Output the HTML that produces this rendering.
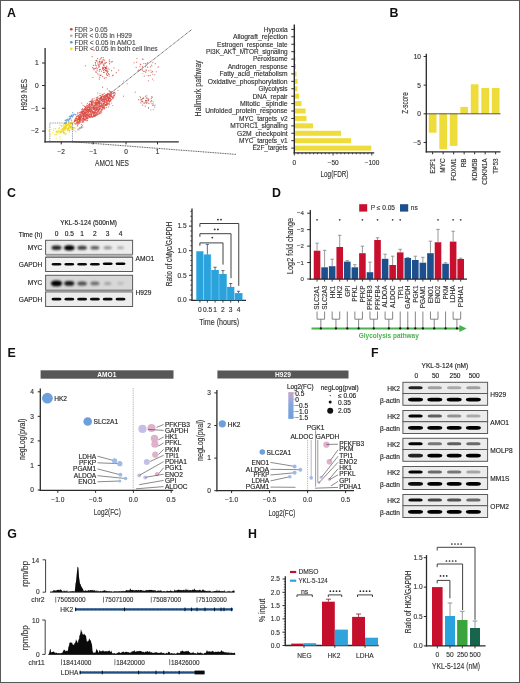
<!DOCTYPE html>
<html><head><meta charset="utf-8"><style>
html,body{margin:0;padding:0;background:#fff;}
body{width:520px;height:683px;overflow:hidden;}
svg{display:block;font-family:"Liberation Sans", sans-serif;will-change:transform;}
</style></head><body>
<svg width="520" height="683" viewBox="0 0 520 683">
<defs>
<filter id="bl" x="-50%" y="-100%" width="200%" height="300%"><feGaussianBlur stdDeviation="0.65"/></filter>
<filter id="bl2" x="-50%" y="-100%" width="200%" height="300%"><feGaussianBlur stdDeviation="0.9"/></filter>
<linearGradient id="lg" x1="0" y1="0" x2="0" y2="1">
<stop offset="0" stop-color="#c9a3c4"/><stop offset="0.22" stop-color="#a9a9d8"/>
<stop offset="0.45" stop-color="#86a7dc"/><stop offset="1" stop-color="#6e9edd"/></linearGradient>
</defs>
<rect x="0" y="0" width="520" height="683" fill="#fff"/>
<text x="7" y="16.9" font-size="12.4" font-weight="bold" fill="#111">A</text>
<circle cx="71.3" cy="29.25" r="1.35" fill="#c8433a"/>
<text x="74.4" y="31.61" font-size="6.6" textLength="33.1" lengthAdjust="spacingAndGlyphs" fill="#4a4a4a" stroke="#4a4a4a" stroke-width="0.14">FDR &gt; 0.05</text>
<circle cx="71.3" cy="35.75" r="1.35" fill="#b0b0b0"/>
<text x="74.4" y="38.11" font-size="6.6" textLength="57.5" lengthAdjust="spacingAndGlyphs" fill="#4a4a4a" stroke="#4a4a4a" stroke-width="0.14">FDR &lt; 0.05 in H929</text>
<circle cx="71.3" cy="42.25" r="1.35" fill="#5a9ad0"/>
<text x="74.4" y="44.61" font-size="6.6" textLength="61.2" lengthAdjust="spacingAndGlyphs" fill="#4a4a4a" stroke="#4a4a4a" stroke-width="0.14">FDR &lt; 0.05 in AMO1</text>
<circle cx="71.3" cy="48.9" r="1.35" fill="#eedc2a"/>
<text x="74.4" y="51.26" font-size="6.6" textLength="83.3" lengthAdjust="spacingAndGlyphs" fill="#4a4a4a" stroke="#4a4a4a" stroke-width="0.14">FDR &lt; 0.05 in both cell lines</text>
<line x1="72.5" y1="123" x2="191.9" y2="29.4" stroke="#2a2a2a" stroke-width="0.8" stroke-dasharray="1 0.7"/>
<line x1="72.5" y1="141.8" x2="236" y2="154.4" stroke="#2a2a2a" stroke-width="0.8" stroke-dasharray="1 0.7"/>
<g>
<circle cx="84.22" cy="109.12" r="0.62" fill="#dc4a44" fill-opacity="0.8"/>
<circle cx="96.94" cy="97.76" r="0.62" fill="#dc4a44" fill-opacity="0.8"/>
<circle cx="85" cy="106.57" r="0.62" fill="#dc4a44" fill-opacity="0.8"/>
<circle cx="77.15" cy="119.82" r="0.62" fill="#dc4a44" fill-opacity="0.8"/>
<circle cx="103.99" cy="108.94" r="0.62" fill="#dc4a44" fill-opacity="0.8"/>
<circle cx="107.74" cy="94.1" r="0.62" fill="#dc4a44" fill-opacity="0.8"/>
<circle cx="89.49" cy="117.3" r="0.62" fill="#dc4a44" fill-opacity="0.8"/>
<circle cx="82.09" cy="118.57" r="0.62" fill="#dc4a44" fill-opacity="0.8"/>
<circle cx="99.16" cy="101.68" r="0.62" fill="#dc4a44" fill-opacity="0.8"/>
<circle cx="83.95" cy="118.84" r="0.62" fill="#dc4a44" fill-opacity="0.8"/>
<circle cx="89.84" cy="107.58" r="0.62" fill="#dc4a44" fill-opacity="0.8"/>
<circle cx="97.69" cy="104.31" r="0.62" fill="#dc4a44" fill-opacity="0.8"/>
<circle cx="88.93" cy="117.31" r="0.62" fill="#dc4a44" fill-opacity="0.8"/>
<circle cx="100.56" cy="98.37" r="0.62" fill="#dc4a44" fill-opacity="0.8"/>
<circle cx="97.91" cy="105.56" r="0.62" fill="#dc4a44" fill-opacity="0.8"/>
<circle cx="93.66" cy="113.37" r="0.62" fill="#dc4a44" fill-opacity="0.8"/>
<circle cx="80.16" cy="118.5" r="0.62" fill="#dc4a44" fill-opacity="0.8"/>
<circle cx="76.81" cy="123.77" r="0.62" fill="#dc4a44" fill-opacity="0.8"/>
<circle cx="101.2" cy="109.96" r="0.62" fill="#dc4a44" fill-opacity="0.8"/>
<circle cx="88.65" cy="115.75" r="0.62" fill="#dc4a44" fill-opacity="0.8"/>
<circle cx="99.25" cy="105.59" r="0.62" fill="#dc4a44" fill-opacity="0.8"/>
<circle cx="96.1" cy="113.29" r="0.62" fill="#dc4a44" fill-opacity="0.8"/>
<circle cx="112.75" cy="93.27" r="0.62" fill="#dc4a44" fill-opacity="0.8"/>
<circle cx="77.96" cy="123.44" r="0.62" fill="#dc4a44" fill-opacity="0.8"/>
<circle cx="84.72" cy="113.13" r="0.62" fill="#dc4a44" fill-opacity="0.8"/>
<circle cx="89.78" cy="104.59" r="0.62" fill="#dc4a44" fill-opacity="0.8"/>
<circle cx="93.57" cy="115.57" r="0.62" fill="#dc4a44" fill-opacity="0.8"/>
<circle cx="76.92" cy="120.38" r="0.62" fill="#dc4a44" fill-opacity="0.8"/>
<circle cx="112.87" cy="98.66" r="0.62" fill="#dc4a44" fill-opacity="0.8"/>
<circle cx="84.73" cy="113.66" r="0.62" fill="#dc4a44" fill-opacity="0.8"/>
<circle cx="92.29" cy="116.65" r="0.62" fill="#dc4a44" fill-opacity="0.8"/>
<circle cx="94.86" cy="109.23" r="0.62" fill="#dc4a44" fill-opacity="0.8"/>
<circle cx="90.01" cy="108.55" r="0.62" fill="#dc4a44" fill-opacity="0.8"/>
<circle cx="101.68" cy="111.16" r="0.62" fill="#dc4a44" fill-opacity="0.8"/>
<circle cx="96.4" cy="108.63" r="0.62" fill="#dc4a44" fill-opacity="0.8"/>
<circle cx="97.89" cy="96.83" r="0.62" fill="#dc4a44" fill-opacity="0.8"/>
<circle cx="109.26" cy="102.79" r="0.62" fill="#dc4a44" fill-opacity="0.8"/>
<circle cx="89.22" cy="109.78" r="0.62" fill="#dc4a44" fill-opacity="0.8"/>
<circle cx="79.4" cy="116.63" r="0.62" fill="#dc4a44" fill-opacity="0.8"/>
<circle cx="84.62" cy="106.25" r="0.62" fill="#dc4a44" fill-opacity="0.8"/>
<circle cx="96.04" cy="99.73" r="0.62" fill="#dc4a44" fill-opacity="0.8"/>
<circle cx="83.08" cy="113.75" r="0.62" fill="#dc4a44" fill-opacity="0.8"/>
<circle cx="85.54" cy="107.39" r="0.62" fill="#dc4a44" fill-opacity="0.8"/>
<circle cx="93.04" cy="108.47" r="0.62" fill="#dc4a44" fill-opacity="0.8"/>
<circle cx="85.98" cy="109.81" r="0.62" fill="#dc4a44" fill-opacity="0.8"/>
<circle cx="91.78" cy="100.24" r="0.62" fill="#dc4a44" fill-opacity="0.8"/>
<circle cx="100.59" cy="98.65" r="0.62" fill="#dc4a44" fill-opacity="0.8"/>
<circle cx="86.04" cy="107.83" r="0.62" fill="#dc4a44" fill-opacity="0.8"/>
<circle cx="106.09" cy="99.35" r="0.62" fill="#dc4a44" fill-opacity="0.8"/>
<circle cx="104.7" cy="96.92" r="0.62" fill="#dc4a44" fill-opacity="0.8"/>
<circle cx="85.77" cy="119.75" r="0.62" fill="#dc4a44" fill-opacity="0.8"/>
<circle cx="109.82" cy="101.29" r="0.62" fill="#dc4a44" fill-opacity="0.8"/>
<circle cx="83.47" cy="116.44" r="0.62" fill="#dc4a44" fill-opacity="0.8"/>
<circle cx="83.41" cy="111.87" r="0.62" fill="#dc4a44" fill-opacity="0.8"/>
<circle cx="80.8" cy="112.95" r="0.62" fill="#dc4a44" fill-opacity="0.8"/>
<circle cx="83.42" cy="118.29" r="0.62" fill="#dc4a44" fill-opacity="0.8"/>
<circle cx="95.26" cy="110.22" r="0.62" fill="#dc4a44" fill-opacity="0.8"/>
<circle cx="104.92" cy="107.33" r="0.62" fill="#dc4a44" fill-opacity="0.8"/>
<circle cx="104.73" cy="99.44" r="0.62" fill="#dc4a44" fill-opacity="0.8"/>
<circle cx="89.38" cy="109.69" r="0.62" fill="#dc4a44" fill-opacity="0.8"/>
<circle cx="82.57" cy="122.15" r="0.62" fill="#dc4a44" fill-opacity="0.8"/>
<circle cx="99.73" cy="100.86" r="0.62" fill="#dc4a44" fill-opacity="0.8"/>
<circle cx="93.03" cy="101.4" r="0.62" fill="#dc4a44" fill-opacity="0.8"/>
<circle cx="101.02" cy="103.18" r="0.62" fill="#dc4a44" fill-opacity="0.8"/>
<circle cx="112" cy="93.23" r="0.62" fill="#dc4a44" fill-opacity="0.8"/>
<circle cx="83.79" cy="111.2" r="0.62" fill="#dc4a44" fill-opacity="0.8"/>
<circle cx="95.89" cy="101.9" r="0.62" fill="#dc4a44" fill-opacity="0.8"/>
<circle cx="87.75" cy="105.6" r="0.62" fill="#dc4a44" fill-opacity="0.8"/>
<circle cx="101.87" cy="109.96" r="0.62" fill="#dc4a44" fill-opacity="0.8"/>
<circle cx="95.3" cy="115.29" r="0.62" fill="#dc4a44" fill-opacity="0.8"/>
<circle cx="96.14" cy="106.89" r="0.62" fill="#dc4a44" fill-opacity="0.8"/>
<circle cx="80.87" cy="117.7" r="0.62" fill="#dc4a44" fill-opacity="0.8"/>
<circle cx="104.38" cy="101.11" r="0.62" fill="#dc4a44" fill-opacity="0.8"/>
<circle cx="87.59" cy="113.32" r="0.62" fill="#dc4a44" fill-opacity="0.8"/>
<circle cx="99.63" cy="109.42" r="0.62" fill="#dc4a44" fill-opacity="0.8"/>
<circle cx="78.81" cy="120.67" r="0.62" fill="#dc4a44" fill-opacity="0.8"/>
<circle cx="82.33" cy="113.1" r="0.62" fill="#dc4a44" fill-opacity="0.8"/>
<circle cx="105.9" cy="99.06" r="0.62" fill="#dc4a44" fill-opacity="0.8"/>
<circle cx="99.65" cy="108.9" r="0.62" fill="#dc4a44" fill-opacity="0.8"/>
<circle cx="111.19" cy="93.98" r="0.62" fill="#dc4a44" fill-opacity="0.8"/>
<circle cx="99.29" cy="104.1" r="0.62" fill="#dc4a44" fill-opacity="0.8"/>
<circle cx="97.01" cy="109.7" r="0.62" fill="#dc4a44" fill-opacity="0.8"/>
<circle cx="92.96" cy="109.53" r="0.62" fill="#dc4a44" fill-opacity="0.8"/>
<circle cx="98.04" cy="113.96" r="0.62" fill="#dc4a44" fill-opacity="0.8"/>
<circle cx="85.19" cy="115.87" r="0.62" fill="#dc4a44" fill-opacity="0.8"/>
<circle cx="78.25" cy="122.76" r="0.62" fill="#dc4a44" fill-opacity="0.8"/>
<circle cx="104.91" cy="102.57" r="0.62" fill="#dc4a44" fill-opacity="0.8"/>
<circle cx="80.09" cy="117.61" r="0.62" fill="#dc4a44" fill-opacity="0.8"/>
<circle cx="93.65" cy="105.03" r="0.62" fill="#dc4a44" fill-opacity="0.8"/>
<circle cx="80.57" cy="115.3" r="0.62" fill="#dc4a44" fill-opacity="0.8"/>
<circle cx="96.25" cy="105.14" r="0.62" fill="#dc4a44" fill-opacity="0.8"/>
<circle cx="99.83" cy="103.82" r="0.62" fill="#dc4a44" fill-opacity="0.8"/>
<circle cx="104.2" cy="96.28" r="0.62" fill="#dc4a44" fill-opacity="0.8"/>
<circle cx="78.72" cy="118.54" r="0.62" fill="#dc4a44" fill-opacity="0.8"/>
<circle cx="81.65" cy="111.34" r="0.62" fill="#dc4a44" fill-opacity="0.8"/>
<circle cx="99.43" cy="107.86" r="0.62" fill="#dc4a44" fill-opacity="0.8"/>
<circle cx="101.7" cy="100.78" r="0.62" fill="#dc4a44" fill-opacity="0.8"/>
<circle cx="102.91" cy="106.95" r="0.62" fill="#dc4a44" fill-opacity="0.8"/>
<circle cx="91.13" cy="107.03" r="0.62" fill="#dc4a44" fill-opacity="0.8"/>
<circle cx="79.51" cy="119.61" r="0.62" fill="#dc4a44" fill-opacity="0.8"/>
<circle cx="85.12" cy="111.3" r="0.62" fill="#dc4a44" fill-opacity="0.8"/>
<circle cx="103.53" cy="97.08" r="0.62" fill="#dc4a44" fill-opacity="0.8"/>
<circle cx="91.39" cy="103.41" r="0.62" fill="#dc4a44" fill-opacity="0.8"/>
<circle cx="104.65" cy="100.79" r="0.62" fill="#dc4a44" fill-opacity="0.8"/>
<circle cx="81.58" cy="117.16" r="0.62" fill="#dc4a44" fill-opacity="0.8"/>
<circle cx="107.21" cy="96.79" r="0.62" fill="#dc4a44" fill-opacity="0.8"/>
<circle cx="97.72" cy="112.1" r="0.62" fill="#dc4a44" fill-opacity="0.8"/>
<circle cx="90.25" cy="111.07" r="0.62" fill="#dc4a44" fill-opacity="0.8"/>
<circle cx="91.12" cy="116.5" r="0.62" fill="#dc4a44" fill-opacity="0.8"/>
<circle cx="104.32" cy="102.6" r="0.62" fill="#dc4a44" fill-opacity="0.8"/>
<circle cx="89.23" cy="108.75" r="0.62" fill="#dc4a44" fill-opacity="0.8"/>
<circle cx="99.68" cy="99.65" r="0.62" fill="#dc4a44" fill-opacity="0.8"/>
<circle cx="82.22" cy="113.49" r="0.62" fill="#dc4a44" fill-opacity="0.8"/>
<circle cx="89.59" cy="104.54" r="0.62" fill="#dc4a44" fill-opacity="0.8"/>
<circle cx="90.08" cy="106.34" r="0.62" fill="#dc4a44" fill-opacity="0.8"/>
<circle cx="94.06" cy="102.88" r="0.62" fill="#dc4a44" fill-opacity="0.8"/>
<circle cx="89.48" cy="111.04" r="0.62" fill="#dc4a44" fill-opacity="0.8"/>
<circle cx="91.73" cy="103.63" r="0.62" fill="#dc4a44" fill-opacity="0.8"/>
<circle cx="84.3" cy="116.99" r="0.62" fill="#dc4a44" fill-opacity="0.8"/>
<circle cx="98.26" cy="109.88" r="0.62" fill="#dc4a44" fill-opacity="0.8"/>
<circle cx="103.05" cy="105.16" r="0.62" fill="#dc4a44" fill-opacity="0.8"/>
<circle cx="109.39" cy="94.49" r="0.62" fill="#dc4a44" fill-opacity="0.8"/>
<circle cx="81.91" cy="121" r="0.62" fill="#dc4a44" fill-opacity="0.8"/>
<circle cx="96.34" cy="97.64" r="0.62" fill="#dc4a44" fill-opacity="0.8"/>
<circle cx="111.74" cy="96.46" r="0.62" fill="#dc4a44" fill-opacity="0.8"/>
<circle cx="106.93" cy="103.69" r="0.62" fill="#dc4a44" fill-opacity="0.8"/>
<circle cx="79.91" cy="119.26" r="0.62" fill="#dc4a44" fill-opacity="0.8"/>
<circle cx="98.12" cy="111.81" r="0.62" fill="#dc4a44" fill-opacity="0.8"/>
<circle cx="109.83" cy="101.42" r="0.62" fill="#dc4a44" fill-opacity="0.8"/>
<circle cx="112.2" cy="96.98" r="0.62" fill="#dc4a44" fill-opacity="0.8"/>
<circle cx="78.38" cy="117.8" r="0.62" fill="#dc4a44" fill-opacity="0.8"/>
<circle cx="98.25" cy="107.35" r="0.62" fill="#dc4a44" fill-opacity="0.8"/>
<circle cx="101.47" cy="105.78" r="0.62" fill="#dc4a44" fill-opacity="0.8"/>
<circle cx="89.23" cy="101.52" r="0.62" fill="#dc4a44" fill-opacity="0.8"/>
<circle cx="104.87" cy="99.77" r="0.62" fill="#dc4a44" fill-opacity="0.8"/>
<circle cx="97.61" cy="108.51" r="0.62" fill="#dc4a44" fill-opacity="0.8"/>
<circle cx="75.3" cy="118.8" r="0.62" fill="#dc4a44" fill-opacity="0.8"/>
<circle cx="84.41" cy="119.5" r="0.62" fill="#dc4a44" fill-opacity="0.8"/>
<circle cx="95.55" cy="110.62" r="0.62" fill="#dc4a44" fill-opacity="0.8"/>
<circle cx="106.59" cy="100.43" r="0.62" fill="#dc4a44" fill-opacity="0.8"/>
<circle cx="86.52" cy="118.09" r="0.62" fill="#dc4a44" fill-opacity="0.8"/>
<circle cx="87.13" cy="114.57" r="0.62" fill="#dc4a44" fill-opacity="0.8"/>
<circle cx="86.54" cy="116.85" r="0.62" fill="#dc4a44" fill-opacity="0.8"/>
<circle cx="104.08" cy="103.54" r="0.62" fill="#dc4a44" fill-opacity="0.8"/>
<circle cx="86.12" cy="114.41" r="0.62" fill="#dc4a44" fill-opacity="0.8"/>
<circle cx="92.81" cy="108.29" r="0.62" fill="#dc4a44" fill-opacity="0.8"/>
<circle cx="96.02" cy="112.96" r="0.62" fill="#dc4a44" fill-opacity="0.8"/>
<circle cx="83.34" cy="117.63" r="0.62" fill="#dc4a44" fill-opacity="0.8"/>
<circle cx="80.01" cy="119.19" r="0.62" fill="#dc4a44" fill-opacity="0.8"/>
<circle cx="107.88" cy="97.55" r="0.62" fill="#dc4a44" fill-opacity="0.8"/>
<circle cx="110.9" cy="94.87" r="0.62" fill="#dc4a44" fill-opacity="0.8"/>
<circle cx="93.77" cy="107.23" r="0.62" fill="#dc4a44" fill-opacity="0.8"/>
<circle cx="83.27" cy="109.75" r="0.62" fill="#dc4a44" fill-opacity="0.8"/>
<circle cx="86.5" cy="110.37" r="0.62" fill="#dc4a44" fill-opacity="0.8"/>
<circle cx="113.77" cy="96.16" r="0.62" fill="#dc4a44" fill-opacity="0.8"/>
<circle cx="84.82" cy="112.8" r="0.62" fill="#dc4a44" fill-opacity="0.8"/>
<circle cx="96.96" cy="103.06" r="0.62" fill="#dc4a44" fill-opacity="0.8"/>
<circle cx="89.48" cy="107.08" r="0.62" fill="#dc4a44" fill-opacity="0.8"/>
<circle cx="106.69" cy="94.78" r="0.62" fill="#dc4a44" fill-opacity="0.8"/>
<circle cx="85.03" cy="115.14" r="0.62" fill="#dc4a44" fill-opacity="0.8"/>
<circle cx="80.78" cy="116.08" r="0.62" fill="#dc4a44" fill-opacity="0.8"/>
<circle cx="108.53" cy="99.11" r="0.62" fill="#dc4a44" fill-opacity="0.8"/>
<circle cx="98.76" cy="108.81" r="0.62" fill="#dc4a44" fill-opacity="0.8"/>
<circle cx="95.02" cy="112.35" r="0.62" fill="#dc4a44" fill-opacity="0.8"/>
<circle cx="98.61" cy="100.49" r="0.62" fill="#dc4a44" fill-opacity="0.8"/>
<circle cx="79.01" cy="119.12" r="0.62" fill="#dc4a44" fill-opacity="0.8"/>
<circle cx="86.32" cy="110.17" r="0.62" fill="#dc4a44" fill-opacity="0.8"/>
<circle cx="86.04" cy="116.93" r="0.62" fill="#dc4a44" fill-opacity="0.8"/>
<circle cx="86.89" cy="114.56" r="0.62" fill="#dc4a44" fill-opacity="0.8"/>
<circle cx="87.13" cy="106.89" r="0.62" fill="#dc4a44" fill-opacity="0.8"/>
<circle cx="78.32" cy="115.28" r="0.62" fill="#dc4a44" fill-opacity="0.8"/>
<circle cx="91.69" cy="104.06" r="0.62" fill="#dc4a44" fill-opacity="0.8"/>
<circle cx="89.05" cy="104.64" r="0.62" fill="#dc4a44" fill-opacity="0.8"/>
<circle cx="85.23" cy="116.02" r="0.62" fill="#dc4a44" fill-opacity="0.8"/>
<circle cx="91.28" cy="110.62" r="0.62" fill="#dc4a44" fill-opacity="0.8"/>
<circle cx="88.02" cy="109.55" r="0.62" fill="#dc4a44" fill-opacity="0.8"/>
<circle cx="74.9" cy="119.33" r="0.62" fill="#dc4a44" fill-opacity="0.8"/>
<circle cx="79.19" cy="119.48" r="0.62" fill="#dc4a44" fill-opacity="0.8"/>
<circle cx="103.29" cy="107.85" r="0.62" fill="#dc4a44" fill-opacity="0.8"/>
<circle cx="80.99" cy="114.12" r="0.62" fill="#dc4a44" fill-opacity="0.8"/>
<circle cx="83.37" cy="114.46" r="0.62" fill="#dc4a44" fill-opacity="0.8"/>
<circle cx="96.75" cy="115.03" r="0.62" fill="#dc4a44" fill-opacity="0.8"/>
<circle cx="110.72" cy="94.81" r="0.62" fill="#dc4a44" fill-opacity="0.8"/>
<circle cx="94.11" cy="116.23" r="0.62" fill="#dc4a44" fill-opacity="0.8"/>
<circle cx="97.32" cy="109.23" r="0.62" fill="#dc4a44" fill-opacity="0.8"/>
<circle cx="114.44" cy="95.74" r="0.62" fill="#dc4a44" fill-opacity="0.8"/>
<circle cx="105.16" cy="98.75" r="0.62" fill="#dc4a44" fill-opacity="0.8"/>
<circle cx="92.27" cy="100.16" r="0.62" fill="#dc4a44" fill-opacity="0.8"/>
<circle cx="87.09" cy="120.65" r="0.62" fill="#dc4a44" fill-opacity="0.8"/>
<circle cx="102.04" cy="105.66" r="0.62" fill="#dc4a44" fill-opacity="0.8"/>
<circle cx="96.42" cy="107.89" r="0.62" fill="#dc4a44" fill-opacity="0.8"/>
<circle cx="87.41" cy="107.79" r="0.62" fill="#dc4a44" fill-opacity="0.8"/>
<circle cx="97.45" cy="114.67" r="0.62" fill="#dc4a44" fill-opacity="0.8"/>
<circle cx="110.24" cy="95.2" r="0.62" fill="#dc4a44" fill-opacity="0.8"/>
<circle cx="81.54" cy="113.23" r="0.62" fill="#dc4a44" fill-opacity="0.8"/>
<circle cx="96.27" cy="109.92" r="0.62" fill="#dc4a44" fill-opacity="0.8"/>
<circle cx="88.99" cy="107.13" r="0.62" fill="#dc4a44" fill-opacity="0.8"/>
<circle cx="99.45" cy="98.32" r="0.62" fill="#dc4a44" fill-opacity="0.8"/>
<circle cx="108.82" cy="100.75" r="0.62" fill="#dc4a44" fill-opacity="0.8"/>
<circle cx="91.87" cy="103.62" r="0.62" fill="#dc4a44" fill-opacity="0.8"/>
<circle cx="105.63" cy="94.64" r="0.62" fill="#dc4a44" fill-opacity="0.8"/>
<circle cx="85.28" cy="119.24" r="0.62" fill="#dc4a44" fill-opacity="0.8"/>
<circle cx="79.46" cy="114.58" r="0.62" fill="#dc4a44" fill-opacity="0.8"/>
<circle cx="92.75" cy="112.27" r="0.62" fill="#dc4a44" fill-opacity="0.8"/>
<circle cx="87.52" cy="107.48" r="0.62" fill="#dc4a44" fill-opacity="0.8"/>
<circle cx="93.92" cy="115.83" r="0.62" fill="#dc4a44" fill-opacity="0.8"/>
<circle cx="112.21" cy="97.79" r="0.62" fill="#dc4a44" fill-opacity="0.8"/>
<circle cx="87.84" cy="109.57" r="0.62" fill="#dc4a44" fill-opacity="0.8"/>
<circle cx="84.23" cy="112.89" r="0.62" fill="#dc4a44" fill-opacity="0.8"/>
<circle cx="91.62" cy="115.96" r="0.62" fill="#dc4a44" fill-opacity="0.8"/>
<circle cx="107.34" cy="96.7" r="0.62" fill="#dc4a44" fill-opacity="0.8"/>
<circle cx="93.87" cy="114.26" r="0.62" fill="#dc4a44" fill-opacity="0.8"/>
<circle cx="110.11" cy="91.94" r="0.62" fill="#dc4a44" fill-opacity="0.8"/>
<circle cx="101.94" cy="98.66" r="0.62" fill="#dc4a44" fill-opacity="0.8"/>
<circle cx="108.67" cy="104.09" r="0.62" fill="#dc4a44" fill-opacity="0.8"/>
<circle cx="83.41" cy="115.75" r="0.62" fill="#dc4a44" fill-opacity="0.8"/>
<circle cx="87.6" cy="108.17" r="0.62" fill="#dc4a44" fill-opacity="0.8"/>
<circle cx="91.65" cy="109.74" r="0.62" fill="#dc4a44" fill-opacity="0.8"/>
<circle cx="109.03" cy="100.56" r="0.62" fill="#dc4a44" fill-opacity="0.8"/>
<circle cx="110.11" cy="100.24" r="0.62" fill="#dc4a44" fill-opacity="0.8"/>
<circle cx="85.88" cy="110.95" r="0.62" fill="#dc4a44" fill-opacity="0.8"/>
<circle cx="91.49" cy="115.34" r="0.62" fill="#dc4a44" fill-opacity="0.8"/>
<circle cx="102.89" cy="96.8" r="0.62" fill="#dc4a44" fill-opacity="0.8"/>
<circle cx="95.08" cy="103.74" r="0.62" fill="#dc4a44" fill-opacity="0.8"/>
<circle cx="96.63" cy="110.37" r="0.62" fill="#dc4a44" fill-opacity="0.8"/>
<circle cx="89.84" cy="105.93" r="0.62" fill="#dc4a44" fill-opacity="0.8"/>
<circle cx="92.31" cy="111.72" r="0.62" fill="#dc4a44" fill-opacity="0.8"/>
<circle cx="104" cy="104.98" r="0.62" fill="#dc4a44" fill-opacity="0.8"/>
<circle cx="110.21" cy="98.31" r="0.62" fill="#dc4a44" fill-opacity="0.8"/>
<circle cx="86.68" cy="114.89" r="0.62" fill="#dc4a44" fill-opacity="0.8"/>
<circle cx="91.56" cy="114.48" r="0.62" fill="#dc4a44" fill-opacity="0.8"/>
<circle cx="80.12" cy="114.43" r="0.62" fill="#dc4a44" fill-opacity="0.8"/>
<circle cx="81.16" cy="111.84" r="0.62" fill="#dc4a44" fill-opacity="0.8"/>
<circle cx="96.18" cy="102.97" r="0.62" fill="#dc4a44" fill-opacity="0.8"/>
<circle cx="92.23" cy="103.89" r="0.62" fill="#dc4a44" fill-opacity="0.8"/>
<circle cx="108.57" cy="99.46" r="0.62" fill="#dc4a44" fill-opacity="0.8"/>
<circle cx="96.7" cy="112.49" r="0.62" fill="#dc4a44" fill-opacity="0.8"/>
<circle cx="76.5" cy="116.54" r="0.62" fill="#dc4a44" fill-opacity="0.8"/>
<circle cx="109.31" cy="95.49" r="0.62" fill="#dc4a44" fill-opacity="0.8"/>
<circle cx="87.07" cy="118.29" r="0.62" fill="#dc4a44" fill-opacity="0.8"/>
<circle cx="99.69" cy="106.03" r="0.62" fill="#dc4a44" fill-opacity="0.8"/>
<circle cx="81.86" cy="115.12" r="0.62" fill="#dc4a44" fill-opacity="0.8"/>
<circle cx="100.13" cy="106.31" r="0.62" fill="#dc4a44" fill-opacity="0.8"/>
<circle cx="89.07" cy="115.15" r="0.62" fill="#dc4a44" fill-opacity="0.8"/>
<circle cx="80.09" cy="115.59" r="0.62" fill="#dc4a44" fill-opacity="0.8"/>
<circle cx="84.79" cy="120.15" r="0.62" fill="#dc4a44" fill-opacity="0.8"/>
<circle cx="90.75" cy="111.53" r="0.62" fill="#dc4a44" fill-opacity="0.8"/>
<circle cx="101.87" cy="100.38" r="0.62" fill="#dc4a44" fill-opacity="0.8"/>
<circle cx="83.99" cy="112.28" r="0.62" fill="#dc4a44" fill-opacity="0.8"/>
<circle cx="111.93" cy="91.47" r="0.62" fill="#dc4a44" fill-opacity="0.8"/>
<circle cx="87.95" cy="111.13" r="0.62" fill="#dc4a44" fill-opacity="0.8"/>
<circle cx="86.2" cy="108.3" r="0.62" fill="#dc4a44" fill-opacity="0.8"/>
<circle cx="101.45" cy="97.05" r="0.62" fill="#dc4a44" fill-opacity="0.8"/>
<circle cx="94.51" cy="113.99" r="0.62" fill="#dc4a44" fill-opacity="0.8"/>
<circle cx="94.34" cy="115.27" r="0.62" fill="#dc4a44" fill-opacity="0.8"/>
<circle cx="89.7" cy="104.55" r="0.62" fill="#dc4a44" fill-opacity="0.8"/>
<circle cx="74.95" cy="123.44" r="0.62" fill="#dc4a44" fill-opacity="0.8"/>
<circle cx="98.45" cy="102.17" r="0.62" fill="#dc4a44" fill-opacity="0.8"/>
<circle cx="91.26" cy="102.86" r="0.62" fill="#dc4a44" fill-opacity="0.8"/>
<circle cx="85.84" cy="114.7" r="0.62" fill="#dc4a44" fill-opacity="0.8"/>
<circle cx="97.23" cy="111.84" r="0.62" fill="#dc4a44" fill-opacity="0.8"/>
<circle cx="111.35" cy="93.02" r="0.62" fill="#dc4a44" fill-opacity="0.8"/>
<circle cx="102.57" cy="107.71" r="0.62" fill="#dc4a44" fill-opacity="0.8"/>
<circle cx="93.92" cy="114.87" r="0.62" fill="#dc4a44" fill-opacity="0.8"/>
<circle cx="90.63" cy="110.99" r="0.62" fill="#dc4a44" fill-opacity="0.8"/>
<circle cx="86.3" cy="106.72" r="0.62" fill="#dc4a44" fill-opacity="0.8"/>
<circle cx="86.07" cy="118.09" r="0.62" fill="#dc4a44" fill-opacity="0.8"/>
<circle cx="99.65" cy="108.85" r="0.62" fill="#dc4a44" fill-opacity="0.8"/>
<circle cx="79.6" cy="120.7" r="0.62" fill="#dc4a44" fill-opacity="0.8"/>
<circle cx="97.9" cy="107.62" r="0.62" fill="#dc4a44" fill-opacity="0.8"/>
<circle cx="85.9" cy="112.82" r="0.62" fill="#dc4a44" fill-opacity="0.8"/>
<circle cx="97.3" cy="104.07" r="0.62" fill="#dc4a44" fill-opacity="0.8"/>
<circle cx="100.67" cy="101.94" r="0.62" fill="#dc4a44" fill-opacity="0.8"/>
<circle cx="87.47" cy="103.58" r="0.62" fill="#dc4a44" fill-opacity="0.8"/>
<circle cx="91.54" cy="104.51" r="0.62" fill="#dc4a44" fill-opacity="0.8"/>
<circle cx="107.83" cy="102.32" r="0.62" fill="#dc4a44" fill-opacity="0.8"/>
<circle cx="89.76" cy="104.86" r="0.62" fill="#dc4a44" fill-opacity="0.8"/>
<circle cx="89.63" cy="103.42" r="0.62" fill="#dc4a44" fill-opacity="0.8"/>
<circle cx="78.73" cy="118.66" r="0.62" fill="#dc4a44" fill-opacity="0.8"/>
<circle cx="77.32" cy="119.96" r="0.62" fill="#dc4a44" fill-opacity="0.8"/>
<circle cx="90.46" cy="101.34" r="0.62" fill="#dc4a44" fill-opacity="0.8"/>
<circle cx="79.11" cy="123.1" r="0.62" fill="#dc4a44" fill-opacity="0.8"/>
<circle cx="90.65" cy="101.48" r="0.62" fill="#dc4a44" fill-opacity="0.8"/>
<circle cx="106.88" cy="103.78" r="0.62" fill="#dc4a44" fill-opacity="0.8"/>
<circle cx="98.8" cy="113.77" r="0.62" fill="#dc4a44" fill-opacity="0.8"/>
<circle cx="83.09" cy="121.2" r="0.62" fill="#dc4a44" fill-opacity="0.8"/>
<circle cx="75.58" cy="119.92" r="0.62" fill="#dc4a44" fill-opacity="0.8"/>
<circle cx="88.04" cy="118.28" r="0.62" fill="#dc4a44" fill-opacity="0.8"/>
<circle cx="79.91" cy="118.91" r="0.62" fill="#dc4a44" fill-opacity="0.8"/>
<circle cx="84.87" cy="115.17" r="0.62" fill="#dc4a44" fill-opacity="0.8"/>
<circle cx="103.16" cy="94.43" r="0.62" fill="#dc4a44" fill-opacity="0.8"/>
<circle cx="98.94" cy="101.61" r="0.62" fill="#dc4a44" fill-opacity="0.8"/>
<circle cx="110.41" cy="96.35" r="0.62" fill="#dc4a44" fill-opacity="0.8"/>
<circle cx="101.54" cy="109.8" r="0.62" fill="#dc4a44" fill-opacity="0.8"/>
<circle cx="98.98" cy="102.22" r="0.62" fill="#dc4a44" fill-opacity="0.8"/>
<circle cx="104.95" cy="95.66" r="0.62" fill="#dc4a44" fill-opacity="0.8"/>
<circle cx="105.03" cy="98.59" r="0.62" fill="#dc4a44" fill-opacity="0.8"/>
<circle cx="83.23" cy="120.39" r="0.62" fill="#dc4a44" fill-opacity="0.8"/>
<circle cx="85.62" cy="116.94" r="0.62" fill="#dc4a44" fill-opacity="0.8"/>
<circle cx="115.18" cy="93.07" r="0.62" fill="#dc4a44" fill-opacity="0.8"/>
<circle cx="98.76" cy="103.11" r="0.62" fill="#dc4a44" fill-opacity="0.8"/>
<circle cx="99.04" cy="112.31" r="0.62" fill="#dc4a44" fill-opacity="0.8"/>
<circle cx="77.3" cy="116.49" r="0.62" fill="#dc4a44" fill-opacity="0.8"/>
<circle cx="83.92" cy="117.24" r="0.62" fill="#dc4a44" fill-opacity="0.8"/>
<circle cx="95.48" cy="101.14" r="0.62" fill="#dc4a44" fill-opacity="0.8"/>
<circle cx="99.48" cy="103.37" r="0.62" fill="#dc4a44" fill-opacity="0.8"/>
<circle cx="103.7" cy="107.65" r="0.62" fill="#dc4a44" fill-opacity="0.8"/>
<circle cx="105.43" cy="97.61" r="0.62" fill="#dc4a44" fill-opacity="0.8"/>
<circle cx="101.15" cy="103.75" r="0.62" fill="#dc4a44" fill-opacity="0.8"/>
<circle cx="89.75" cy="114.06" r="0.62" fill="#dc4a44" fill-opacity="0.8"/>
<circle cx="96.5" cy="114.88" r="0.62" fill="#dc4a44" fill-opacity="0.8"/>
<circle cx="94.98" cy="105.4" r="0.62" fill="#dc4a44" fill-opacity="0.8"/>
<circle cx="83.09" cy="118.27" r="0.62" fill="#dc4a44" fill-opacity="0.8"/>
<circle cx="96.29" cy="109.21" r="0.62" fill="#dc4a44" fill-opacity="0.8"/>
<circle cx="82.39" cy="108.75" r="0.62" fill="#dc4a44" fill-opacity="0.8"/>
<circle cx="108.06" cy="100.97" r="0.62" fill="#dc4a44" fill-opacity="0.8"/>
<circle cx="104.42" cy="99.45" r="0.62" fill="#dc4a44" fill-opacity="0.8"/>
<circle cx="104.17" cy="99.42" r="0.62" fill="#dc4a44" fill-opacity="0.8"/>
<circle cx="74.39" cy="120.65" r="0.62" fill="#dc4a44" fill-opacity="0.8"/>
<circle cx="105.69" cy="105.39" r="0.62" fill="#dc4a44" fill-opacity="0.8"/>
<circle cx="101.29" cy="98.24" r="0.62" fill="#dc4a44" fill-opacity="0.8"/>
<circle cx="96.2" cy="105.09" r="0.62" fill="#dc4a44" fill-opacity="0.8"/>
<circle cx="106.69" cy="98.72" r="0.62" fill="#dc4a44" fill-opacity="0.8"/>
<circle cx="86.14" cy="116.62" r="0.62" fill="#dc4a44" fill-opacity="0.8"/>
<circle cx="82.46" cy="112.25" r="0.62" fill="#dc4a44" fill-opacity="0.8"/>
<circle cx="103.28" cy="97.89" r="0.62" fill="#dc4a44" fill-opacity="0.8"/>
<circle cx="108.96" cy="93.84" r="0.62" fill="#dc4a44" fill-opacity="0.8"/>
<circle cx="87.27" cy="120.33" r="0.62" fill="#dc4a44" fill-opacity="0.8"/>
<circle cx="104.01" cy="103.4" r="0.62" fill="#dc4a44" fill-opacity="0.8"/>
<circle cx="114.14" cy="92.15" r="0.62" fill="#dc4a44" fill-opacity="0.8"/>
<circle cx="105.9" cy="105.44" r="0.62" fill="#dc4a44" fill-opacity="0.8"/>
<circle cx="94.17" cy="112.4" r="0.62" fill="#dc4a44" fill-opacity="0.8"/>
<circle cx="95.66" cy="102.98" r="0.62" fill="#dc4a44" fill-opacity="0.8"/>
<circle cx="83.73" cy="118.04" r="0.62" fill="#dc4a44" fill-opacity="0.8"/>
<circle cx="84.96" cy="108.29" r="0.62" fill="#dc4a44" fill-opacity="0.8"/>
<circle cx="103.73" cy="103.04" r="0.62" fill="#dc4a44" fill-opacity="0.8"/>
<circle cx="104.81" cy="104.08" r="0.62" fill="#dc4a44" fill-opacity="0.8"/>
<circle cx="110.28" cy="100.91" r="0.62" fill="#dc4a44" fill-opacity="0.8"/>
<circle cx="108.56" cy="99.14" r="0.62" fill="#dc4a44" fill-opacity="0.8"/>
<circle cx="109.07" cy="98.69" r="0.62" fill="#dc4a44" fill-opacity="0.8"/>
<circle cx="102.73" cy="96.21" r="0.62" fill="#dc4a44" fill-opacity="0.8"/>
<circle cx="86.46" cy="112.44" r="0.62" fill="#dc4a44" fill-opacity="0.8"/>
<circle cx="87.51" cy="116.92" r="0.62" fill="#dc4a44" fill-opacity="0.8"/>
<circle cx="87.51" cy="109.63" r="0.62" fill="#dc4a44" fill-opacity="0.8"/>
<circle cx="113.77" cy="92.94" r="0.62" fill="#dc4a44" fill-opacity="0.8"/>
<circle cx="94.6" cy="113.03" r="0.62" fill="#dc4a44" fill-opacity="0.8"/>
<circle cx="90.14" cy="114.87" r="0.62" fill="#dc4a44" fill-opacity="0.8"/>
<circle cx="93.4" cy="102.8" r="0.62" fill="#dc4a44" fill-opacity="0.8"/>
<circle cx="84.46" cy="119.83" r="0.62" fill="#dc4a44" fill-opacity="0.8"/>
<circle cx="94.14" cy="107.78" r="0.62" fill="#dc4a44" fill-opacity="0.8"/>
<circle cx="91.31" cy="116.36" r="0.62" fill="#dc4a44" fill-opacity="0.8"/>
<circle cx="83.2" cy="111.22" r="0.62" fill="#dc4a44" fill-opacity="0.8"/>
<circle cx="102.81" cy="101.27" r="0.62" fill="#dc4a44" fill-opacity="0.8"/>
<circle cx="79.55" cy="121.31" r="0.62" fill="#dc4a44" fill-opacity="0.8"/>
<circle cx="105.26" cy="104.65" r="0.62" fill="#dc4a44" fill-opacity="0.8"/>
<circle cx="98.55" cy="101.82" r="0.62" fill="#dc4a44" fill-opacity="0.8"/>
<circle cx="89.54" cy="109.44" r="0.62" fill="#dc4a44" fill-opacity="0.8"/>
<circle cx="80.53" cy="114.37" r="0.62" fill="#dc4a44" fill-opacity="0.8"/>
<circle cx="111.16" cy="94.91" r="0.62" fill="#dc4a44" fill-opacity="0.8"/>
<circle cx="93.18" cy="116.05" r="0.62" fill="#dc4a44" fill-opacity="0.8"/>
<circle cx="83.28" cy="115.61" r="0.62" fill="#dc4a44" fill-opacity="0.8"/>
<circle cx="98.39" cy="109.85" r="0.62" fill="#dc4a44" fill-opacity="0.8"/>
<circle cx="106.28" cy="101.2" r="0.62" fill="#dc4a44" fill-opacity="0.8"/>
<circle cx="86.78" cy="110.35" r="0.62" fill="#dc4a44" fill-opacity="0.8"/>
<circle cx="83.1" cy="122.05" r="0.62" fill="#dc4a44" fill-opacity="0.8"/>
<circle cx="101.76" cy="96.26" r="0.62" fill="#dc4a44" fill-opacity="0.8"/>
<circle cx="94.71" cy="112.96" r="0.62" fill="#dc4a44" fill-opacity="0.8"/>
<circle cx="94.31" cy="100.46" r="0.62" fill="#dc4a44" fill-opacity="0.8"/>
<circle cx="96.79" cy="113.7" r="0.62" fill="#dc4a44" fill-opacity="0.8"/>
<circle cx="81.19" cy="112.52" r="0.62" fill="#dc4a44" fill-opacity="0.8"/>
<circle cx="88.2" cy="116.21" r="0.62" fill="#dc4a44" fill-opacity="0.8"/>
<circle cx="82.72" cy="113.68" r="0.62" fill="#dc4a44" fill-opacity="0.8"/>
<circle cx="92.17" cy="102.55" r="0.62" fill="#dc4a44" fill-opacity="0.8"/>
<circle cx="84.73" cy="109.42" r="0.62" fill="#dc4a44" fill-opacity="0.8"/>
<circle cx="77.29" cy="119.07" r="0.62" fill="#dc4a44" fill-opacity="0.8"/>
<circle cx="103.66" cy="99.49" r="0.62" fill="#dc4a44" fill-opacity="0.8"/>
<circle cx="83.19" cy="118.69" r="0.62" fill="#dc4a44" fill-opacity="0.8"/>
<circle cx="74.65" cy="121.41" r="0.62" fill="#dc4a44" fill-opacity="0.8"/>
<circle cx="102.58" cy="101.48" r="0.62" fill="#dc4a44" fill-opacity="0.8"/>
<circle cx="99.72" cy="102.97" r="0.62" fill="#dc4a44" fill-opacity="0.8"/>
<circle cx="80.64" cy="120" r="0.62" fill="#dc4a44" fill-opacity="0.8"/>
<circle cx="92.94" cy="113.57" r="0.62" fill="#dc4a44" fill-opacity="0.8"/>
<circle cx="110.9" cy="94" r="0.62" fill="#dc4a44" fill-opacity="0.8"/>
<circle cx="100.03" cy="108.35" r="0.62" fill="#dc4a44" fill-opacity="0.8"/>
<circle cx="88.77" cy="106.73" r="0.62" fill="#dc4a44" fill-opacity="0.8"/>
<circle cx="107.06" cy="104.85" r="0.62" fill="#dc4a44" fill-opacity="0.8"/>
<circle cx="105.95" cy="105.3" r="0.62" fill="#dc4a44" fill-opacity="0.8"/>
<circle cx="103.27" cy="103.56" r="0.62" fill="#dc4a44" fill-opacity="0.8"/>
<circle cx="90.88" cy="106.69" r="0.62" fill="#dc4a44" fill-opacity="0.8"/>
<circle cx="108.02" cy="100.96" r="0.62" fill="#dc4a44" fill-opacity="0.8"/>
<circle cx="97.65" cy="100.5" r="0.62" fill="#dc4a44" fill-opacity="0.8"/>
<circle cx="91.02" cy="109.46" r="0.62" fill="#dc4a44" fill-opacity="0.8"/>
<circle cx="98.78" cy="102.66" r="0.62" fill="#dc4a44" fill-opacity="0.8"/>
<circle cx="103.49" cy="105.99" r="0.62" fill="#dc4a44" fill-opacity="0.8"/>
<circle cx="89.91" cy="111" r="0.62" fill="#dc4a44" fill-opacity="0.8"/>
<circle cx="93.09" cy="101.93" r="0.62" fill="#dc4a44" fill-opacity="0.8"/>
<circle cx="91.46" cy="101.86" r="0.62" fill="#dc4a44" fill-opacity="0.8"/>
<circle cx="98.07" cy="105.75" r="0.62" fill="#dc4a44" fill-opacity="0.8"/>
<circle cx="103.67" cy="100.86" r="0.62" fill="#dc4a44" fill-opacity="0.8"/>
<circle cx="103.36" cy="107.11" r="0.62" fill="#dc4a44" fill-opacity="0.8"/>
<circle cx="94.61" cy="105.76" r="0.62" fill="#dc4a44" fill-opacity="0.8"/>
<circle cx="101.25" cy="100.52" r="0.62" fill="#dc4a44" fill-opacity="0.8"/>
<circle cx="102.26" cy="95.14" r="0.62" fill="#dc4a44" fill-opacity="0.8"/>
<circle cx="93.21" cy="112.57" r="0.62" fill="#dc4a44" fill-opacity="0.8"/>
<circle cx="86.36" cy="109.5" r="0.62" fill="#dc4a44" fill-opacity="0.8"/>
<circle cx="85.24" cy="118.95" r="0.62" fill="#dc4a44" fill-opacity="0.8"/>
<circle cx="106.15" cy="96.9" r="0.62" fill="#dc4a44" fill-opacity="0.8"/>
<circle cx="79.66" cy="112.73" r="0.62" fill="#dc4a44" fill-opacity="0.8"/>
<circle cx="108.46" cy="99.22" r="0.62" fill="#dc4a44" fill-opacity="0.8"/>
<circle cx="93.94" cy="109.37" r="0.62" fill="#dc4a44" fill-opacity="0.8"/>
<circle cx="89.81" cy="113.9" r="0.62" fill="#dc4a44" fill-opacity="0.8"/>
<circle cx="86.54" cy="114.66" r="0.62" fill="#dc4a44" fill-opacity="0.8"/>
<circle cx="91.8" cy="116.36" r="0.62" fill="#dc4a44" fill-opacity="0.8"/>
<circle cx="83.94" cy="113.58" r="0.62" fill="#dc4a44" fill-opacity="0.8"/>
<circle cx="83.8" cy="114.58" r="0.62" fill="#dc4a44" fill-opacity="0.8"/>
<circle cx="101.86" cy="98.11" r="0.62" fill="#dc4a44" fill-opacity="0.8"/>
<circle cx="82.4" cy="113.49" r="0.62" fill="#dc4a44" fill-opacity="0.8"/>
<circle cx="93.05" cy="107.33" r="0.62" fill="#dc4a44" fill-opacity="0.8"/>
<circle cx="101.72" cy="105.15" r="0.62" fill="#dc4a44" fill-opacity="0.8"/>
<circle cx="92.85" cy="117.07" r="0.62" fill="#dc4a44" fill-opacity="0.8"/>
<circle cx="109.33" cy="98.5" r="0.62" fill="#dc4a44" fill-opacity="0.8"/>
<circle cx="85.93" cy="119.05" r="0.62" fill="#dc4a44" fill-opacity="0.8"/>
<circle cx="85.12" cy="108.36" r="0.62" fill="#dc4a44" fill-opacity="0.8"/>
<circle cx="111.56" cy="96.3" r="0.62" fill="#dc4a44" fill-opacity="0.8"/>
<circle cx="107.6" cy="100.52" r="0.62" fill="#dc4a44" fill-opacity="0.8"/>
<circle cx="113.05" cy="97.99" r="0.62" fill="#dc4a44" fill-opacity="0.8"/>
<circle cx="83.69" cy="119.23" r="0.62" fill="#dc4a44" fill-opacity="0.8"/>
<circle cx="98.24" cy="109.71" r="0.62" fill="#dc4a44" fill-opacity="0.8"/>
<circle cx="95.75" cy="114.34" r="0.62" fill="#dc4a44" fill-opacity="0.8"/>
<circle cx="94.6" cy="102.89" r="0.62" fill="#dc4a44" fill-opacity="0.8"/>
<circle cx="94.23" cy="107.85" r="0.62" fill="#dc4a44" fill-opacity="0.8"/>
<circle cx="99.77" cy="110.96" r="0.62" fill="#dc4a44" fill-opacity="0.8"/>
<circle cx="93.89" cy="109.41" r="0.62" fill="#dc4a44" fill-opacity="0.8"/>
<circle cx="104.48" cy="106.36" r="0.62" fill="#dc4a44" fill-opacity="0.8"/>
<circle cx="88.69" cy="110.58" r="0.62" fill="#dc4a44" fill-opacity="0.8"/>
<circle cx="101.5" cy="104.89" r="0.62" fill="#dc4a44" fill-opacity="0.8"/>
<circle cx="75.94" cy="123.55" r="0.62" fill="#dc4a44" fill-opacity="0.8"/>
<circle cx="111.14" cy="92.3" r="0.62" fill="#dc4a44" fill-opacity="0.8"/>
<circle cx="94.89" cy="107.07" r="0.62" fill="#dc4a44" fill-opacity="0.8"/>
<circle cx="104.69" cy="102.11" r="0.62" fill="#dc4a44" fill-opacity="0.8"/>
<circle cx="91.2" cy="116.96" r="0.62" fill="#dc4a44" fill-opacity="0.8"/>
<circle cx="88.85" cy="111.53" r="0.62" fill="#dc4a44" fill-opacity="0.8"/>
<circle cx="98.31" cy="110.26" r="0.62" fill="#dc4a44" fill-opacity="0.8"/>
<circle cx="82.13" cy="116.06" r="0.62" fill="#dc4a44" fill-opacity="0.8"/>
<circle cx="91.91" cy="110.73" r="0.62" fill="#dc4a44" fill-opacity="0.8"/>
<circle cx="106.42" cy="95.09" r="0.62" fill="#dc4a44" fill-opacity="0.8"/>
<circle cx="107.35" cy="96.22" r="0.62" fill="#dc4a44" fill-opacity="0.8"/>
<circle cx="92.48" cy="104.52" r="0.62" fill="#dc4a44" fill-opacity="0.8"/>
<circle cx="99.59" cy="113.55" r="0.62" fill="#dc4a44" fill-opacity="0.8"/>
<circle cx="105.25" cy="96.54" r="0.62" fill="#dc4a44" fill-opacity="0.8"/>
<circle cx="85.27" cy="111.07" r="0.62" fill="#dc4a44" fill-opacity="0.8"/>
<circle cx="99.44" cy="106.53" r="0.62" fill="#dc4a44" fill-opacity="0.8"/>
<circle cx="107.12" cy="104.9" r="0.62" fill="#dc4a44" fill-opacity="0.8"/>
<circle cx="100.56" cy="106.08" r="0.62" fill="#dc4a44" fill-opacity="0.8"/>
<circle cx="100.3" cy="105.48" r="0.62" fill="#dc4a44" fill-opacity="0.8"/>
<circle cx="101.64" cy="105.95" r="0.62" fill="#dc4a44" fill-opacity="0.8"/>
<circle cx="100.28" cy="106.77" r="0.62" fill="#dc4a44" fill-opacity="0.8"/>
<circle cx="84.12" cy="118.5" r="0.62" fill="#dc4a44" fill-opacity="0.8"/>
<circle cx="95.42" cy="112.26" r="0.62" fill="#dc4a44" fill-opacity="0.8"/>
<circle cx="110.22" cy="100.39" r="0.62" fill="#dc4a44" fill-opacity="0.8"/>
<circle cx="82.93" cy="113.06" r="0.62" fill="#dc4a44" fill-opacity="0.8"/>
<circle cx="89.65" cy="107.83" r="0.62" fill="#dc4a44" fill-opacity="0.8"/>
<circle cx="93.1" cy="111.56" r="0.62" fill="#dc4a44" fill-opacity="0.8"/>
<circle cx="108.01" cy="98.57" r="0.62" fill="#dc4a44" fill-opacity="0.8"/>
<circle cx="90.8" cy="112.29" r="0.62" fill="#dc4a44" fill-opacity="0.8"/>
<circle cx="92.73" cy="107.25" r="0.62" fill="#dc4a44" fill-opacity="0.8"/>
<circle cx="101.41" cy="97.74" r="0.62" fill="#dc4a44" fill-opacity="0.8"/>
<circle cx="101.55" cy="96.71" r="0.62" fill="#dc4a44" fill-opacity="0.8"/>
<circle cx="106.5" cy="104.87" r="0.62" fill="#dc4a44" fill-opacity="0.8"/>
<circle cx="100.5" cy="95.66" r="0.62" fill="#dc4a44" fill-opacity="0.8"/>
<circle cx="102.89" cy="100.53" r="0.62" fill="#dc4a44" fill-opacity="0.8"/>
<circle cx="110.62" cy="91.54" r="0.62" fill="#dc4a44" fill-opacity="0.8"/>
<circle cx="88.84" cy="116.23" r="0.62" fill="#dc4a44" fill-opacity="0.8"/>
<circle cx="75.47" cy="120.27" r="0.62" fill="#dc4a44" fill-opacity="0.8"/>
<circle cx="93.77" cy="111.76" r="0.62" fill="#dc4a44" fill-opacity="0.8"/>
<circle cx="101.76" cy="104.55" r="0.62" fill="#dc4a44" fill-opacity="0.8"/>
<circle cx="90.13" cy="108.78" r="0.62" fill="#dc4a44" fill-opacity="0.8"/>
<circle cx="106.89" cy="99.31" r="0.62" fill="#dc4a44" fill-opacity="0.8"/>
<circle cx="82.2" cy="109.17" r="0.62" fill="#dc4a44" fill-opacity="0.8"/>
<circle cx="105.86" cy="104.9" r="0.62" fill="#dc4a44" fill-opacity="0.8"/>
<circle cx="88.62" cy="114.16" r="0.62" fill="#dc4a44" fill-opacity="0.8"/>
<circle cx="96.98" cy="102.06" r="0.62" fill="#dc4a44" fill-opacity="0.8"/>
<circle cx="95.36" cy="114.69" r="0.62" fill="#dc4a44" fill-opacity="0.8"/>
<circle cx="91.22" cy="113.73" r="0.62" fill="#dc4a44" fill-opacity="0.8"/>
<circle cx="102.51" cy="109.22" r="0.62" fill="#dc4a44" fill-opacity="0.8"/>
<circle cx="105.52" cy="95.57" r="0.62" fill="#dc4a44" fill-opacity="0.8"/>
<circle cx="92.23" cy="111.13" r="0.62" fill="#dc4a44" fill-opacity="0.8"/>
<circle cx="110.84" cy="100.29" r="0.62" fill="#dc4a44" fill-opacity="0.8"/>
<circle cx="95.41" cy="102.51" r="0.62" fill="#dc4a44" fill-opacity="0.8"/>
<circle cx="111.51" cy="99.63" r="0.62" fill="#dc4a44" fill-opacity="0.8"/>
<circle cx="99.69" cy="109.65" r="0.62" fill="#dc4a44" fill-opacity="0.8"/>
<circle cx="84.29" cy="119.75" r="0.62" fill="#dc4a44" fill-opacity="0.8"/>
<circle cx="100.67" cy="106.38" r="0.62" fill="#dc4a44" fill-opacity="0.8"/>
<circle cx="90.3" cy="104.96" r="0.62" fill="#dc4a44" fill-opacity="0.8"/>
<circle cx="86.62" cy="118.15" r="0.62" fill="#dc4a44" fill-opacity="0.8"/>
<circle cx="106.3" cy="97.93" r="0.62" fill="#dc4a44" fill-opacity="0.8"/>
<circle cx="103.6" cy="96.08" r="0.62" fill="#dc4a44" fill-opacity="0.8"/>
<circle cx="101.66" cy="110" r="0.62" fill="#dc4a44" fill-opacity="0.8"/>
<circle cx="110.65" cy="95.63" r="0.62" fill="#dc4a44" fill-opacity="0.8"/>
<circle cx="94.51" cy="109.49" r="0.62" fill="#dc4a44" fill-opacity="0.8"/>
<circle cx="101.69" cy="99.66" r="0.62" fill="#dc4a44" fill-opacity="0.8"/>
<circle cx="96.32" cy="104.34" r="0.62" fill="#dc4a44" fill-opacity="0.8"/>
<circle cx="91.84" cy="102.54" r="0.62" fill="#dc4a44" fill-opacity="0.8"/>
<circle cx="85.77" cy="106.85" r="0.62" fill="#dc4a44" fill-opacity="0.8"/>
<circle cx="102.72" cy="106.84" r="0.62" fill="#dc4a44" fill-opacity="0.8"/>
<circle cx="81.19" cy="119.49" r="0.62" fill="#dc4a44" fill-opacity="0.8"/>
<circle cx="88.38" cy="112.74" r="0.62" fill="#dc4a44" fill-opacity="0.8"/>
<circle cx="94.7" cy="108.9" r="0.62" fill="#dc4a44" fill-opacity="0.8"/>
<circle cx="87.15" cy="118.26" r="0.62" fill="#dc4a44" fill-opacity="0.8"/>
<circle cx="95.81" cy="115.5" r="0.62" fill="#dc4a44" fill-opacity="0.8"/>
<circle cx="76.5" cy="122.36" r="0.62" fill="#dc4a44" fill-opacity="0.8"/>
<circle cx="97.23" cy="114.59" r="0.62" fill="#dc4a44" fill-opacity="0.8"/>
<circle cx="85.13" cy="116" r="0.62" fill="#dc4a44" fill-opacity="0.8"/>
<circle cx="104.57" cy="108.58" r="0.62" fill="#dc4a44" fill-opacity="0.8"/>
<circle cx="89.71" cy="110.35" r="0.62" fill="#dc4a44" fill-opacity="0.8"/>
<circle cx="92.16" cy="117.06" r="0.62" fill="#dc4a44" fill-opacity="0.8"/>
<circle cx="108.15" cy="100.79" r="0.62" fill="#dc4a44" fill-opacity="0.8"/>
<circle cx="100.1" cy="99.66" r="0.62" fill="#dc4a44" fill-opacity="0.8"/>
<circle cx="100.81" cy="107.88" r="0.62" fill="#dc4a44" fill-opacity="0.8"/>
<circle cx="78.95" cy="119.31" r="0.62" fill="#dc4a44" fill-opacity="0.8"/>
<circle cx="100.91" cy="97.27" r="0.62" fill="#dc4a44" fill-opacity="0.8"/>
<circle cx="79.33" cy="118.47" r="0.62" fill="#dc4a44" fill-opacity="0.8"/>
<circle cx="109.74" cy="98.09" r="0.62" fill="#dc4a44" fill-opacity="0.8"/>
<circle cx="91.08" cy="107.08" r="0.62" fill="#dc4a44" fill-opacity="0.8"/>
<circle cx="107.75" cy="97.14" r="0.62" fill="#dc4a44" fill-opacity="0.8"/>
<circle cx="96.6" cy="99.25" r="0.62" fill="#dc4a44" fill-opacity="0.8"/>
<circle cx="103.88" cy="101.44" r="0.62" fill="#dc4a44" fill-opacity="0.8"/>
<circle cx="84.21" cy="114.01" r="0.62" fill="#dc4a44" fill-opacity="0.8"/>
<circle cx="78.58" cy="116.14" r="0.62" fill="#dc4a44" fill-opacity="0.8"/>
<circle cx="107.29" cy="95.14" r="0.62" fill="#dc4a44" fill-opacity="0.8"/>
<circle cx="80.82" cy="118.02" r="0.62" fill="#dc4a44" fill-opacity="0.8"/>
<circle cx="91.56" cy="105.57" r="0.62" fill="#dc4a44" fill-opacity="0.8"/>
<circle cx="82.06" cy="111.95" r="0.62" fill="#dc4a44" fill-opacity="0.8"/>
<circle cx="76.4" cy="118.26" r="0.62" fill="#dc4a44" fill-opacity="0.8"/>
<circle cx="105.97" cy="96.19" r="0.62" fill="#dc4a44" fill-opacity="0.8"/>
<circle cx="108.52" cy="97.36" r="0.62" fill="#dc4a44" fill-opacity="0.8"/>
<circle cx="81.12" cy="116.86" r="0.62" fill="#dc4a44" fill-opacity="0.8"/>
<circle cx="109.48" cy="91.8" r="0.62" fill="#dc4a44" fill-opacity="0.8"/>
<circle cx="77.17" cy="115.8" r="0.62" fill="#dc4a44" fill-opacity="0.8"/>
<circle cx="100.69" cy="97.46" r="0.62" fill="#dc4a44" fill-opacity="0.8"/>
<circle cx="99.04" cy="104.11" r="0.62" fill="#dc4a44" fill-opacity="0.8"/>
<circle cx="82.74" cy="111.45" r="0.62" fill="#dc4a44" fill-opacity="0.8"/>
<circle cx="101.17" cy="106.56" r="0.62" fill="#dc4a44" fill-opacity="0.8"/>
<circle cx="108.13" cy="98.61" r="0.62" fill="#dc4a44" fill-opacity="0.8"/>
<circle cx="103.41" cy="99.2" r="0.62" fill="#dc4a44" fill-opacity="0.8"/>
<circle cx="99.89" cy="95.57" r="0.62" fill="#dc4a44" fill-opacity="0.8"/>
<circle cx="90.88" cy="116.83" r="0.62" fill="#dc4a44" fill-opacity="0.8"/>
<circle cx="109.58" cy="95.99" r="0.62" fill="#dc4a44" fill-opacity="0.8"/>
<circle cx="97.3" cy="113.11" r="0.62" fill="#dc4a44" fill-opacity="0.8"/>
<circle cx="82.26" cy="111.49" r="0.62" fill="#dc4a44" fill-opacity="0.8"/>
<circle cx="107.22" cy="95.72" r="0.62" fill="#dc4a44" fill-opacity="0.8"/>
<circle cx="79.69" cy="116.92" r="0.62" fill="#dc4a44" fill-opacity="0.8"/>
<circle cx="94.88" cy="106.28" r="0.62" fill="#dc4a44" fill-opacity="0.8"/>
<circle cx="91.49" cy="102.22" r="0.62" fill="#dc4a44" fill-opacity="0.8"/>
<circle cx="106.21" cy="104.39" r="0.62" fill="#dc4a44" fill-opacity="0.8"/>
<circle cx="108.28" cy="94.21" r="0.62" fill="#dc4a44" fill-opacity="0.8"/>
<circle cx="102.28" cy="99.57" r="0.62" fill="#dc4a44" fill-opacity="0.8"/>
<circle cx="94.52" cy="107.94" r="0.62" fill="#dc4a44" fill-opacity="0.8"/>
<circle cx="96.22" cy="107.11" r="0.62" fill="#dc4a44" fill-opacity="0.8"/>
<circle cx="87" cy="119.01" r="0.62" fill="#dc4a44" fill-opacity="0.8"/>
<circle cx="100.13" cy="97.81" r="0.62" fill="#dc4a44" fill-opacity="0.8"/>
<circle cx="75.41" cy="123.79" r="0.62" fill="#dc4a44" fill-opacity="0.8"/>
<circle cx="97.54" cy="109.47" r="0.62" fill="#dc4a44" fill-opacity="0.8"/>
<circle cx="79" cy="119.47" r="0.62" fill="#dc4a44" fill-opacity="0.8"/>
<circle cx="92.43" cy="104.71" r="0.62" fill="#dc4a44" fill-opacity="0.8"/>
<circle cx="78.28" cy="118.62" r="0.62" fill="#dc4a44" fill-opacity="0.8"/>
<circle cx="80.34" cy="120.03" r="0.62" fill="#dc4a44" fill-opacity="0.8"/>
<circle cx="99.96" cy="108.36" r="0.62" fill="#dc4a44" fill-opacity="0.8"/>
<circle cx="83.35" cy="121.61" r="0.62" fill="#dc4a44" fill-opacity="0.8"/>
<circle cx="89.27" cy="110.16" r="0.62" fill="#dc4a44" fill-opacity="0.8"/>
<circle cx="108.82" cy="97.11" r="0.62" fill="#dc4a44" fill-opacity="0.8"/>
<circle cx="94.43" cy="116.29" r="0.62" fill="#dc4a44" fill-opacity="0.8"/>
<circle cx="85.6" cy="109.66" r="0.62" fill="#dc4a44" fill-opacity="0.8"/>
<circle cx="87.22" cy="112.07" r="0.62" fill="#dc4a44" fill-opacity="0.8"/>
<circle cx="99.84" cy="112.94" r="0.62" fill="#dc4a44" fill-opacity="0.8"/>
<circle cx="83.6" cy="114.68" r="0.62" fill="#dc4a44" fill-opacity="0.8"/>
<circle cx="98.83" cy="101.78" r="0.62" fill="#dc4a44" fill-opacity="0.8"/>
<circle cx="113.61" cy="95.05" r="0.62" fill="#dc4a44" fill-opacity="0.8"/>
<circle cx="99.94" cy="99.32" r="0.62" fill="#dc4a44" fill-opacity="0.8"/>
<circle cx="100.47" cy="111.64" r="0.62" fill="#dc4a44" fill-opacity="0.8"/>
<circle cx="84.48" cy="115.72" r="0.62" fill="#dc4a44" fill-opacity="0.8"/>
<circle cx="87.87" cy="115.46" r="0.62" fill="#dc4a44" fill-opacity="0.8"/>
<circle cx="79.67" cy="120.57" r="0.62" fill="#dc4a44" fill-opacity="0.8"/>
<circle cx="93.55" cy="109.09" r="0.62" fill="#dc4a44" fill-opacity="0.8"/>
<circle cx="83.63" cy="111.39" r="0.62" fill="#dc4a44" fill-opacity="0.8"/>
<circle cx="77.95" cy="121.1" r="0.62" fill="#dc4a44" fill-opacity="0.8"/>
<circle cx="109.49" cy="97.98" r="0.62" fill="#dc4a44" fill-opacity="0.8"/>
<circle cx="98.93" cy="107.25" r="0.62" fill="#dc4a44" fill-opacity="0.8"/>
<circle cx="84" cy="119.31" r="0.62" fill="#dc4a44" fill-opacity="0.8"/>
<circle cx="93.45" cy="109.45" r="0.62" fill="#dc4a44" fill-opacity="0.8"/>
<circle cx="98.96" cy="103.65" r="0.62" fill="#dc4a44" fill-opacity="0.8"/>
<circle cx="84.5" cy="110.63" r="0.62" fill="#dc4a44" fill-opacity="0.8"/>
<circle cx="83.22" cy="116.55" r="0.62" fill="#dc4a44" fill-opacity="0.8"/>
<circle cx="90.58" cy="112.34" r="0.62" fill="#dc4a44" fill-opacity="0.8"/>
<circle cx="107.48" cy="93.48" r="0.62" fill="#dc4a44" fill-opacity="0.8"/>
<circle cx="92.11" cy="105.09" r="0.62" fill="#dc4a44" fill-opacity="0.8"/>
<circle cx="109.45" cy="95.24" r="0.62" fill="#dc4a44" fill-opacity="0.8"/>
<circle cx="79.06" cy="116.86" r="0.62" fill="#dc4a44" fill-opacity="0.8"/>
<circle cx="90.11" cy="114.35" r="0.62" fill="#dc4a44" fill-opacity="0.8"/>
<circle cx="102.65" cy="108.15" r="0.62" fill="#dc4a44" fill-opacity="0.8"/>
<circle cx="107.99" cy="97.62" r="0.62" fill="#dc4a44" fill-opacity="0.8"/>
<circle cx="106.53" cy="102.75" r="0.62" fill="#dc4a44" fill-opacity="0.8"/>
<circle cx="105.1" cy="99.11" r="0.62" fill="#dc4a44" fill-opacity="0.8"/>
<circle cx="108.08" cy="100.83" r="0.62" fill="#dc4a44" fill-opacity="0.8"/>
<circle cx="106.28" cy="100.13" r="0.62" fill="#dc4a44" fill-opacity="0.8"/>
<circle cx="99.13" cy="113.68" r="0.62" fill="#dc4a44" fill-opacity="0.8"/>
<circle cx="93.91" cy="113.71" r="0.62" fill="#dc4a44" fill-opacity="0.8"/>
<circle cx="110.81" cy="96.88" r="0.62" fill="#dc4a44" fill-opacity="0.8"/>
<circle cx="89.19" cy="110.84" r="0.62" fill="#dc4a44" fill-opacity="0.8"/>
<circle cx="95.03" cy="111.76" r="0.62" fill="#dc4a44" fill-opacity="0.8"/>
<circle cx="85.1" cy="112.91" r="0.62" fill="#dc4a44" fill-opacity="0.8"/>
<circle cx="95.77" cy="104.39" r="0.62" fill="#dc4a44" fill-opacity="0.8"/>
<circle cx="89.82" cy="116.57" r="0.62" fill="#dc4a44" fill-opacity="0.8"/>
<circle cx="109.02" cy="96.53" r="0.62" fill="#dc4a44" fill-opacity="0.8"/>
<circle cx="89.24" cy="105.4" r="0.62" fill="#dc4a44" fill-opacity="0.8"/>
<circle cx="83.39" cy="109.73" r="0.62" fill="#dc4a44" fill-opacity="0.8"/>
<circle cx="98.49" cy="106.23" r="0.62" fill="#dc4a44" fill-opacity="0.8"/>
<circle cx="90.4" cy="117.17" r="0.62" fill="#dc4a44" fill-opacity="0.8"/>
<circle cx="81.8" cy="116.17" r="0.62" fill="#dc4a44" fill-opacity="0.8"/>
<circle cx="101.05" cy="112.71" r="0.62" fill="#dc4a44" fill-opacity="0.8"/>
<circle cx="97.14" cy="109.44" r="0.62" fill="#dc4a44" fill-opacity="0.8"/>
<circle cx="88.72" cy="109.37" r="0.62" fill="#dc4a44" fill-opacity="0.8"/>
<circle cx="97.11" cy="102.77" r="0.62" fill="#dc4a44" fill-opacity="0.8"/>
<circle cx="114.36" cy="95.1" r="0.62" fill="#dc4a44" fill-opacity="0.8"/>
<circle cx="97.84" cy="106.59" r="0.62" fill="#dc4a44" fill-opacity="0.8"/>
<circle cx="93.46" cy="107.25" r="0.62" fill="#dc4a44" fill-opacity="0.8"/>
<circle cx="88.41" cy="112.92" r="0.62" fill="#dc4a44" fill-opacity="0.8"/>
<circle cx="91.26" cy="102.17" r="0.62" fill="#dc4a44" fill-opacity="0.8"/>
<circle cx="112.32" cy="97" r="0.62" fill="#dc4a44" fill-opacity="0.8"/>
<circle cx="88.07" cy="105.85" r="0.62" fill="#dc4a44" fill-opacity="0.8"/>
<circle cx="86.04" cy="114.38" r="0.62" fill="#dc4a44" fill-opacity="0.8"/>
<circle cx="91.7" cy="103.4" r="0.62" fill="#dc4a44" fill-opacity="0.8"/>
<circle cx="82.55" cy="119.02" r="0.62" fill="#dc4a44" fill-opacity="0.8"/>
<circle cx="97.48" cy="102.54" r="0.62" fill="#dc4a44" fill-opacity="0.8"/>
<circle cx="75.08" cy="121.25" r="0.62" fill="#dc4a44" fill-opacity="0.8"/>
<circle cx="88.31" cy="115.91" r="0.62" fill="#dc4a44" fill-opacity="0.8"/>
<circle cx="109.4" cy="97.66" r="0.62" fill="#dc4a44" fill-opacity="0.8"/>
<circle cx="98.81" cy="98.73" r="0.62" fill="#dc4a44" fill-opacity="0.8"/>
<circle cx="95.04" cy="108.36" r="0.62" fill="#dc4a44" fill-opacity="0.8"/>
<circle cx="86.21" cy="116.65" r="0.62" fill="#dc4a44" fill-opacity="0.8"/>
<circle cx="100.77" cy="112.95" r="0.62" fill="#dc4a44" fill-opacity="0.8"/>
<circle cx="87.36" cy="105.75" r="0.62" fill="#dc4a44" fill-opacity="0.8"/>
<circle cx="98.71" cy="111.04" r="0.62" fill="#dc4a44" fill-opacity="0.8"/>
<circle cx="102.12" cy="107.74" r="0.62" fill="#dc4a44" fill-opacity="0.8"/>
<circle cx="104.28" cy="97.1" r="0.62" fill="#dc4a44" fill-opacity="0.8"/>
<circle cx="102.22" cy="99.12" r="0.62" fill="#dc4a44" fill-opacity="0.8"/>
<circle cx="79.09" cy="115.63" r="0.62" fill="#dc4a44" fill-opacity="0.8"/>
<circle cx="96.56" cy="103.13" r="0.62" fill="#dc4a44" fill-opacity="0.8"/>
<circle cx="91.42" cy="107.75" r="0.62" fill="#dc4a44" fill-opacity="0.8"/>
<circle cx="97.23" cy="100.77" r="0.62" fill="#dc4a44" fill-opacity="0.8"/>
<circle cx="107.78" cy="94.47" r="0.62" fill="#dc4a44" fill-opacity="0.8"/>
<circle cx="87.4" cy="114.99" r="0.62" fill="#dc4a44" fill-opacity="0.8"/>
<circle cx="113.54" cy="92.99" r="0.62" fill="#dc4a44" fill-opacity="0.8"/>
<circle cx="83.06" cy="114.53" r="0.62" fill="#dc4a44" fill-opacity="0.8"/>
<circle cx="101.19" cy="97.53" r="0.62" fill="#dc4a44" fill-opacity="0.8"/>
<circle cx="104.56" cy="95.58" r="0.62" fill="#dc4a44" fill-opacity="0.8"/>
<circle cx="79.99" cy="116.46" r="0.62" fill="#dc4a44" fill-opacity="0.8"/>
<circle cx="86.5" cy="114.93" r="0.62" fill="#dc4a44" fill-opacity="0.8"/>
<circle cx="78.97" cy="120.13" r="0.62" fill="#dc4a44" fill-opacity="0.8"/>
<circle cx="88.98" cy="110.05" r="0.62" fill="#dc4a44" fill-opacity="0.8"/>
<circle cx="106.85" cy="95.73" r="0.62" fill="#dc4a44" fill-opacity="0.8"/>
<circle cx="81.47" cy="112.27" r="0.62" fill="#dc4a44" fill-opacity="0.8"/>
<circle cx="83.39" cy="111.48" r="0.62" fill="#dc4a44" fill-opacity="0.8"/>
<circle cx="82.04" cy="120.62" r="0.62" fill="#dc4a44" fill-opacity="0.8"/>
<circle cx="76.06" cy="118.23" r="0.62" fill="#dc4a44" fill-opacity="0.8"/>
<circle cx="78.81" cy="118.81" r="0.62" fill="#dc4a44" fill-opacity="0.8"/>
<circle cx="90.56" cy="114.9" r="0.62" fill="#dc4a44" fill-opacity="0.8"/>
<circle cx="89.07" cy="104.43" r="0.62" fill="#dc4a44" fill-opacity="0.8"/>
<circle cx="101.02" cy="98.34" r="0.62" fill="#dc4a44" fill-opacity="0.8"/>
<circle cx="111.75" cy="95.81" r="0.62" fill="#dc4a44" fill-opacity="0.8"/>
<circle cx="86.82" cy="108.74" r="0.62" fill="#dc4a44" fill-opacity="0.8"/>
<circle cx="96.38" cy="100.68" r="0.62" fill="#dc4a44" fill-opacity="0.8"/>
<circle cx="95.56" cy="107.74" r="0.62" fill="#dc4a44" fill-opacity="0.8"/>
<circle cx="87.47" cy="117.92" r="0.62" fill="#dc4a44" fill-opacity="0.8"/>
<circle cx="91.31" cy="113.15" r="0.62" fill="#dc4a44" fill-opacity="0.8"/>
<circle cx="95.58" cy="103.1" r="0.62" fill="#dc4a44" fill-opacity="0.8"/>
<circle cx="107.67" cy="94.65" r="0.62" fill="#dc4a44" fill-opacity="0.8"/>
<circle cx="97.79" cy="97.86" r="0.62" fill="#dc4a44" fill-opacity="0.8"/>
<circle cx="88.89" cy="111.99" r="0.62" fill="#dc4a44" fill-opacity="0.8"/>
<circle cx="80.19" cy="112.2" r="0.62" fill="#dc4a44" fill-opacity="0.8"/>
<circle cx="84.78" cy="113.4" r="0.62" fill="#dc4a44" fill-opacity="0.8"/>
<circle cx="113.54" cy="97.35" r="0.62" fill="#dc4a44" fill-opacity="0.8"/>
<circle cx="103.47" cy="103.81" r="0.62" fill="#dc4a44" fill-opacity="0.8"/>
<circle cx="87.68" cy="111.27" r="0.62" fill="#dc4a44" fill-opacity="0.8"/>
<circle cx="102.96" cy="104.91" r="0.62" fill="#dc4a44" fill-opacity="0.8"/>
<circle cx="96.98" cy="99.7" r="0.62" fill="#dc4a44" fill-opacity="0.8"/>
<circle cx="106.08" cy="102.57" r="0.62" fill="#dc4a44" fill-opacity="0.8"/>
<circle cx="97.37" cy="99.4" r="0.62" fill="#dc4a44" fill-opacity="0.8"/>
<circle cx="109.16" cy="97.58" r="0.62" fill="#dc4a44" fill-opacity="0.8"/>
<circle cx="101.41" cy="97.96" r="0.62" fill="#dc4a44" fill-opacity="0.8"/>
<circle cx="93.68" cy="111.96" r="0.62" fill="#dc4a44" fill-opacity="0.8"/>
<circle cx="101.69" cy="100.21" r="0.62" fill="#dc4a44" fill-opacity="0.8"/>
<circle cx="107.61" cy="103.4" r="0.62" fill="#dc4a44" fill-opacity="0.8"/>
<circle cx="82.02" cy="109.89" r="0.62" fill="#dc4a44" fill-opacity="0.8"/>
<circle cx="95.56" cy="115.35" r="0.62" fill="#dc4a44" fill-opacity="0.8"/>
<circle cx="107.27" cy="103.72" r="0.62" fill="#dc4a44" fill-opacity="0.8"/>
<circle cx="99.45" cy="102.98" r="0.62" fill="#dc4a44" fill-opacity="0.8"/>
<circle cx="105.64" cy="104.67" r="0.62" fill="#dc4a44" fill-opacity="0.8"/>
<circle cx="85.15" cy="115.68" r="0.62" fill="#dc4a44" fill-opacity="0.8"/>
<circle cx="114.95" cy="94.02" r="0.62" fill="#dc4a44" fill-opacity="0.8"/>
<circle cx="95.5" cy="108.76" r="0.55" fill="#dc4a44" fill-opacity="0.8"/>
<circle cx="89.99" cy="115.38" r="0.55" fill="#dc4a44" fill-opacity="0.8"/>
<circle cx="99.38" cy="108.29" r="0.55" fill="#dc4a44" fill-opacity="0.8"/>
<circle cx="108.2" cy="103.44" r="0.55" fill="#dc4a44" fill-opacity="0.8"/>
<circle cx="89.3" cy="108.25" r="0.55" fill="#dc4a44" fill-opacity="0.8"/>
<circle cx="98.32" cy="111.11" r="0.55" fill="#dc4a44" fill-opacity="0.8"/>
<circle cx="73.89" cy="127.7" r="0.55" fill="#dc4a44" fill-opacity="0.8"/>
<circle cx="91.16" cy="113.83" r="0.55" fill="#dc4a44" fill-opacity="0.8"/>
<circle cx="97.93" cy="103.1" r="0.55" fill="#dc4a44" fill-opacity="0.8"/>
<circle cx="85.14" cy="113.01" r="0.55" fill="#dc4a44" fill-opacity="0.8"/>
<circle cx="96.84" cy="99.76" r="0.55" fill="#dc4a44" fill-opacity="0.8"/>
<circle cx="93.46" cy="105.26" r="0.55" fill="#dc4a44" fill-opacity="0.8"/>
<circle cx="84.63" cy="109.06" r="0.55" fill="#dc4a44" fill-opacity="0.8"/>
<circle cx="78.59" cy="122.07" r="0.55" fill="#dc4a44" fill-opacity="0.8"/>
<circle cx="95.98" cy="104.26" r="0.55" fill="#dc4a44" fill-opacity="0.8"/>
<circle cx="94.56" cy="112.49" r="0.55" fill="#dc4a44" fill-opacity="0.8"/>
<circle cx="96.45" cy="107.98" r="0.55" fill="#dc4a44" fill-opacity="0.8"/>
<circle cx="94.94" cy="110.78" r="0.55" fill="#dc4a44" fill-opacity="0.8"/>
<circle cx="88.58" cy="106.72" r="0.55" fill="#dc4a44" fill-opacity="0.8"/>
<circle cx="103" cy="104.21" r="0.55" fill="#dc4a44" fill-opacity="0.8"/>
<circle cx="85.47" cy="115.59" r="0.55" fill="#dc4a44" fill-opacity="0.8"/>
<circle cx="97.42" cy="107.22" r="0.55" fill="#dc4a44" fill-opacity="0.8"/>
<circle cx="127.17" cy="83.72" r="0.55" fill="#dc4a44" fill-opacity="0.8"/>
<circle cx="93.54" cy="106.2" r="0.55" fill="#dc4a44" fill-opacity="0.8"/>
<circle cx="81.67" cy="103.01" r="0.55" fill="#dc4a44" fill-opacity="0.8"/>
<circle cx="89.56" cy="110.48" r="0.55" fill="#dc4a44" fill-opacity="0.8"/>
<circle cx="83.81" cy="116.28" r="0.55" fill="#dc4a44" fill-opacity="0.8"/>
<circle cx="102.34" cy="107.82" r="0.55" fill="#dc4a44" fill-opacity="0.8"/>
<circle cx="118.02" cy="90.24" r="0.55" fill="#dc4a44" fill-opacity="0.8"/>
<circle cx="82.84" cy="110.75" r="0.55" fill="#dc4a44" fill-opacity="0.8"/>
<circle cx="106.9" cy="95.11" r="0.55" fill="#dc4a44" fill-opacity="0.8"/>
<circle cx="96.45" cy="110.16" r="0.55" fill="#dc4a44" fill-opacity="0.8"/>
<circle cx="96.64" cy="107" r="0.55" fill="#dc4a44" fill-opacity="0.8"/>
<circle cx="92.78" cy="98.98" r="0.55" fill="#dc4a44" fill-opacity="0.8"/>
<circle cx="94.27" cy="111.1" r="0.55" fill="#dc4a44" fill-opacity="0.8"/>
<circle cx="77.94" cy="112.58" r="0.55" fill="#dc4a44" fill-opacity="0.8"/>
<circle cx="99.52" cy="102.39" r="0.55" fill="#dc4a44" fill-opacity="0.8"/>
<circle cx="94.09" cy="98.25" r="0.55" fill="#dc4a44" fill-opacity="0.8"/>
<circle cx="91.89" cy="104.98" r="0.55" fill="#dc4a44" fill-opacity="0.8"/>
<circle cx="106.68" cy="107.39" r="0.55" fill="#dc4a44" fill-opacity="0.8"/>
<circle cx="92.6" cy="113.73" r="0.55" fill="#dc4a44" fill-opacity="0.8"/>
<circle cx="84.43" cy="113.8" r="0.55" fill="#dc4a44" fill-opacity="0.8"/>
<circle cx="96.68" cy="102.59" r="0.55" fill="#dc4a44" fill-opacity="0.8"/>
<circle cx="108.34" cy="98.81" r="0.55" fill="#dc4a44" fill-opacity="0.8"/>
<circle cx="77.96" cy="113.3" r="0.55" fill="#dc4a44" fill-opacity="0.8"/>
<circle cx="83.1" cy="105.38" r="0.55" fill="#dc4a44" fill-opacity="0.8"/>
<circle cx="104.92" cy="97.58" r="0.55" fill="#dc4a44" fill-opacity="0.8"/>
<circle cx="88.57" cy="112.24" r="0.55" fill="#dc4a44" fill-opacity="0.8"/>
<circle cx="93.64" cy="114.98" r="0.55" fill="#dc4a44" fill-opacity="0.8"/>
<circle cx="110.27" cy="99.48" r="0.55" fill="#dc4a44" fill-opacity="0.8"/>
<circle cx="102.73" cy="106.26" r="0.55" fill="#dc4a44" fill-opacity="0.8"/>
<circle cx="98.78" cy="103.96" r="0.55" fill="#dc4a44" fill-opacity="0.8"/>
<circle cx="106.03" cy="100.24" r="0.55" fill="#dc4a44" fill-opacity="0.8"/>
<circle cx="104.42" cy="107.97" r="0.55" fill="#dc4a44" fill-opacity="0.8"/>
<circle cx="114.45" cy="92.54" r="0.55" fill="#dc4a44" fill-opacity="0.8"/>
<circle cx="102.2" cy="94.42" r="0.55" fill="#dc4a44" fill-opacity="0.8"/>
<circle cx="88.03" cy="114.59" r="0.55" fill="#dc4a44" fill-opacity="0.8"/>
<circle cx="85.45" cy="109.21" r="0.55" fill="#dc4a44" fill-opacity="0.8"/>
<circle cx="87.45" cy="115.37" r="0.55" fill="#dc4a44" fill-opacity="0.8"/>
<circle cx="81.87" cy="120.32" r="0.55" fill="#dc4a44" fill-opacity="0.8"/>
<circle cx="99.95" cy="93.31" r="0.55" fill="#dc4a44" fill-opacity="0.8"/>
<circle cx="100.86" cy="106.6" r="0.55" fill="#dc4a44" fill-opacity="0.8"/>
<circle cx="83.31" cy="118.65" r="0.55" fill="#dc4a44" fill-opacity="0.8"/>
<circle cx="92.04" cy="112.41" r="0.55" fill="#dc4a44" fill-opacity="0.8"/>
<circle cx="103.6" cy="103.08" r="0.55" fill="#dc4a44" fill-opacity="0.8"/>
<circle cx="69.64" cy="130.23" r="0.55" fill="#dc4a44" fill-opacity="0.8"/>
<circle cx="109.17" cy="90.66" r="0.55" fill="#dc4a44" fill-opacity="0.8"/>
<circle cx="119.57" cy="86.27" r="0.55" fill="#dc4a44" fill-opacity="0.8"/>
<circle cx="77.67" cy="113.98" r="0.55" fill="#dc4a44" fill-opacity="0.8"/>
<circle cx="110.42" cy="98.39" r="0.55" fill="#dc4a44" fill-opacity="0.8"/>
<circle cx="86.54" cy="110.97" r="0.55" fill="#dc4a44" fill-opacity="0.8"/>
<circle cx="68.89" cy="121.68" r="0.55" fill="#dc4a44" fill-opacity="0.8"/>
<circle cx="80.27" cy="119.53" r="0.55" fill="#dc4a44" fill-opacity="0.8"/>
<circle cx="93.95" cy="112.72" r="0.55" fill="#dc4a44" fill-opacity="0.8"/>
<circle cx="96.04" cy="105.67" r="0.55" fill="#dc4a44" fill-opacity="0.8"/>
<circle cx="104" cy="107.78" r="0.55" fill="#dc4a44" fill-opacity="0.8"/>
<circle cx="90.83" cy="111.22" r="0.55" fill="#dc4a44" fill-opacity="0.8"/>
<circle cx="87.21" cy="108.95" r="0.55" fill="#dc4a44" fill-opacity="0.8"/>
<circle cx="83.96" cy="113.1" r="0.55" fill="#dc4a44" fill-opacity="0.8"/>
<circle cx="80.91" cy="116.82" r="0.55" fill="#dc4a44" fill-opacity="0.8"/>
<circle cx="91.32" cy="111.7" r="0.55" fill="#dc4a44" fill-opacity="0.8"/>
<circle cx="108.63" cy="106.91" r="0.55" fill="#dc4a44" fill-opacity="0.8"/>
<circle cx="89.42" cy="110.8" r="0.55" fill="#dc4a44" fill-opacity="0.8"/>
<circle cx="98.22" cy="101.74" r="0.55" fill="#dc4a44" fill-opacity="0.8"/>
<circle cx="106.86" cy="101.85" r="0.55" fill="#dc4a44" fill-opacity="0.8"/>
<circle cx="97.45" cy="111.55" r="0.55" fill="#dc4a44" fill-opacity="0.8"/>
<circle cx="87.02" cy="112.15" r="0.55" fill="#dc4a44" fill-opacity="0.8"/>
<circle cx="89.51" cy="110.36" r="0.55" fill="#dc4a44" fill-opacity="0.8"/>
<circle cx="80.62" cy="117.74" r="0.55" fill="#dc4a44" fill-opacity="0.8"/>
<circle cx="105.11" cy="102.15" r="0.55" fill="#dc4a44" fill-opacity="0.8"/>
<circle cx="105.76" cy="101.57" r="0.55" fill="#dc4a44" fill-opacity="0.8"/>
<circle cx="100.69" cy="97.86" r="0.55" fill="#dc4a44" fill-opacity="0.8"/>
<circle cx="86.58" cy="105.07" r="0.55" fill="#dc4a44" fill-opacity="0.8"/>
<circle cx="123.46" cy="96.13" r="0.55" fill="#dc4a44" fill-opacity="0.8"/>
<circle cx="92.58" cy="106.73" r="0.55" fill="#dc4a44" fill-opacity="0.8"/>
<circle cx="97.33" cy="100.88" r="0.55" fill="#dc4a44" fill-opacity="0.8"/>
<circle cx="112.74" cy="105.5" r="0.55" fill="#dc4a44" fill-opacity="0.8"/>
<circle cx="76.46" cy="117.99" r="0.55" fill="#dc4a44" fill-opacity="0.8"/>
<circle cx="109.6" cy="103.03" r="0.55" fill="#dc4a44" fill-opacity="0.8"/>
<circle cx="102.36" cy="103.02" r="0.55" fill="#dc4a44" fill-opacity="0.8"/>
<circle cx="93.67" cy="108.98" r="0.55" fill="#dc4a44" fill-opacity="0.8"/>
<circle cx="87.69" cy="110.86" r="0.55" fill="#dc4a44" fill-opacity="0.8"/>
<circle cx="93.42" cy="116.4" r="0.55" fill="#dc4a44" fill-opacity="0.8"/>
<circle cx="77.69" cy="125.55" r="0.55" fill="#dc4a44" fill-opacity="0.8"/>
<circle cx="75.88" cy="114.56" r="0.55" fill="#dc4a44" fill-opacity="0.8"/>
<circle cx="71.14" cy="121.05" r="0.55" fill="#dc4a44" fill-opacity="0.8"/>
<circle cx="97.78" cy="102.83" r="0.55" fill="#dc4a44" fill-opacity="0.8"/>
<circle cx="91.99" cy="104.76" r="0.55" fill="#dc4a44" fill-opacity="0.8"/>
<circle cx="92.08" cy="101.56" r="0.55" fill="#dc4a44" fill-opacity="0.8"/>
<circle cx="95.85" cy="104.23" r="0.55" fill="#dc4a44" fill-opacity="0.8"/>
<circle cx="85.82" cy="120.54" r="0.55" fill="#dc4a44" fill-opacity="0.8"/>
<circle cx="108.91" cy="93.9" r="0.55" fill="#dc4a44" fill-opacity="0.8"/>
<circle cx="109.05" cy="98.45" r="0.55" fill="#dc4a44" fill-opacity="0.8"/>
<circle cx="107.03" cy="101.97" r="0.55" fill="#dc4a44" fill-opacity="0.8"/>
<circle cx="95.07" cy="104.79" r="0.55" fill="#dc4a44" fill-opacity="0.8"/>
<circle cx="106.66" cy="94.75" r="0.55" fill="#dc4a44" fill-opacity="0.8"/>
<circle cx="96.08" cy="109.93" r="0.55" fill="#dc4a44" fill-opacity="0.8"/>
<circle cx="77.61" cy="123.96" r="0.55" fill="#dc4a44" fill-opacity="0.8"/>
<circle cx="89.57" cy="110.19" r="0.55" fill="#dc4a44" fill-opacity="0.8"/>
<circle cx="99.71" cy="104.02" r="0.55" fill="#dc4a44" fill-opacity="0.8"/>
<circle cx="95.11" cy="103.99" r="0.55" fill="#dc4a44" fill-opacity="0.8"/>
<circle cx="85.85" cy="112.85" r="0.55" fill="#dc4a44" fill-opacity="0.8"/>
<circle cx="88.4" cy="107.57" r="0.55" fill="#dc4a44" fill-opacity="0.8"/>
<circle cx="111.69" cy="102.99" r="0.55" fill="#dc4a44" fill-opacity="0.8"/>
<circle cx="78.35" cy="118.14" r="0.55" fill="#dc4a44" fill-opacity="0.8"/>
<circle cx="97.77" cy="93.12" r="0.55" fill="#dc4a44" fill-opacity="0.8"/>
<circle cx="104.21" cy="100.64" r="0.55" fill="#dc4a44" fill-opacity="0.8"/>
<circle cx="104.15" cy="105.35" r="0.55" fill="#dc4a44" fill-opacity="0.8"/>
<circle cx="104.25" cy="93.39" r="0.55" fill="#dc4a44" fill-opacity="0.8"/>
<circle cx="101.34" cy="103.17" r="0.55" fill="#dc4a44" fill-opacity="0.8"/>
<circle cx="97.57" cy="98.06" r="0.55" fill="#dc4a44" fill-opacity="0.8"/>
<circle cx="87.27" cy="116.99" r="0.55" fill="#dc4a44" fill-opacity="0.8"/>
<circle cx="109.59" cy="104.67" r="0.55" fill="#dc4a44" fill-opacity="0.8"/>
<circle cx="81.4" cy="124.41" r="0.55" fill="#dc4a44" fill-opacity="0.8"/>
<circle cx="90.81" cy="109.16" r="0.55" fill="#dc4a44" fill-opacity="0.8"/>
<circle cx="92.73" cy="112.28" r="0.55" fill="#dc4a44" fill-opacity="0.8"/>
<circle cx="103.31" cy="96.55" r="0.55" fill="#dc4a44" fill-opacity="0.8"/>
<circle cx="101.08" cy="103.5" r="0.55" fill="#dc4a44" fill-opacity="0.8"/>
<circle cx="89.36" cy="116.18" r="0.55" fill="#dc4a44" fill-opacity="0.8"/>
<circle cx="84.38" cy="113" r="0.55" fill="#dc4a44" fill-opacity="0.8"/>
<circle cx="94.14" cy="108.42" r="0.55" fill="#dc4a44" fill-opacity="0.8"/>
<circle cx="85.33" cy="112.44" r="0.55" fill="#dc4a44" fill-opacity="0.8"/>
<circle cx="106.31" cy="99.37" r="0.55" fill="#dc4a44" fill-opacity="0.8"/>
<circle cx="97.67" cy="105.11" r="0.55" fill="#dc4a44" fill-opacity="0.8"/>
<circle cx="106.99" cy="104.36" r="0.55" fill="#dc4a44" fill-opacity="0.8"/>
<circle cx="95.45" cy="111.13" r="0.55" fill="#dc4a44" fill-opacity="0.8"/>
<circle cx="86.56" cy="113.77" r="0.55" fill="#dc4a44" fill-opacity="0.8"/>
<circle cx="81.81" cy="114.69" r="0.55" fill="#dc4a44" fill-opacity="0.8"/>
<circle cx="123.43" cy="81.07" r="0.55" fill="#dc4a44" fill-opacity="0.8"/>
<circle cx="108.22" cy="98.59" r="0.55" fill="#dc4a44" fill-opacity="0.8"/>
<circle cx="92.2" cy="98.79" r="0.55" fill="#dc4a44" fill-opacity="0.8"/>
<circle cx="93.24" cy="101.23" r="0.55" fill="#dc4a44" fill-opacity="0.8"/>
<circle cx="86.29" cy="110.22" r="0.55" fill="#dc4a44" fill-opacity="0.8"/>
<circle cx="95.44" cy="116.2" r="0.55" fill="#dc4a44" fill-opacity="0.8"/>
<circle cx="107.26" cy="88.92" r="0.55" fill="#dc4a44" fill-opacity="0.8"/>
<circle cx="88.95" cy="107.84" r="0.55" fill="#dc4a44" fill-opacity="0.8"/>
<circle cx="91.84" cy="101.07" r="0.55" fill="#dc4a44" fill-opacity="0.8"/>
<circle cx="79.77" cy="118.56" r="0.55" fill="#dc4a44" fill-opacity="0.8"/>
<circle cx="89.52" cy="116.91" r="0.55" fill="#dc4a44" fill-opacity="0.8"/>
<circle cx="92.08" cy="110.58" r="0.55" fill="#dc4a44" fill-opacity="0.8"/>
<circle cx="77.41" cy="122.66" r="0.55" fill="#dc4a44" fill-opacity="0.8"/>
<circle cx="80.11" cy="118.27" r="0.55" fill="#dc4a44" fill-opacity="0.8"/>
<circle cx="77.05" cy="122.38" r="0.55" fill="#dc4a44" fill-opacity="0.8"/>
<circle cx="78.95" cy="121.95" r="0.55" fill="#dc4a44" fill-opacity="0.8"/>
<circle cx="77.81" cy="120.51" r="0.55" fill="#dc4a44" fill-opacity="0.8"/>
<circle cx="78.23" cy="117.73" r="0.55" fill="#dc4a44" fill-opacity="0.8"/>
<circle cx="75.18" cy="123.49" r="0.55" fill="#dc4a44" fill-opacity="0.8"/>
<circle cx="77.8" cy="121.86" r="0.55" fill="#dc4a44" fill-opacity="0.8"/>
<circle cx="79.8" cy="119.68" r="0.55" fill="#dc4a44" fill-opacity="0.8"/>
<circle cx="78.14" cy="124.18" r="0.55" fill="#dc4a44" fill-opacity="0.8"/>
<circle cx="71.19" cy="123.28" r="0.55" fill="#dc4a44" fill-opacity="0.8"/>
<circle cx="77.16" cy="126.03" r="0.55" fill="#dc4a44" fill-opacity="0.8"/>
<circle cx="76.38" cy="120.79" r="0.55" fill="#dc4a44" fill-opacity="0.8"/>
<circle cx="80.45" cy="121.53" r="0.55" fill="#dc4a44" fill-opacity="0.8"/>
<circle cx="79.63" cy="118.66" r="0.55" fill="#dc4a44" fill-opacity="0.8"/>
<circle cx="76.49" cy="118.38" r="0.55" fill="#dc4a44" fill-opacity="0.8"/>
<circle cx="77.73" cy="119.56" r="0.55" fill="#dc4a44" fill-opacity="0.8"/>
<circle cx="72.71" cy="124.76" r="0.55" fill="#dc4a44" fill-opacity="0.8"/>
<circle cx="78.22" cy="122.06" r="0.55" fill="#dc4a44" fill-opacity="0.8"/>
<circle cx="79.03" cy="119.57" r="0.55" fill="#dc4a44" fill-opacity="0.8"/>
<circle cx="79.16" cy="123.53" r="0.55" fill="#dc4a44" fill-opacity="0.8"/>
<circle cx="79.3" cy="121.86" r="0.55" fill="#dc4a44" fill-opacity="0.8"/>
<circle cx="80.23" cy="122" r="0.55" fill="#dc4a44" fill-opacity="0.8"/>
<circle cx="78.3" cy="116.86" r="0.55" fill="#dc4a44" fill-opacity="0.8"/>
<circle cx="80.83" cy="122.21" r="0.55" fill="#dc4a44" fill-opacity="0.8"/>
<circle cx="80.22" cy="117.55" r="0.55" fill="#dc4a44" fill-opacity="0.8"/>
<circle cx="82.47" cy="119.1" r="0.55" fill="#dc4a44" fill-opacity="0.8"/>
<circle cx="78.18" cy="118.19" r="0.55" fill="#dc4a44" fill-opacity="0.8"/>
<circle cx="79.16" cy="120.58" r="0.55" fill="#dc4a44" fill-opacity="0.8"/>
<circle cx="72.14" cy="123.31" r="0.55" fill="#dc4a44" fill-opacity="0.8"/>
<circle cx="71.73" cy="120.1" r="0.55" fill="#dc4a44" fill-opacity="0.8"/>
<circle cx="79.16" cy="121.63" r="0.55" fill="#dc4a44" fill-opacity="0.8"/>
<circle cx="75.55" cy="117.99" r="0.55" fill="#dc4a44" fill-opacity="0.8"/>
<circle cx="75.66" cy="124.25" r="0.55" fill="#dc4a44" fill-opacity="0.8"/>
<circle cx="77.46" cy="121.34" r="0.55" fill="#dc4a44" fill-opacity="0.8"/>
<circle cx="77.09" cy="121.25" r="0.55" fill="#dc4a44" fill-opacity="0.8"/>
<circle cx="75.13" cy="120.53" r="0.55" fill="#dc4a44" fill-opacity="0.8"/>
<circle cx="74.35" cy="123.05" r="0.55" fill="#dc4a44" fill-opacity="0.8"/>
<circle cx="78.88" cy="122.54" r="0.55" fill="#dc4a44" fill-opacity="0.8"/>
<circle cx="83.16" cy="116.69" r="0.55" fill="#dc4a44" fill-opacity="0.8"/>
<circle cx="94.33" cy="50.25" r="0.62" fill="#cf403a" fill-opacity="0.8"/>
<circle cx="106.66" cy="74.7" r="0.62" fill="#cf403a" fill-opacity="0.8"/>
<circle cx="105.01" cy="63.25" r="0.62" fill="#cf403a" fill-opacity="0.8"/>
<circle cx="103.54" cy="70.39" r="0.62" fill="#cf403a" fill-opacity="0.8"/>
<circle cx="102.55" cy="76.62" r="0.62" fill="#cf403a" fill-opacity="0.8"/>
<circle cx="106" cy="77.64" r="0.62" fill="#cf403a" fill-opacity="0.8"/>
<circle cx="95.44" cy="63.87" r="0.62" fill="#cf403a" fill-opacity="0.8"/>
<circle cx="100.01" cy="59.62" r="0.62" fill="#cf403a" fill-opacity="0.8"/>
<circle cx="103.19" cy="59.57" r="0.62" fill="#cf403a" fill-opacity="0.8"/>
<circle cx="93.73" cy="68.28" r="0.62" fill="#cf403a" fill-opacity="0.8"/>
<circle cx="96.5" cy="72.12" r="0.62" fill="#cf403a" fill-opacity="0.8"/>
<circle cx="109.34" cy="61.67" r="0.62" fill="#cf403a" fill-opacity="0.8"/>
<circle cx="93.91" cy="69.67" r="0.62" fill="#cf403a" fill-opacity="0.8"/>
<circle cx="107.98" cy="71.53" r="0.62" fill="#cf403a" fill-opacity="0.8"/>
<circle cx="97.23" cy="70.17" r="0.62" fill="#cf403a" fill-opacity="0.8"/>
<circle cx="105.44" cy="68.64" r="0.62" fill="#cf403a" fill-opacity="0.8"/>
<circle cx="107.41" cy="72.52" r="0.62" fill="#cf403a" fill-opacity="0.8"/>
<circle cx="103.25" cy="57.52" r="0.62" fill="#cf403a" fill-opacity="0.8"/>
<circle cx="85.38" cy="65.85" r="0.62" fill="#cf403a" fill-opacity="0.8"/>
<circle cx="97.57" cy="73.87" r="0.62" fill="#cf403a" fill-opacity="0.8"/>
<circle cx="102.95" cy="68.38" r="0.62" fill="#cf403a" fill-opacity="0.8"/>
<circle cx="102.62" cy="69.01" r="0.62" fill="#cf403a" fill-opacity="0.8"/>
<circle cx="96.79" cy="61.01" r="0.62" fill="#cf403a" fill-opacity="0.8"/>
<circle cx="99.23" cy="79.1" r="0.62" fill="#cf403a" fill-opacity="0.8"/>
<circle cx="99.26" cy="66.72" r="0.62" fill="#cf403a" fill-opacity="0.8"/>
<circle cx="100.49" cy="75.48" r="0.62" fill="#cf403a" fill-opacity="0.8"/>
<circle cx="105.88" cy="68.46" r="0.62" fill="#cf403a" fill-opacity="0.8"/>
<circle cx="109.1" cy="76.05" r="0.62" fill="#cf403a" fill-opacity="0.8"/>
<circle cx="92.92" cy="77.5" r="0.62" fill="#cf403a" fill-opacity="0.8"/>
<circle cx="96.03" cy="60.4" r="0.62" fill="#cf403a" fill-opacity="0.8"/>
<circle cx="92.62" cy="67.52" r="0.62" fill="#cf403a" fill-opacity="0.8"/>
<circle cx="97.83" cy="63.77" r="0.62" fill="#cf403a" fill-opacity="0.8"/>
<circle cx="105.25" cy="67.88" r="0.62" fill="#cf403a" fill-opacity="0.8"/>
<circle cx="103.64" cy="65.55" r="0.62" fill="#cf403a" fill-opacity="0.8"/>
<circle cx="102.58" cy="61.32" r="0.62" fill="#cf403a" fill-opacity="0.8"/>
<circle cx="104.5" cy="67.15" r="0.62" fill="#cf403a" fill-opacity="0.8"/>
<circle cx="99.67" cy="61.19" r="0.62" fill="#cf403a" fill-opacity="0.8"/>
<circle cx="116.23" cy="72.73" r="0.62" fill="#cf403a" fill-opacity="0.8"/>
<circle cx="102.08" cy="62.91" r="0.62" fill="#cf403a" fill-opacity="0.8"/>
<circle cx="99.66" cy="69.67" r="0.62" fill="#cf403a" fill-opacity="0.8"/>
<circle cx="98.44" cy="64.93" r="0.62" fill="#cf403a" fill-opacity="0.8"/>
<circle cx="98.92" cy="74.91" r="0.62" fill="#cf403a" fill-opacity="0.8"/>
<circle cx="102.48" cy="62.26" r="0.62" fill="#cf403a" fill-opacity="0.8"/>
<circle cx="105.75" cy="70.17" r="0.62" fill="#cf403a" fill-opacity="0.8"/>
<circle cx="100.99" cy="63.67" r="0.62" fill="#cf403a" fill-opacity="0.8"/>
<circle cx="113.94" cy="67.81" r="0.62" fill="#cf403a" fill-opacity="0.8"/>
<circle cx="95.73" cy="71.94" r="0.62" fill="#cf403a" fill-opacity="0.8"/>
<circle cx="106.75" cy="66.13" r="0.62" fill="#cf403a" fill-opacity="0.8"/>
<circle cx="96.34" cy="67.87" r="0.62" fill="#cf403a" fill-opacity="0.8"/>
<circle cx="105.93" cy="67.84" r="0.62" fill="#cf403a" fill-opacity="0.8"/>
<circle cx="104.41" cy="60.13" r="0.62" fill="#cf403a" fill-opacity="0.8"/>
<circle cx="95.43" cy="62.46" r="0.62" fill="#cf403a" fill-opacity="0.8"/>
<circle cx="106.46" cy="67.77" r="0.62" fill="#cf403a" fill-opacity="0.8"/>
<circle cx="107.95" cy="68.08" r="0.62" fill="#cf403a" fill-opacity="0.8"/>
<circle cx="111.21" cy="61.9" r="0.62" fill="#cf403a" fill-opacity="0.8"/>
<circle cx="99.71" cy="77.18" r="0.62" fill="#cf403a" fill-opacity="0.8"/>
<circle cx="106.4" cy="70.82" r="0.62" fill="#cf403a" fill-opacity="0.8"/>
<circle cx="104.41" cy="69.5" r="0.62" fill="#cf403a" fill-opacity="0.8"/>
<circle cx="103.19" cy="67.56" r="0.62" fill="#cf403a" fill-opacity="0.8"/>
<circle cx="105.78" cy="68.22" r="0.62" fill="#cf403a" fill-opacity="0.8"/>
<circle cx="103.94" cy="65.24" r="0.62" fill="#cf403a" fill-opacity="0.8"/>
<circle cx="101.11" cy="75.06" r="0.62" fill="#cf403a" fill-opacity="0.8"/>
<circle cx="104.22" cy="72.29" r="0.62" fill="#cf403a" fill-opacity="0.8"/>
<circle cx="111.56" cy="70.74" r="0.62" fill="#cf403a" fill-opacity="0.8"/>
<circle cx="118.58" cy="70.03" r="0.62" fill="#cf403a" fill-opacity="0.8"/>
<circle cx="105.2" cy="70.86" r="0.62" fill="#cf403a" fill-opacity="0.8"/>
<circle cx="109.61" cy="63.72" r="0.62" fill="#cf403a" fill-opacity="0.8"/>
<circle cx="106.72" cy="73.35" r="0.62" fill="#cf403a" fill-opacity="0.8"/>
<circle cx="99.27" cy="71.24" r="0.62" fill="#cf403a" fill-opacity="0.8"/>
<circle cx="102.78" cy="68.17" r="0.62" fill="#cf403a" fill-opacity="0.8"/>
<circle cx="106.63" cy="70.88" r="0.62" fill="#cf403a" fill-opacity="0.8"/>
<circle cx="105.41" cy="67.49" r="0.62" fill="#cf403a" fill-opacity="0.8"/>
<circle cx="99.91" cy="64.64" r="0.62" fill="#cf403a" fill-opacity="0.8"/>
<circle cx="98.96" cy="65.31" r="0.62" fill="#cf403a" fill-opacity="0.8"/>
<circle cx="103.35" cy="64.15" r="0.62" fill="#cf403a" fill-opacity="0.8"/>
<circle cx="106.32" cy="62.5" r="0.62" fill="#cf403a" fill-opacity="0.8"/>
<circle cx="103.55" cy="72.43" r="0.62" fill="#cf403a" fill-opacity="0.8"/>
<circle cx="92.17" cy="56.74" r="0.62" fill="#cf403a" fill-opacity="0.8"/>
<circle cx="98.63" cy="67.07" r="0.62" fill="#cf403a" fill-opacity="0.8"/>
<circle cx="113.2" cy="75" r="0.62" fill="#cf403a" fill-opacity="0.8"/>
<circle cx="104.92" cy="63.8" r="0.62" fill="#cf403a" fill-opacity="0.8"/>
<circle cx="101.54" cy="71.07" r="0.62" fill="#cf403a" fill-opacity="0.8"/>
<circle cx="103.27" cy="68.69" r="0.62" fill="#cf403a" fill-opacity="0.8"/>
<circle cx="98.07" cy="62.04" r="0.62" fill="#cf403a" fill-opacity="0.8"/>
<circle cx="99.66" cy="61.7" r="0.62" fill="#cf403a" fill-opacity="0.8"/>
<circle cx="109.03" cy="74.46" r="0.62" fill="#cf403a" fill-opacity="0.8"/>
<circle cx="102.94" cy="60.08" r="0.62" fill="#cf403a" fill-opacity="0.8"/>
<circle cx="97.55" cy="58.58" r="0.62" fill="#cf403a" fill-opacity="0.8"/>
<circle cx="112.47" cy="75.65" r="0.62" fill="#cf403a" fill-opacity="0.8"/>
<circle cx="105.13" cy="62.61" r="0.62" fill="#cf403a" fill-opacity="0.8"/>
<circle cx="97.14" cy="68.28" r="0.62" fill="#cf403a" fill-opacity="0.8"/>
<circle cx="107.52" cy="70.96" r="0.62" fill="#cf403a" fill-opacity="0.8"/>
<circle cx="96.57" cy="65.76" r="0.62" fill="#cf403a" fill-opacity="0.8"/>
<circle cx="102.54" cy="87.15" r="0.62" fill="#cf403a" fill-opacity="0.8"/>
<circle cx="108.53" cy="73.53" r="0.62" fill="#cf403a" fill-opacity="0.8"/>
<circle cx="106.83" cy="69.01" r="0.62" fill="#cf403a" fill-opacity="0.8"/>
<circle cx="101.36" cy="61.35" r="0.62" fill="#cf403a" fill-opacity="0.8"/>
<circle cx="100.29" cy="69.49" r="0.62" fill="#cf403a" fill-opacity="0.8"/>
<circle cx="104.39" cy="78.16" r="0.62" fill="#cf403a" fill-opacity="0.8"/>
<circle cx="112.26" cy="61.71" r="0.62" fill="#cf403a" fill-opacity="0.8"/>
<circle cx="107.45" cy="75.47" r="0.62" fill="#cf403a" fill-opacity="0.8"/>
<circle cx="94.94" cy="68.46" r="0.62" fill="#cf403a" fill-opacity="0.8"/>
<circle cx="99.69" cy="62.21" r="0.62" fill="#cf403a" fill-opacity="0.8"/>
<circle cx="102.72" cy="67.17" r="0.62" fill="#cf403a" fill-opacity="0.8"/>
<circle cx="109.32" cy="59.96" r="0.62" fill="#cf403a" fill-opacity="0.8"/>
<circle cx="96.75" cy="60.47" r="0.62" fill="#cf403a" fill-opacity="0.8"/>
<circle cx="105.89" cy="70.32" r="0.62" fill="#cf403a" fill-opacity="0.8"/>
<circle cx="101.67" cy="57.54" r="0.62" fill="#cf403a" fill-opacity="0.8"/>
<circle cx="93.42" cy="65.47" r="0.62" fill="#cf403a" fill-opacity="0.8"/>
<circle cx="95.44" cy="65.17" r="0.62" fill="#cf403a" fill-opacity="0.8"/>
<circle cx="100.84" cy="58.27" r="0.62" fill="#cf403a" fill-opacity="0.8"/>
<circle cx="95.17" cy="68.53" r="0.62" fill="#cf403a" fill-opacity="0.8"/>
<circle cx="100.08" cy="63.14" r="0.62" fill="#cf403a" fill-opacity="0.8"/>
<circle cx="101.63" cy="62.44" r="0.62" fill="#cf403a" fill-opacity="0.8"/>
<circle cx="109.01" cy="69.3" r="0.62" fill="#cf403a" fill-opacity="0.8"/>
<circle cx="147.8" cy="62.5" r="0.58" fill="#cf403a" fill-opacity="0.8"/>
<circle cx="142.63" cy="66.66" r="0.58" fill="#cf403a" fill-opacity="0.8"/>
<circle cx="152.47" cy="79.03" r="0.58" fill="#cf403a" fill-opacity="0.8"/>
<circle cx="140.21" cy="64.06" r="0.58" fill="#cf403a" fill-opacity="0.8"/>
<circle cx="136.75" cy="62.13" r="0.58" fill="#cf403a" fill-opacity="0.8"/>
<circle cx="146.19" cy="70.65" r="0.58" fill="#cf403a" fill-opacity="0.8"/>
<circle cx="151.65" cy="65.09" r="0.58" fill="#cf403a" fill-opacity="0.8"/>
<circle cx="142.41" cy="58.98" r="0.58" fill="#cf403a" fill-opacity="0.8"/>
<circle cx="158.65" cy="66.85" r="0.58" fill="#cf403a" fill-opacity="0.8"/>
<circle cx="152.19" cy="71.48" r="0.58" fill="#cf403a" fill-opacity="0.8"/>
<circle cx="155.26" cy="63.65" r="0.58" fill="#cf403a" fill-opacity="0.8"/>
<circle cx="148.77" cy="70.72" r="0.58" fill="#cf403a" fill-opacity="0.8"/>
<circle cx="146.16" cy="69.92" r="0.58" fill="#cf403a" fill-opacity="0.8"/>
<circle cx="137.82" cy="71.02" r="0.58" fill="#cf403a" fill-opacity="0.8"/>
<circle cx="140.74" cy="64.64" r="0.58" fill="#cf403a" fill-opacity="0.8"/>
<circle cx="151.19" cy="72.35" r="0.58" fill="#cf403a" fill-opacity="0.8"/>
<circle cx="156.28" cy="71.78" r="0.58" fill="#cf403a" fill-opacity="0.8"/>
<circle cx="139.89" cy="66.74" r="0.58" fill="#cf403a" fill-opacity="0.8"/>
<circle cx="152.84" cy="62.6" r="0.58" fill="#cf403a" fill-opacity="0.8"/>
<circle cx="150.18" cy="75.31" r="0.58" fill="#cf403a" fill-opacity="0.8"/>
<circle cx="140.56" cy="69.67" r="0.58" fill="#cf403a" fill-opacity="0.8"/>
<circle cx="145.77" cy="72.17" r="0.58" fill="#cf403a" fill-opacity="0.8"/>
<circle cx="142.41" cy="70.1" r="0.58" fill="#cf403a" fill-opacity="0.8"/>
<circle cx="150.85" cy="69.99" r="0.58" fill="#cf403a" fill-opacity="0.8"/>
<circle cx="145.39" cy="66.6" r="0.58" fill="#cf403a" fill-opacity="0.8"/>
<circle cx="148.63" cy="75.69" r="0.58" fill="#cf403a" fill-opacity="0.8"/>
<circle cx="144.65" cy="71.28" r="0.58" fill="#cf403a" fill-opacity="0.8"/>
<circle cx="144.26" cy="76.09" r="0.58" fill="#cf403a" fill-opacity="0.8"/>
<circle cx="152.8" cy="74.22" r="0.58" fill="#cf403a" fill-opacity="0.8"/>
<circle cx="150.45" cy="66.92" r="0.58" fill="#cf403a" fill-opacity="0.8"/>
<circle cx="136.16" cy="67.44" r="0.58" fill="#cf403a" fill-opacity="0.8"/>
<circle cx="143.88" cy="63.5" r="0.58" fill="#cf403a" fill-opacity="0.8"/>
<circle cx="152.71" cy="71.85" r="0.58" fill="#cf403a" fill-opacity="0.8"/>
<circle cx="138.6" cy="70.17" r="0.58" fill="#cf403a" fill-opacity="0.8"/>
<circle cx="143.56" cy="71.35" r="0.58" fill="#cf403a" fill-opacity="0.8"/>
<circle cx="143.04" cy="59.17" r="0.58" fill="#cf403a" fill-opacity="0.8"/>
<circle cx="142.07" cy="69.77" r="0.58" fill="#cf403a" fill-opacity="0.8"/>
<circle cx="136.9" cy="58.46" r="0.58" fill="#cf403a" fill-opacity="0.8"/>
<circle cx="148.36" cy="80.73" r="0.58" fill="#cf403a" fill-opacity="0.8"/>
<circle cx="147.27" cy="63.53" r="0.58" fill="#cf403a" fill-opacity="0.8"/>
<circle cx="145.64" cy="63.66" r="0.58" fill="#cf403a" fill-opacity="0.8"/>
<circle cx="154.81" cy="74.83" r="0.58" fill="#cf403a" fill-opacity="0.8"/>
<circle cx="140.22" cy="69.23" r="0.58" fill="#cf403a" fill-opacity="0.8"/>
<circle cx="134.04" cy="62.74" r="0.58" fill="#cf403a" fill-opacity="0.8"/>
<circle cx="147.46" cy="67.08" r="0.58" fill="#cf403a" fill-opacity="0.8"/>
<circle cx="143.62" cy="98.09" r="0.6" fill="#c84a46" fill-opacity="0.8"/>
<circle cx="138.66" cy="99.68" r="0.6" fill="#c84a46" fill-opacity="0.8"/>
<circle cx="142.44" cy="101.22" r="0.6" fill="#c84a46" fill-opacity="0.8"/>
<circle cx="151.42" cy="100.3" r="0.6" fill="#c84a46" fill-opacity="0.8"/>
<circle cx="141.89" cy="99.55" r="0.6" fill="#c84a46" fill-opacity="0.8"/>
<circle cx="151.26" cy="98.36" r="0.6" fill="#c84a46" fill-opacity="0.8"/>
<circle cx="147.77" cy="98.21" r="0.6" fill="#c84a46" fill-opacity="0.8"/>
<circle cx="153.3" cy="104" r="0.6" fill="#c84a46" fill-opacity="0.8"/>
<circle cx="140.57" cy="97.28" r="0.6" fill="#c84a46" fill-opacity="0.8"/>
<circle cx="147.89" cy="99.75" r="0.6" fill="#c84a46" fill-opacity="0.8"/>
<circle cx="147.2" cy="102.15" r="0.6" fill="#c84a46" fill-opacity="0.8"/>
<circle cx="148.39" cy="100.13" r="0.6" fill="#c84a46" fill-opacity="0.8"/>
<circle cx="152.72" cy="105.29" r="0.6" fill="#c84a46" fill-opacity="0.8"/>
<circle cx="145.95" cy="100.23" r="0.6" fill="#c84a46" fill-opacity="0.8"/>
<circle cx="145.47" cy="96.27" r="0.6" fill="#c84a46" fill-opacity="0.8"/>
<circle cx="145.7" cy="100.64" r="0.6" fill="#c84a46" fill-opacity="0.8"/>
<circle cx="146.35" cy="97.89" r="0.6" fill="#c84a46" fill-opacity="0.8"/>
<circle cx="135.23" cy="92.08" r="0.6" fill="#c84a46" fill-opacity="0.8"/>
<circle cx="152.36" cy="97.17" r="0.6" fill="#c84a46" fill-opacity="0.8"/>
<circle cx="149.03" cy="103.66" r="0.6" fill="#c84a46" fill-opacity="0.8"/>
<circle cx="146.73" cy="100.82" r="0.6" fill="#c84a46" fill-opacity="0.8"/>
<circle cx="150.76" cy="101.93" r="0.6" fill="#c84a46" fill-opacity="0.8"/>
<circle cx="146.19" cy="103.22" r="0.6" fill="#c84a46" fill-opacity="0.8"/>
<circle cx="145.29" cy="106.21" r="0.6" fill="#c84a46" fill-opacity="0.8"/>
<circle cx="142.6" cy="98.38" r="0.6" fill="#c84a46" fill-opacity="0.8"/>
<circle cx="145.82" cy="101.03" r="0.6" fill="#c84a46" fill-opacity="0.8"/>
<circle cx="142.67" cy="105.14" r="0.6" fill="#c84a46" fill-opacity="0.8"/>
<circle cx="151.52" cy="96.87" r="0.6" fill="#c84a46" fill-opacity="0.8"/>
<circle cx="146.51" cy="102.75" r="0.6" fill="#c84a46" fill-opacity="0.8"/>
<circle cx="152.03" cy="103.66" r="0.6" fill="#c84a46" fill-opacity="0.8"/>
<circle cx="143.1" cy="102.06" r="0.6" fill="#c84a46" fill-opacity="0.8"/>
<circle cx="141.32" cy="99.45" r="0.6" fill="#c84a46" fill-opacity="0.8"/>
<circle cx="140.84" cy="102.97" r="0.6" fill="#c84a46" fill-opacity="0.8"/>
<circle cx="148.46" cy="107.65" r="0.6" fill="#c84a46" fill-opacity="0.8"/>
<circle cx="145.96" cy="100.29" r="0.6" fill="#c84a46" fill-opacity="0.8"/>
<circle cx="144.13" cy="103.38" r="0.6" fill="#c84a46" fill-opacity="0.8"/>
<circle cx="141.86" cy="101.39" r="0.6" fill="#c84a46" fill-opacity="0.8"/>
<circle cx="145.04" cy="102.43" r="0.6" fill="#c84a46" fill-opacity="0.8"/>
<circle cx="148.9" cy="99.19" r="0.6" fill="#c84a46" fill-opacity="0.8"/>
<circle cx="146.7" cy="95.73" r="0.6" fill="#c84a46" fill-opacity="0.8"/>
<circle cx="143.65" cy="98.14" r="0.6" fill="#c84a46" fill-opacity="0.8"/>
<circle cx="151.93" cy="101.2" r="0.6" fill="#c84a46" fill-opacity="0.8"/>
<circle cx="148.49" cy="100.7" r="0.6" fill="#c84a46" fill-opacity="0.8"/>
<circle cx="140.98" cy="100.77" r="0.6" fill="#c84a46" fill-opacity="0.8"/>
<circle cx="155.05" cy="105.2" r="0.6" fill="#c84a46" fill-opacity="0.8"/>
<circle cx="153.76" cy="105.44" r="0.55" fill="#909090" fill-opacity="0.8"/>
<circle cx="150.93" cy="109.91" r="0.55" fill="#909090" fill-opacity="0.8"/>
<circle cx="139.94" cy="96.55" r="0.55" fill="#909090" fill-opacity="0.8"/>
<circle cx="140.12" cy="99.12" r="0.55" fill="#909090" fill-opacity="0.8"/>
<circle cx="146.78" cy="98.39" r="0.55" fill="#909090" fill-opacity="0.8"/>
<circle cx="148.52" cy="108.44" r="0.55" fill="#909090" fill-opacity="0.8"/>
<circle cx="153.32" cy="109.64" r="0.55" fill="#909090" fill-opacity="0.8"/>
<circle cx="148.19" cy="103.19" r="0.55" fill="#909090" fill-opacity="0.8"/>
<circle cx="154.58" cy="107.15" r="0.55" fill="#909090" fill-opacity="0.8"/>
<circle cx="153.51" cy="102.05" r="0.55" fill="#909090" fill-opacity="0.8"/>
<circle cx="146.16" cy="65.04" r="0.5" fill="#a0a0a0" fill-opacity="0.8"/>
<circle cx="157.7" cy="67.56" r="0.5" fill="#a0a0a0" fill-opacity="0.8"/>
<circle cx="148.87" cy="70.75" r="0.5" fill="#a0a0a0" fill-opacity="0.8"/>
<circle cx="147.75" cy="67.48" r="0.5" fill="#a0a0a0" fill-opacity="0.8"/>
<circle cx="151.93" cy="66.47" r="0.5" fill="#a0a0a0" fill-opacity="0.8"/>
<circle cx="147.02" cy="75.57" r="0.5" fill="#a0a0a0" fill-opacity="0.8"/>
<circle cx="142.69" cy="73.45" r="0.5" fill="#a0a0a0" fill-opacity="0.8"/>
<circle cx="153.68" cy="80.26" r="0.5" fill="#a0a0a0" fill-opacity="0.8"/>
<circle cx="64.44" cy="133.13" r="0.75" fill="#f0d81a" fill-opacity="0.8"/>
<circle cx="71.38" cy="129.14" r="0.75" fill="#f0d81a" fill-opacity="0.8"/>
<circle cx="69.62" cy="125.94" r="0.75" fill="#f0d81a" fill-opacity="0.8"/>
<circle cx="69.82" cy="126.67" r="0.75" fill="#f0d81a" fill-opacity="0.8"/>
<circle cx="63.75" cy="127.68" r="0.75" fill="#f0d81a" fill-opacity="0.8"/>
<circle cx="64.27" cy="128.52" r="0.75" fill="#f0d81a" fill-opacity="0.8"/>
<circle cx="60.4" cy="131.62" r="0.75" fill="#f0d81a" fill-opacity="0.8"/>
<circle cx="61.49" cy="131.82" r="0.75" fill="#f0d81a" fill-opacity="0.8"/>
<circle cx="72.58" cy="127.98" r="0.75" fill="#f0d81a" fill-opacity="0.8"/>
<circle cx="73.74" cy="128.28" r="0.75" fill="#f0d81a" fill-opacity="0.8"/>
<circle cx="74.9" cy="123.56" r="0.75" fill="#f0d81a" fill-opacity="0.8"/>
<circle cx="62.77" cy="129.21" r="0.75" fill="#f0d81a" fill-opacity="0.8"/>
<circle cx="63.72" cy="132.57" r="0.75" fill="#f0d81a" fill-opacity="0.8"/>
<circle cx="57.33" cy="132.31" r="0.75" fill="#f0d81a" fill-opacity="0.8"/>
<circle cx="70.27" cy="127.56" r="0.75" fill="#f0d81a" fill-opacity="0.8"/>
<circle cx="68.33" cy="124.27" r="0.75" fill="#f0d81a" fill-opacity="0.8"/>
<circle cx="64.32" cy="128.54" r="0.75" fill="#f0d81a" fill-opacity="0.8"/>
<circle cx="68.53" cy="128.34" r="0.75" fill="#f0d81a" fill-opacity="0.8"/>
<circle cx="70.52" cy="122.75" r="0.75" fill="#f0d81a" fill-opacity="0.8"/>
<circle cx="69.48" cy="132.07" r="0.75" fill="#f0d81a" fill-opacity="0.8"/>
<circle cx="71.28" cy="126.15" r="0.75" fill="#f0d81a" fill-opacity="0.8"/>
<circle cx="69.21" cy="125.97" r="0.75" fill="#f0d81a" fill-opacity="0.8"/>
<circle cx="70.69" cy="124.45" r="0.75" fill="#f0d81a" fill-opacity="0.8"/>
<circle cx="69.52" cy="127.01" r="0.75" fill="#f0d81a" fill-opacity="0.8"/>
<circle cx="63.53" cy="129.79" r="0.75" fill="#f0d81a" fill-opacity="0.8"/>
<circle cx="65.26" cy="126.76" r="0.75" fill="#f0d81a" fill-opacity="0.8"/>
<circle cx="65.93" cy="125.94" r="0.75" fill="#f0d81a" fill-opacity="0.8"/>
<circle cx="70.93" cy="127" r="0.75" fill="#f0d81a" fill-opacity="0.8"/>
<circle cx="70.67" cy="127.58" r="0.75" fill="#f0d81a" fill-opacity="0.8"/>
<circle cx="65.9" cy="124.71" r="0.75" fill="#f0d81a" fill-opacity="0.8"/>
<circle cx="65.1" cy="128.59" r="0.75" fill="#f0d81a" fill-opacity="0.8"/>
<circle cx="64.26" cy="128.74" r="0.75" fill="#f0d81a" fill-opacity="0.8"/>
<circle cx="64.36" cy="127.71" r="0.75" fill="#f0d81a" fill-opacity="0.8"/>
<circle cx="62.45" cy="128.59" r="0.75" fill="#f0d81a" fill-opacity="0.8"/>
<circle cx="63.11" cy="132.07" r="0.75" fill="#f0d81a" fill-opacity="0.8"/>
<circle cx="67.71" cy="128.51" r="0.75" fill="#f0d81a" fill-opacity="0.8"/>
<circle cx="68.85" cy="125.8" r="0.75" fill="#f0d81a" fill-opacity="0.8"/>
<circle cx="68.51" cy="122.44" r="0.75" fill="#f0d81a" fill-opacity="0.8"/>
<circle cx="63.94" cy="129.18" r="0.75" fill="#f0d81a" fill-opacity="0.8"/>
<circle cx="73.6" cy="127.25" r="0.75" fill="#f0d81a" fill-opacity="0.8"/>
<circle cx="70.07" cy="128.04" r="0.75" fill="#f0d81a" fill-opacity="0.8"/>
<circle cx="64.04" cy="128.66" r="0.75" fill="#f0d81a" fill-opacity="0.8"/>
<circle cx="63.9" cy="129.32" r="0.75" fill="#f0d81a" fill-opacity="0.8"/>
<circle cx="61.35" cy="129.57" r="0.75" fill="#f0d81a" fill-opacity="0.8"/>
<circle cx="64.81" cy="129.83" r="0.75" fill="#f0d81a" fill-opacity="0.8"/>
<circle cx="64.29" cy="129.81" r="0.75" fill="#f0d81a" fill-opacity="0.8"/>
<circle cx="68.49" cy="128.15" r="0.75" fill="#f0d81a" fill-opacity="0.8"/>
<circle cx="68.23" cy="124.74" r="0.75" fill="#f0d81a" fill-opacity="0.8"/>
<circle cx="66.4" cy="127.52" r="0.75" fill="#f0d81a" fill-opacity="0.8"/>
<circle cx="69.7" cy="125.18" r="0.75" fill="#f0d81a" fill-opacity="0.8"/>
<circle cx="66" cy="124.79" r="0.75" fill="#f0d81a" fill-opacity="0.8"/>
<circle cx="64.31" cy="127.11" r="0.75" fill="#f0d81a" fill-opacity="0.8"/>
<circle cx="65.42" cy="126.8" r="0.75" fill="#f0d81a" fill-opacity="0.8"/>
<circle cx="66.17" cy="128.56" r="0.75" fill="#f0d81a" fill-opacity="0.8"/>
<circle cx="63.17" cy="131.28" r="0.75" fill="#f0d81a" fill-opacity="0.8"/>
<circle cx="65.96" cy="133.21" r="0.75" fill="#f0d81a" fill-opacity="0.8"/>
<circle cx="70.95" cy="127.3" r="0.75" fill="#f0d81a" fill-opacity="0.8"/>
<circle cx="67.85" cy="130.52" r="0.75" fill="#f0d81a" fill-opacity="0.8"/>
<circle cx="65.72" cy="124.2" r="0.75" fill="#f0d81a" fill-opacity="0.8"/>
<circle cx="68.91" cy="127.32" r="0.75" fill="#f0d81a" fill-opacity="0.8"/>
<circle cx="55.57" cy="128.78" r="0.75" fill="#f0d81a" fill-opacity="0.8"/>
<circle cx="71.43" cy="126.29" r="0.75" fill="#f0d81a" fill-opacity="0.8"/>
<circle cx="61.8" cy="125.65" r="0.75" fill="#f0d81a" fill-opacity="0.8"/>
<circle cx="63.76" cy="132.99" r="0.75" fill="#f0d81a" fill-opacity="0.8"/>
<circle cx="58.26" cy="133.11" r="0.75" fill="#f0d81a" fill-opacity="0.8"/>
<circle cx="75.12" cy="124" r="0.75" fill="#f0d81a" fill-opacity="0.8"/>
<circle cx="63.25" cy="130.7" r="0.75" fill="#f0d81a" fill-opacity="0.8"/>
<circle cx="68.81" cy="127.65" r="0.75" fill="#f0d81a" fill-opacity="0.8"/>
<circle cx="63.92" cy="125.18" r="0.75" fill="#f0d81a" fill-opacity="0.8"/>
<circle cx="68.77" cy="128.57" r="0.75" fill="#f0d81a" fill-opacity="0.8"/>
<circle cx="68.11" cy="128.29" r="0.75" fill="#f0d81a" fill-opacity="0.8"/>
<circle cx="67.52" cy="129.51" r="0.75" fill="#f0d81a" fill-opacity="0.8"/>
<circle cx="78.34" cy="120.72" r="0.75" fill="#f0d81a" fill-opacity="0.8"/>
<circle cx="66.01" cy="125.17" r="0.75" fill="#f0d81a" fill-opacity="0.8"/>
<circle cx="59.46" cy="131.24" r="0.75" fill="#f0d81a" fill-opacity="0.8"/>
<circle cx="70.38" cy="123.56" r="0.75" fill="#f0d81a" fill-opacity="0.8"/>
<circle cx="63.85" cy="127.75" r="0.75" fill="#f0d81a" fill-opacity="0.8"/>
<circle cx="59.47" cy="127.66" r="0.75" fill="#f0d81a" fill-opacity="0.8"/>
<circle cx="65.95" cy="126.93" r="0.75" fill="#f0d81a" fill-opacity="0.8"/>
<circle cx="64.38" cy="126.46" r="0.75" fill="#f0d81a" fill-opacity="0.8"/>
<circle cx="73.36" cy="130.1" r="0.75" fill="#f0d81a" fill-opacity="0.8"/>
<circle cx="61.62" cy="126.38" r="0.75" fill="#f0d81a" fill-opacity="0.8"/>
<circle cx="72.11" cy="128.65" r="0.75" fill="#f0d81a" fill-opacity="0.8"/>
<circle cx="72.74" cy="122.61" r="0.75" fill="#f0d81a" fill-opacity="0.8"/>
<circle cx="63.88" cy="124.2" r="0.75" fill="#f0d81a" fill-opacity="0.8"/>
<circle cx="66.36" cy="124.59" r="0.75" fill="#f0d81a" fill-opacity="0.8"/>
<circle cx="60.25" cy="132.66" r="0.75" fill="#f0d81a" fill-opacity="0.8"/>
<circle cx="65.67" cy="123.11" r="0.75" fill="#f0d81a" fill-opacity="0.8"/>
<circle cx="65.51" cy="134.44" r="0.75" fill="#f0d81a" fill-opacity="0.8"/>
<circle cx="56.57" cy="131.34" r="0.75" fill="#f0d81a" fill-opacity="0.8"/>
<circle cx="75.17" cy="128.04" r="0.75" fill="#f0d81a" fill-opacity="0.8"/>
<circle cx="65.93" cy="126.14" r="0.75" fill="#f0d81a" fill-opacity="0.8"/>
<circle cx="66.83" cy="126.02" r="0.75" fill="#f0d81a" fill-opacity="0.8"/>
<circle cx="68.39" cy="129.52" r="0.75" fill="#f0d81a" fill-opacity="0.8"/>
<circle cx="67.53" cy="130.23" r="0.75" fill="#f0d81a" fill-opacity="0.8"/>
<circle cx="69.99" cy="123.95" r="0.75" fill="#f0d81a" fill-opacity="0.8"/>
<circle cx="64.1" cy="126.45" r="0.75" fill="#f0d81a" fill-opacity="0.8"/>
<circle cx="65.68" cy="123.72" r="0.75" fill="#f0d81a" fill-opacity="0.8"/>
<circle cx="60.13" cy="125.28" r="0.75" fill="#f0d81a" fill-opacity="0.8"/>
<circle cx="66.86" cy="125.27" r="0.75" fill="#f0d81a" fill-opacity="0.8"/>
<circle cx="71.45" cy="127.3" r="0.75" fill="#f0d81a" fill-opacity="0.8"/>
<circle cx="67" cy="125.53" r="0.75" fill="#f0d81a" fill-opacity="0.8"/>
<circle cx="58.98" cy="128.66" r="0.75" fill="#f0d81a" fill-opacity="0.8"/>
<circle cx="66" cy="127.76" r="0.75" fill="#f0d81a" fill-opacity="0.8"/>
<circle cx="65.33" cy="128.36" r="0.75" fill="#f0d81a" fill-opacity="0.8"/>
<circle cx="72.49" cy="127.86" r="0.75" fill="#f0d81a" fill-opacity="0.8"/>
<circle cx="62.17" cy="131.55" r="0.75" fill="#f0d81a" fill-opacity="0.8"/>
<circle cx="62.94" cy="130.09" r="0.75" fill="#f0d81a" fill-opacity="0.8"/>
<circle cx="67.71" cy="129.5" r="0.75" fill="#f0d81a" fill-opacity="0.8"/>
<circle cx="67.79" cy="124.19" r="0.75" fill="#f0d81a" fill-opacity="0.8"/>
<circle cx="56.49" cy="134.45" r="0.6" fill="#f0d81a" fill-opacity="0.8"/>
<circle cx="56.08" cy="138.39" r="0.6" fill="#f0d81a" fill-opacity="0.8"/>
<circle cx="50.82" cy="134.83" r="0.6" fill="#f0d81a" fill-opacity="0.8"/>
<circle cx="57.8" cy="131.34" r="0.6" fill="#f0d81a" fill-opacity="0.8"/>
<circle cx="56.46" cy="132.07" r="0.6" fill="#f0d81a" fill-opacity="0.8"/>
<circle cx="58.27" cy="131" r="0.6" fill="#f0d81a" fill-opacity="0.8"/>
<circle cx="54.92" cy="134.9" r="0.6" fill="#f0d81a" fill-opacity="0.8"/>
<circle cx="61.76" cy="129.93" r="0.6" fill="#f0d81a" fill-opacity="0.8"/>
<circle cx="60.54" cy="130.83" r="0.6" fill="#f0d81a" fill-opacity="0.8"/>
<circle cx="60.15" cy="139.12" r="0.6" fill="#f0d81a" fill-opacity="0.8"/>
<circle cx="59.89" cy="136.65" r="0.6" fill="#f0d81a" fill-opacity="0.8"/>
<circle cx="59.79" cy="133" r="0.6" fill="#f0d81a" fill-opacity="0.8"/>
<circle cx="61.66" cy="131.69" r="0.6" fill="#f0d81a" fill-opacity="0.8"/>
<circle cx="58.25" cy="130.52" r="0.6" fill="#f0d81a" fill-opacity="0.8"/>
<circle cx="55.76" cy="134.29" r="0.6" fill="#f0d81a" fill-opacity="0.8"/>
<circle cx="48.53" cy="130.74" r="0.6" fill="#f0d81a" fill-opacity="0.8"/>
<circle cx="52.64" cy="132.7" r="0.6" fill="#f0d81a" fill-opacity="0.8"/>
<circle cx="65.59" cy="129.79" r="0.6" fill="#f0d81a" fill-opacity="0.8"/>
<circle cx="56.1" cy="131.8" r="0.6" fill="#f0d81a" fill-opacity="0.8"/>
<circle cx="53.53" cy="130.33" r="0.6" fill="#f0d81a" fill-opacity="0.8"/>
<circle cx="61.12" cy="132.13" r="0.6" fill="#f0d81a" fill-opacity="0.8"/>
<circle cx="53.63" cy="128.8" r="0.6" fill="#f0d81a" fill-opacity="0.8"/>
<circle cx="67.21" cy="119.1" r="0.65" fill="#4a8fd2" fill-opacity="0.8"/>
<circle cx="72.26" cy="114.8" r="0.65" fill="#4a8fd2" fill-opacity="0.8"/>
<circle cx="75.58" cy="114.87" r="0.65" fill="#4a8fd2" fill-opacity="0.8"/>
<circle cx="70.29" cy="116.31" r="0.65" fill="#4a8fd2" fill-opacity="0.8"/>
<circle cx="73.14" cy="115.09" r="0.65" fill="#4a8fd2" fill-opacity="0.8"/>
<circle cx="72.74" cy="116.32" r="0.65" fill="#4a8fd2" fill-opacity="0.8"/>
<circle cx="68.68" cy="120.72" r="0.65" fill="#4a8fd2" fill-opacity="0.8"/>
<circle cx="65.61" cy="120.59" r="0.65" fill="#4a8fd2" fill-opacity="0.8"/>
<circle cx="64.6" cy="123.14" r="0.65" fill="#4a8fd2" fill-opacity="0.8"/>
<circle cx="70.63" cy="118.71" r="0.65" fill="#4a8fd2" fill-opacity="0.8"/>
<circle cx="66.97" cy="119.74" r="0.65" fill="#4a8fd2" fill-opacity="0.8"/>
<circle cx="72.74" cy="112.73" r="0.65" fill="#4a8fd2" fill-opacity="0.8"/>
<circle cx="69.37" cy="118.5" r="0.65" fill="#4a8fd2" fill-opacity="0.8"/>
<circle cx="71.24" cy="115.72" r="0.65" fill="#4a8fd2" fill-opacity="0.8"/>
<circle cx="65.21" cy="120.27" r="0.65" fill="#4a8fd2" fill-opacity="0.8"/>
<circle cx="71.93" cy="116.2" r="0.65" fill="#4a8fd2" fill-opacity="0.8"/>
<circle cx="70.31" cy="117.7" r="0.65" fill="#4a8fd2" fill-opacity="0.8"/>
<circle cx="72.19" cy="116.98" r="0.65" fill="#4a8fd2" fill-opacity="0.8"/>
<circle cx="65.66" cy="122.98" r="0.65" fill="#4a8fd2" fill-opacity="0.8"/>
<circle cx="74.34" cy="114.13" r="0.65" fill="#4a8fd2" fill-opacity="0.8"/>
<circle cx="68.75" cy="119.64" r="0.65" fill="#4a8fd2" fill-opacity="0.8"/>
<circle cx="67.78" cy="119.95" r="0.65" fill="#4a8fd2" fill-opacity="0.8"/>
<circle cx="66.94" cy="120.9" r="0.65" fill="#4a8fd2" fill-opacity="0.8"/>
<circle cx="73.62" cy="114.98" r="0.65" fill="#4a8fd2" fill-opacity="0.8"/>
<circle cx="71.41" cy="115.36" r="0.65" fill="#4a8fd2" fill-opacity="0.8"/>
<circle cx="71.07" cy="116.23" r="0.65" fill="#4a8fd2" fill-opacity="0.8"/>
<circle cx="66.84" cy="120.08" r="0.65" fill="#4a8fd2" fill-opacity="0.8"/>
<circle cx="69.45" cy="116.28" r="0.65" fill="#4a8fd2" fill-opacity="0.8"/>
<circle cx="66.39" cy="121.86" r="0.65" fill="#4a8fd2" fill-opacity="0.8"/>
<circle cx="69.66" cy="119.37" r="0.65" fill="#4a8fd2" fill-opacity="0.8"/>
<circle cx="77.51" cy="129.87" r="0.6" fill="#9a9a9a" fill-opacity="0.8"/>
<circle cx="81.42" cy="126.69" r="0.6" fill="#9a9a9a" fill-opacity="0.8"/>
<circle cx="82.87" cy="126.85" r="0.6" fill="#9a9a9a" fill-opacity="0.8"/>
<circle cx="74.84" cy="130.76" r="0.6" fill="#9a9a9a" fill-opacity="0.8"/>
<circle cx="79.74" cy="128.43" r="0.6" fill="#9a9a9a" fill-opacity="0.8"/>
<circle cx="75.94" cy="131.83" r="0.6" fill="#9a9a9a" fill-opacity="0.8"/>
<circle cx="82.42" cy="125.38" r="0.6" fill="#9a9a9a" fill-opacity="0.8"/>
<circle cx="80.29" cy="128.26" r="0.6" fill="#9a9a9a" fill-opacity="0.8"/>
<circle cx="80.96" cy="128" r="0.6" fill="#9a9a9a" fill-opacity="0.8"/>
<circle cx="81.58" cy="127.43" r="0.6" fill="#9a9a9a" fill-opacity="0.8"/>
<circle cx="81.54" cy="126.54" r="0.6" fill="#9a9a9a" fill-opacity="0.8"/>
<circle cx="81.06" cy="127.6" r="0.6" fill="#9a9a9a" fill-opacity="0.8"/>
<circle cx="78.77" cy="129.93" r="0.6" fill="#9a9a9a" fill-opacity="0.8"/>
<circle cx="80.04" cy="127.9" r="0.6" fill="#9a9a9a" fill-opacity="0.8"/>
<circle cx="79.27" cy="128.84" r="0.6" fill="#9a9a9a" fill-opacity="0.8"/>
<circle cx="78.28" cy="128.97" r="0.6" fill="#9a9a9a" fill-opacity="0.8"/>
<circle cx="82.72" cy="127.74" r="0.6" fill="#9a9a9a" fill-opacity="0.8"/>
<circle cx="79.94" cy="127.35" r="0.6" fill="#9a9a9a" fill-opacity="0.8"/>
</g>
<rect x="49.8" y="123" width="22.7" height="18.6" fill="none" stroke="#5a6a8a" stroke-width="0.7" stroke-dasharray="1 0.8"/>
<line x1="45.1" y1="48" x2="45.1" y2="142.4" stroke="#2a2a2a" stroke-width="1.3"/>
<line x1="44.5" y1="141.8" x2="178.8" y2="141.8" stroke="#2a2a2a" stroke-width="1.3"/>
<line x1="42" y1="63" x2="45.1" y2="63" stroke="#2a2a2a" stroke-width="1"/>
<text x="38.7" y="65.36" font-size="6.6" text-anchor="end" fill="#333" stroke="#333" stroke-width="0.14">1</text>
<line x1="42" y1="85.5" x2="45.1" y2="85.5" stroke="#2a2a2a" stroke-width="1"/>
<text x="38.7" y="87.86" font-size="6.6" text-anchor="end" fill="#333" stroke="#333" stroke-width="0.14">0</text>
<line x1="42" y1="108.3" x2="45.1" y2="108.3" stroke="#2a2a2a" stroke-width="1"/>
<text x="38.7" y="110.66" font-size="6.6" text-anchor="end" fill="#333" stroke="#333" stroke-width="0.14">−1</text>
<line x1="42" y1="131.1" x2="45.1" y2="131.1" stroke="#2a2a2a" stroke-width="1"/>
<text x="38.7" y="133.46" font-size="6.6" text-anchor="end" fill="#333" stroke="#333" stroke-width="0.14">−2</text>
<line x1="61.25" y1="141.8" x2="61.25" y2="144.4" stroke="#2a2a2a" stroke-width="1"/>
<text x="61.25" y="153.53" font-size="6.5" text-anchor="middle" fill="#333" stroke="#333" stroke-width="0.14">−2</text>
<line x1="93.1" y1="141.8" x2="93.1" y2="144.4" stroke="#2a2a2a" stroke-width="1"/>
<text x="93.1" y="153.53" font-size="6.5" text-anchor="middle" fill="#333" stroke="#333" stroke-width="0.14">−1</text>
<line x1="126" y1="141.8" x2="126" y2="144.4" stroke="#2a2a2a" stroke-width="1"/>
<text x="126" y="153.53" font-size="6.5" text-anchor="middle" fill="#333" stroke="#333" stroke-width="0.14">0</text>
<line x1="157.5" y1="141.8" x2="157.5" y2="144.4" stroke="#2a2a2a" stroke-width="1"/>
<text x="157.5" y="153.53" font-size="6.5" text-anchor="middle" fill="#333" stroke="#333" stroke-width="0.14">1</text>
<text x="112" y="166.42" font-size="9" text-anchor="middle" textLength="33.8" lengthAdjust="spacingAndGlyphs" fill="#333" stroke="#333" stroke-width="0.14">AMO1 NES</text>
<text x="26.82" y="94.8" font-size="9" text-anchor="middle" textLength="31.5" lengthAdjust="spacingAndGlyphs" fill="#333" stroke="#333" stroke-width="0.14" transform="rotate(-90 26.82 94.8)">H929 NES</text>
<rect x="295" y="26.9" width="0.2" height="5" fill="#eedc3a"/>
<line x1="291.3" y1="29.4" x2="294.2" y2="29.4" stroke="#2a2a2a" stroke-width="1"/>
<text x="287.6" y="31.76" font-size="6.6" text-anchor="end" textLength="23.85" lengthAdjust="spacingAndGlyphs" fill="#333" stroke="#333" stroke-width="0.14">Hypoxia</text>
<rect x="295" y="34.32" width="0.2" height="5" fill="#eedc3a"/>
<line x1="291.3" y1="36.82" x2="294.2" y2="36.82" stroke="#2a2a2a" stroke-width="1"/>
<text x="287.6" y="39.18" font-size="6.6" text-anchor="end" textLength="54.7" lengthAdjust="spacingAndGlyphs" fill="#333" stroke="#333" stroke-width="0.14">Allograft_rejection</text>
<rect x="295" y="41.74" width="0.3" height="5" fill="#eedc3a"/>
<line x1="291.3" y1="44.24" x2="294.2" y2="44.24" stroke="#2a2a2a" stroke-width="1"/>
<text x="287.6" y="46.6" font-size="6.6" text-anchor="end" textLength="70.5" lengthAdjust="spacingAndGlyphs" fill="#333" stroke="#333" stroke-width="0.14">Estrogen_response_late</text>
<rect x="295" y="49.16" width="0.4" height="5" fill="#eedc3a"/>
<line x1="291.3" y1="51.66" x2="294.2" y2="51.66" stroke="#2a2a2a" stroke-width="1"/>
<text x="287.6" y="54.02" font-size="6.6" text-anchor="end" textLength="81.6" lengthAdjust="spacingAndGlyphs" fill="#333" stroke="#333" stroke-width="0.14">PI3K_AKT_MTOR_signaling</text>
<rect x="295" y="56.58" width="0.5" height="5" fill="#eedc3a"/>
<line x1="291.3" y1="59.08" x2="294.2" y2="59.08" stroke="#2a2a2a" stroke-width="1"/>
<text x="287.6" y="61.44" font-size="6.6" text-anchor="end" textLength="34.6" lengthAdjust="spacingAndGlyphs" fill="#333" stroke="#333" stroke-width="0.14">Peroxisome</text>
<rect x="295" y="64" width="1" height="5" fill="#eedc3a"/>
<line x1="291.3" y1="66.5" x2="294.2" y2="66.5" stroke="#2a2a2a" stroke-width="1"/>
<text x="287.6" y="68.86" font-size="6.6" text-anchor="end" textLength="59.9" lengthAdjust="spacingAndGlyphs" fill="#333" stroke="#333" stroke-width="0.14">Androgen_response</text>
<rect x="295" y="71.42" width="1.5" height="5" fill="#eedc3a"/>
<line x1="291.3" y1="73.92" x2="294.2" y2="73.92" stroke="#2a2a2a" stroke-width="1"/>
<text x="287.6" y="76.28" font-size="6.6" text-anchor="end" textLength="68.2" lengthAdjust="spacingAndGlyphs" fill="#333" stroke="#333" stroke-width="0.14">Fatty_acid_metabolism</text>
<rect x="295" y="78.84" width="2.6" height="5" fill="#eedc3a"/>
<line x1="291.3" y1="81.34" x2="294.2" y2="81.34" stroke="#2a2a2a" stroke-width="1"/>
<text x="287.6" y="83.7" font-size="6.6" text-anchor="end" textLength="79.8" lengthAdjust="spacingAndGlyphs" fill="#333" stroke="#333" stroke-width="0.14">Oxidative_phosphorylation</text>
<rect x="295" y="86.26" width="2.4" height="5" fill="#eedc3a"/>
<line x1="291.3" y1="88.76" x2="294.2" y2="88.76" stroke="#2a2a2a" stroke-width="1"/>
<text x="287.6" y="91.12" font-size="6.6" text-anchor="end" textLength="29.1" lengthAdjust="spacingAndGlyphs" fill="#333" stroke="#333" stroke-width="0.14">Glycolysis</text>
<rect x="295" y="93.68" width="4" height="5" fill="#eedc3a"/>
<line x1="291.3" y1="96.18" x2="294.2" y2="96.18" stroke="#2a2a2a" stroke-width="1"/>
<text x="287.6" y="98.54" font-size="6.6" text-anchor="end" textLength="35.1" lengthAdjust="spacingAndGlyphs" fill="#333" stroke="#333" stroke-width="0.14">DNA_repair</text>
<rect x="295" y="101.1" width="6.5" height="5" fill="#eedc3a"/>
<line x1="291.3" y1="103.6" x2="294.2" y2="103.6" stroke="#2a2a2a" stroke-width="1"/>
<text x="287.6" y="105.96" font-size="6.6" text-anchor="end" textLength="47.5" lengthAdjust="spacingAndGlyphs" fill="#333" stroke="#333" stroke-width="0.14">Mitotic _spindle</text>
<rect x="295" y="108.52" width="10.6" height="5" fill="#eedc3a"/>
<line x1="291.3" y1="111.02" x2="294.2" y2="111.02" stroke="#2a2a2a" stroke-width="1"/>
<text x="287.6" y="113.38" font-size="6.6" text-anchor="end" textLength="82.4" lengthAdjust="spacingAndGlyphs" fill="#333" stroke="#333" stroke-width="0.14">Unfolded_protein_response</text>
<rect x="295" y="115.94" width="11.5" height="5" fill="#eedc3a"/>
<line x1="291.3" y1="118.44" x2="294.2" y2="118.44" stroke="#2a2a2a" stroke-width="1"/>
<text x="287.6" y="120.8" font-size="6.6" text-anchor="end" textLength="48.6" lengthAdjust="spacingAndGlyphs" fill="#333" stroke="#333" stroke-width="0.14">MYC_targets_v2</text>
<rect x="295" y="123.36" width="18" height="5" fill="#eedc3a"/>
<line x1="291.3" y1="125.86" x2="294.2" y2="125.86" stroke="#2a2a2a" stroke-width="1"/>
<text x="287.6" y="128.22" font-size="6.6" text-anchor="end" textLength="57.4" lengthAdjust="spacingAndGlyphs" fill="#333" stroke="#333" stroke-width="0.14">MTORC1_signaling</text>
<rect x="295" y="130.78" width="46" height="5" fill="#eedc3a"/>
<line x1="291.3" y1="133.28" x2="294.2" y2="133.28" stroke="#2a2a2a" stroke-width="1"/>
<text x="287.6" y="135.64" font-size="6.6" text-anchor="end" textLength="50.5" lengthAdjust="spacingAndGlyphs" fill="#333" stroke="#333" stroke-width="0.14">G2M_checkpoint</text>
<rect x="295" y="138.2" width="56" height="5" fill="#eedc3a"/>
<line x1="291.3" y1="140.7" x2="294.2" y2="140.7" stroke="#2a2a2a" stroke-width="1"/>
<text x="287.6" y="143.06" font-size="6.6" text-anchor="end" textLength="48.6" lengthAdjust="spacingAndGlyphs" fill="#333" stroke="#333" stroke-width="0.14">MYC_targets_v1</text>
<rect x="295" y="145.62" width="76.3" height="5" fill="#eedc3a"/>
<line x1="291.3" y1="148.12" x2="294.2" y2="148.12" stroke="#2a2a2a" stroke-width="1"/>
<text x="287.6" y="150.48" font-size="6.6" text-anchor="end" textLength="35.1" lengthAdjust="spacingAndGlyphs" fill="#333" stroke="#333" stroke-width="0.14">E2F_targets</text>
<line x1="294.3" y1="24.4" x2="294.3" y2="153.6" stroke="#2a2a2a" stroke-width="1.4"/>
<line x1="293.6" y1="152.9" x2="374.2" y2="152.9" stroke="#2a2a2a" stroke-width="1.4"/>
<line x1="294.3" y1="152.9" x2="294.3" y2="155.5" stroke="#2a2a2a" stroke-width="0.9"/>
<line x1="298.18" y1="152.9" x2="298.18" y2="154.3" stroke="#2a2a2a" stroke-width="0.9"/>
<line x1="302.05" y1="152.9" x2="302.05" y2="154.3" stroke="#2a2a2a" stroke-width="0.9"/>
<line x1="305.93" y1="152.9" x2="305.93" y2="154.3" stroke="#2a2a2a" stroke-width="0.9"/>
<line x1="309.8" y1="152.9" x2="309.8" y2="154.3" stroke="#2a2a2a" stroke-width="0.9"/>
<line x1="313.68" y1="152.9" x2="313.68" y2="154.3" stroke="#2a2a2a" stroke-width="0.9"/>
<line x1="317.55" y1="152.9" x2="317.55" y2="154.3" stroke="#2a2a2a" stroke-width="0.9"/>
<line x1="321.43" y1="152.9" x2="321.43" y2="154.3" stroke="#2a2a2a" stroke-width="0.9"/>
<line x1="325.3" y1="152.9" x2="325.3" y2="154.3" stroke="#2a2a2a" stroke-width="0.9"/>
<line x1="329.18" y1="152.9" x2="329.18" y2="154.3" stroke="#2a2a2a" stroke-width="0.9"/>
<line x1="333.05" y1="152.9" x2="333.05" y2="155.5" stroke="#2a2a2a" stroke-width="0.9"/>
<line x1="336.93" y1="152.9" x2="336.93" y2="154.3" stroke="#2a2a2a" stroke-width="0.9"/>
<line x1="340.8" y1="152.9" x2="340.8" y2="154.3" stroke="#2a2a2a" stroke-width="0.9"/>
<line x1="344.68" y1="152.9" x2="344.68" y2="154.3" stroke="#2a2a2a" stroke-width="0.9"/>
<line x1="348.55" y1="152.9" x2="348.55" y2="154.3" stroke="#2a2a2a" stroke-width="0.9"/>
<line x1="352.43" y1="152.9" x2="352.43" y2="154.3" stroke="#2a2a2a" stroke-width="0.9"/>
<line x1="356.3" y1="152.9" x2="356.3" y2="154.3" stroke="#2a2a2a" stroke-width="0.9"/>
<line x1="360.18" y1="152.9" x2="360.18" y2="154.3" stroke="#2a2a2a" stroke-width="0.9"/>
<line x1="364.05" y1="152.9" x2="364.05" y2="154.3" stroke="#2a2a2a" stroke-width="0.9"/>
<line x1="367.93" y1="152.9" x2="367.93" y2="154.3" stroke="#2a2a2a" stroke-width="0.9"/>
<line x1="371.8" y1="152.9" x2="371.8" y2="155.5" stroke="#2a2a2a" stroke-width="0.9"/>
<text x="294.3" y="164.83" font-size="6.5" text-anchor="middle" fill="#333" stroke="#333" stroke-width="0.14">0</text>
<text x="333.2" y="164.83" font-size="6.5" text-anchor="middle" fill="#333" stroke="#333" stroke-width="0.14">−50</text>
<text x="372" y="164.83" font-size="6.5" text-anchor="middle" fill="#333" stroke="#333" stroke-width="0.14">−100</text>
<text x="334.5" y="177.22" font-size="9" text-anchor="middle" textLength="28" lengthAdjust="spacingAndGlyphs" fill="#333" stroke="#333" stroke-width="0.14">Log(FDR)</text>
<text x="201.42" y="88.4" font-size="9" text-anchor="middle" textLength="56" lengthAdjust="spacingAndGlyphs" fill="#333" stroke="#333" stroke-width="0.14" transform="rotate(-90 201.42 88.4)">Hallmark pathway</text>
<text x="389.6" y="16.8" font-size="12.4" font-weight="bold" fill="#111">B</text>
<rect x="428.8" y="113.8" width="7.7" height="18.91" fill="#eedc3a"/>
<line x1="432.65" y1="151.9" x2="432.65" y2="154.3" stroke="#2a2a2a" stroke-width="1"/>
<text x="434.98" y="158.3" font-size="6.5" text-anchor="end" fill="#333" stroke="#333" stroke-width="0.14" transform="rotate(-90 434.98 158.3)">E2F1</text>
<rect x="439.3" y="113.8" width="7.7" height="35.53" fill="#eedc3a"/>
<line x1="443.15" y1="151.9" x2="443.15" y2="154.3" stroke="#2a2a2a" stroke-width="1"/>
<text x="445.48" y="158.3" font-size="6.5" text-anchor="end" fill="#333" stroke="#333" stroke-width="0.14" transform="rotate(-90 445.48 158.3)">MYC</text>
<rect x="449.8" y="113.8" width="7.7" height="32.09" fill="#eedc3a"/>
<line x1="453.65" y1="151.9" x2="453.65" y2="154.3" stroke="#2a2a2a" stroke-width="1"/>
<text x="455.98" y="158.3" font-size="6.5" text-anchor="end" fill="#333" stroke="#333" stroke-width="0.14" transform="rotate(-90 455.98 158.3)">FOXM1</text>
<rect x="460.3" y="106.92" width="7.7" height="6.88" fill="#eedc3a"/>
<line x1="464.15" y1="151.9" x2="464.15" y2="154.3" stroke="#2a2a2a" stroke-width="1"/>
<text x="466.48" y="158.3" font-size="6.5" text-anchor="end" fill="#333" stroke="#333" stroke-width="0.14" transform="rotate(-90 466.48 158.3)">RB</text>
<rect x="470.8" y="84.29" width="7.7" height="29.51" fill="#eedc3a"/>
<line x1="474.65" y1="151.9" x2="474.65" y2="154.3" stroke="#2a2a2a" stroke-width="1"/>
<text x="476.98" y="158.3" font-size="6.5" text-anchor="end" fill="#333" stroke="#333" stroke-width="0.14" transform="rotate(-90 476.98 158.3)">KDM5B</text>
<rect x="481.3" y="88.01" width="7.7" height="25.79" fill="#eedc3a"/>
<line x1="485.15" y1="151.9" x2="485.15" y2="154.3" stroke="#2a2a2a" stroke-width="1"/>
<text x="487.48" y="158.3" font-size="6.5" text-anchor="end" fill="#333" stroke="#333" stroke-width="0.14" transform="rotate(-90 487.48 158.3)">CDKN1A</text>
<rect x="491.8" y="88.01" width="7.7" height="25.79" fill="#eedc3a"/>
<line x1="495.65" y1="151.9" x2="495.65" y2="154.3" stroke="#2a2a2a" stroke-width="1"/>
<text x="497.98" y="158.3" font-size="6.5" text-anchor="end" fill="#333" stroke="#333" stroke-width="0.14" transform="rotate(-90 497.98 158.3)">TP53</text>
<line x1="426.3" y1="113.8" x2="500.5" y2="113.8" stroke="#555" stroke-width="1"/>
<line x1="426.3" y1="53.8" x2="426.3" y2="152.5" stroke="#2a2a2a" stroke-width="1.3"/>
<line x1="425.7" y1="151.9" x2="500.5" y2="151.9" stroke="#2a2a2a" stroke-width="1.3"/>
<line x1="423.6" y1="56.5" x2="426.3" y2="56.5" stroke="#2a2a2a" stroke-width="1"/>
<text x="421" y="58.86" font-size="6.6" text-anchor="end" fill="#333" stroke="#333" stroke-width="0.14">10</text>
<line x1="423.6" y1="85.15" x2="426.3" y2="85.15" stroke="#2a2a2a" stroke-width="1"/>
<text x="421" y="87.51" font-size="6.6" text-anchor="end" fill="#333" stroke="#333" stroke-width="0.14">5</text>
<line x1="423.6" y1="113.8" x2="426.3" y2="113.8" stroke="#2a2a2a" stroke-width="1"/>
<text x="421" y="116.16" font-size="6.6" text-anchor="end" fill="#333" stroke="#333" stroke-width="0.14">0</text>
<line x1="423.6" y1="142.45" x2="426.3" y2="142.45" stroke="#2a2a2a" stroke-width="1"/>
<text x="421" y="144.81" font-size="6.6" text-anchor="end" fill="#333" stroke="#333" stroke-width="0.14">−5</text>
<text x="407.94" y="103" font-size="8.2" text-anchor="middle" textLength="21.4" lengthAdjust="spacingAndGlyphs" fill="#333" stroke="#333" stroke-width="0.14" transform="rotate(-90 407.94 103)">Z-score</text>
<text x="7" y="196.9" font-size="12.4" font-weight="bold" fill="#111">C</text>
<text x="88.6" y="225.36" font-size="6.6" text-anchor="middle" textLength="56.8" lengthAdjust="spacingAndGlyphs" fill="#222" stroke="#222" stroke-width="0.14">YKL-5-124 (500nM)</text>
<text x="42.5" y="236.96" font-size="6.6" text-anchor="end" textLength="23.8" lengthAdjust="spacingAndGlyphs" fill="#222" stroke="#222" stroke-width="0.14">Time (h)</text>
<text x="56.5" y="236.06" font-size="6.6" text-anchor="middle" fill="#222" stroke="#222" stroke-width="0.14">0</text>
<text x="69.3" y="236.06" font-size="6.6" text-anchor="middle" fill="#222" stroke="#222" stroke-width="0.14">0.5</text>
<text x="82.1" y="236.06" font-size="6.6" text-anchor="middle" fill="#222" stroke="#222" stroke-width="0.14">1</text>
<text x="94.9" y="236.06" font-size="6.6" text-anchor="middle" fill="#222" stroke="#222" stroke-width="0.14">2</text>
<text x="107.7" y="236.06" font-size="6.6" text-anchor="middle" fill="#222" stroke="#222" stroke-width="0.14">3</text>
<text x="120.5" y="236.06" font-size="6.6" text-anchor="middle" fill="#222" stroke="#222" stroke-width="0.14">4</text>
<rect x="45.6" y="240.3" width="87" height="14.1" fill="#ececec" stroke="#5a5a5a" stroke-width="1"/>
<rect x="45.6" y="254.4" width="87" height="2.9" fill="#b4b4b4"/>
<rect x="45.6" y="257.3" width="87" height="14.2" fill="#f2f2f2" stroke="#5a5a5a" stroke-width="1"/>
<rect x="45.6" y="275.3" width="87" height="14.9" fill="#d8d8d8" stroke="#5a5a5a" stroke-width="1"/>
<rect x="45.6" y="291.9" width="87" height="14.6" fill="#ededed" stroke="#5a5a5a" stroke-width="1"/>
<rect x="51.5" y="245.6" width="10" height="4.4" rx="3.96" ry="2.2" fill="#000" fill-opacity="0.85" filter="url(#bl2)"/>
<rect x="64.05" y="245.2" width="10.5" height="5.2" rx="4.68" ry="2.6" fill="#000" fill-opacity="1" filter="url(#bl2)"/>
<rect x="77.35" y="245.8" width="9.5" height="4" rx="3.6" ry="2" fill="#000" fill-opacity="0.75" filter="url(#bl2)"/>
<rect x="90.4" y="246" width="9" height="3.6" rx="3.24" ry="1.8" fill="#000" fill-opacity="0.62" filter="url(#bl2)"/>
<rect x="103.45" y="246.3" width="8.5" height="3" rx="2.7" ry="1.5" fill="#000" fill-opacity="0.4" filter="url(#bl2)"/>
<rect x="117" y="246.5" width="7" height="2.6" rx="2.34" ry="1.3" fill="#000" fill-opacity="0.3" filter="url(#bl2)"/>
<rect x="51.5" y="263" width="10" height="2.6" rx="2.34" ry="1.3" fill="#000" fill-opacity="0.95" filter="url(#bl)"/>
<rect x="64.3" y="263" width="10" height="2.6" rx="2.34" ry="1.3" fill="#000" fill-opacity="0.97" filter="url(#bl)"/>
<rect x="77.1" y="263" width="10" height="2.6" rx="2.34" ry="1.3" fill="#000" fill-opacity="0.95" filter="url(#bl)"/>
<rect x="89.9" y="263" width="10" height="2.6" rx="2.34" ry="1.3" fill="#000" fill-opacity="0.97" filter="url(#bl)"/>
<rect x="102.7" y="262.4" width="10" height="2.6" rx="2.34" ry="1.3" fill="#000" fill-opacity="1" filter="url(#bl)"/>
<rect x="115.5" y="262.4" width="10" height="2.6" rx="2.34" ry="1.3" fill="#000" fill-opacity="1" filter="url(#bl)"/>
<rect x="51" y="280.6" width="11" height="5.6" rx="5.04" ry="2.8" fill="#000" fill-opacity="1" filter="url(#bl2)"/>
<rect x="64.3" y="281" width="10" height="4.8" rx="4.32" ry="2.4" fill="#000" fill-opacity="0.9" filter="url(#bl2)"/>
<rect x="77.35" y="281.4" width="9.5" height="4" rx="3.6" ry="2" fill="#000" fill-opacity="0.65" filter="url(#bl2)"/>
<rect x="90.4" y="281.6" width="9" height="3.6" rx="3.24" ry="1.8" fill="#000" fill-opacity="0.5" filter="url(#bl2)"/>
<rect x="103.95" y="281.9" width="7.5" height="3" rx="2.7" ry="1.5" fill="#000" fill-opacity="0.25" filter="url(#bl2)"/>
<rect x="117" y="282" width="7" height="2.8" rx="2.52" ry="1.4" fill="#000" fill-opacity="0.14" filter="url(#bl2)"/>
<rect x="51.5" y="297.8" width="10" height="2.8" rx="2.52" ry="1.4" fill="#000" fill-opacity="0.95" filter="url(#bl)"/>
<rect x="64.3" y="297.8" width="10" height="2.8" rx="2.52" ry="1.4" fill="#000" fill-opacity="0.95" filter="url(#bl)"/>
<rect x="77.1" y="297.8" width="10" height="2.8" rx="2.52" ry="1.4" fill="#000" fill-opacity="0.95" filter="url(#bl)"/>
<rect x="89.9" y="297.8" width="10" height="2.8" rx="2.52" ry="1.4" fill="#000" fill-opacity="0.95" filter="url(#bl)"/>
<rect x="102.7" y="297.8" width="10" height="2.8" rx="2.52" ry="1.4" fill="#000" fill-opacity="0.95" filter="url(#bl)"/>
<rect x="115.5" y="297.8" width="10" height="2.8" rx="2.52" ry="1.4" fill="#000" fill-opacity="0.95" filter="url(#bl)"/>
<text x="42.3" y="249.86" font-size="6.6" text-anchor="end" fill="#222" stroke="#222" stroke-width="0.14">MYC</text>
<text x="42.3" y="266.56" font-size="6.6" text-anchor="end" fill="#222" stroke="#222" stroke-width="0.14">GAPDH</text>
<text x="42.3" y="285.16" font-size="6.6" text-anchor="end" fill="#222" stroke="#222" stroke-width="0.14">MYC</text>
<text x="42.3" y="301.56" font-size="6.6" text-anchor="end" fill="#222" stroke="#222" stroke-width="0.14">GAPDH</text>
<text x="135.6" y="260.56" font-size="6.6" fill="#222" stroke="#222" stroke-width="0.14">AMO1</text>
<text x="135.6" y="294.56" font-size="6.6" fill="#222" stroke="#222" stroke-width="0.14">H929</text>
<line x1="192" y1="208.6" x2="192" y2="300.9" stroke="#2a2a2a" stroke-width="1.3"/>
<line x1="191.4" y1="300.3" x2="246" y2="300.3" stroke="#2a2a2a" stroke-width="1.3"/>
<line x1="189" y1="299.9" x2="192" y2="299.9" stroke="#2a2a2a" stroke-width="1"/>
<text x="186.6" y="302.26" font-size="6.6" text-anchor="end" fill="#333" stroke="#333" stroke-width="0.14">0.0</text>
<line x1="190.3" y1="294.98" x2="192" y2="294.98" stroke="#2a2a2a" stroke-width="0.8"/>
<line x1="190.3" y1="290.06" x2="192" y2="290.06" stroke="#2a2a2a" stroke-width="0.8"/>
<line x1="190.3" y1="285.14" x2="192" y2="285.14" stroke="#2a2a2a" stroke-width="0.8"/>
<line x1="190.3" y1="280.22" x2="192" y2="280.22" stroke="#2a2a2a" stroke-width="0.8"/>
<line x1="189" y1="275.3" x2="192" y2="275.3" stroke="#2a2a2a" stroke-width="1"/>
<text x="186.6" y="277.66" font-size="6.6" text-anchor="end" fill="#333" stroke="#333" stroke-width="0.14">0.5</text>
<line x1="190.3" y1="270.38" x2="192" y2="270.38" stroke="#2a2a2a" stroke-width="0.8"/>
<line x1="190.3" y1="265.46" x2="192" y2="265.46" stroke="#2a2a2a" stroke-width="0.8"/>
<line x1="190.3" y1="260.54" x2="192" y2="260.54" stroke="#2a2a2a" stroke-width="0.8"/>
<line x1="190.3" y1="255.62" x2="192" y2="255.62" stroke="#2a2a2a" stroke-width="0.8"/>
<line x1="189" y1="250.7" x2="192" y2="250.7" stroke="#2a2a2a" stroke-width="1"/>
<text x="186.6" y="253.06" font-size="6.6" text-anchor="end" fill="#333" stroke="#333" stroke-width="0.14">1.0</text>
<line x1="190.3" y1="245.78" x2="192" y2="245.78" stroke="#2a2a2a" stroke-width="0.8"/>
<line x1="190.3" y1="240.86" x2="192" y2="240.86" stroke="#2a2a2a" stroke-width="0.8"/>
<line x1="190.3" y1="235.94" x2="192" y2="235.94" stroke="#2a2a2a" stroke-width="0.8"/>
<line x1="190.3" y1="231.02" x2="192" y2="231.02" stroke="#2a2a2a" stroke-width="0.8"/>
<line x1="189" y1="226.1" x2="192" y2="226.1" stroke="#2a2a2a" stroke-width="1"/>
<text x="186.6" y="228.46" font-size="6.6" text-anchor="end" fill="#333" stroke="#333" stroke-width="0.14">1.5</text>
<line x1="190.3" y1="221.18" x2="192" y2="221.18" stroke="#2a2a2a" stroke-width="0.8"/>
<line x1="190.3" y1="216.26" x2="192" y2="216.26" stroke="#2a2a2a" stroke-width="0.8"/>
<line x1="190.3" y1="211.34" x2="192" y2="211.34" stroke="#2a2a2a" stroke-width="0.8"/>
<rect x="196.3" y="251.25" width="7.3" height="49.05" fill="#2aa3dd"/>
<rect x="203.6" y="254.4" width="7.5" height="45.9" fill="#2aa3dd"/>
<rect x="211.1" y="270" width="7.9" height="30.3" fill="#2aa3dd"/>
<rect x="219" y="274" width="7.9" height="26.3" fill="#2aa3dd"/>
<rect x="226.9" y="286.9" width="7.6" height="13.4" fill="#2aa3dd"/>
<rect x="234.5" y="293.1" width="8" height="7.2" fill="#2aa3dd"/>
<line x1="199.95" y1="300.3" x2="199.95" y2="302.6" stroke="#2a2a2a" stroke-width="0.9"/>
<line x1="207.35" y1="254.4" x2="207.35" y2="244.4" stroke="#4a4e70" stroke-width="0.85"/>
<line x1="205.75" y1="244.4" x2="208.95" y2="244.4" stroke="#4a4e70" stroke-width="0.85"/>
<line x1="207.35" y1="300.3" x2="207.35" y2="302.6" stroke="#2a2a2a" stroke-width="0.9"/>
<line x1="215.05" y1="270" x2="215.05" y2="267.25" stroke="#4a4e70" stroke-width="0.85"/>
<line x1="213.45" y1="267.25" x2="216.65" y2="267.25" stroke="#4a4e70" stroke-width="0.85"/>
<line x1="215.05" y1="300.3" x2="215.05" y2="302.6" stroke="#2a2a2a" stroke-width="0.9"/>
<line x1="222.95" y1="274" x2="222.95" y2="270.6" stroke="#4a4e70" stroke-width="0.85"/>
<line x1="221.35" y1="270.6" x2="224.55" y2="270.6" stroke="#4a4e70" stroke-width="0.85"/>
<line x1="222.95" y1="300.3" x2="222.95" y2="302.6" stroke="#2a2a2a" stroke-width="0.9"/>
<line x1="230.7" y1="286.9" x2="230.7" y2="283.5" stroke="#4a4e70" stroke-width="0.85"/>
<line x1="229.1" y1="283.5" x2="232.3" y2="283.5" stroke="#4a4e70" stroke-width="0.85"/>
<line x1="230.7" y1="300.3" x2="230.7" y2="302.6" stroke="#2a2a2a" stroke-width="0.9"/>
<line x1="238.5" y1="293.1" x2="238.5" y2="291.25" stroke="#4a4e70" stroke-width="0.85"/>
<line x1="236.9" y1="291.25" x2="240.1" y2="291.25" stroke="#4a4e70" stroke-width="0.85"/>
<line x1="238.5" y1="300.3" x2="238.5" y2="302.6" stroke="#2a2a2a" stroke-width="0.9"/>
<line x1="203.6" y1="250" x2="203.6" y2="300" stroke="#ffffff" stroke-width="0.5" stroke-opacity="0.6"/>
<line x1="211.1" y1="250" x2="211.1" y2="300" stroke="#ffffff" stroke-width="0.5" stroke-opacity="0.6"/>
<line x1="219" y1="250" x2="219" y2="300" stroke="#ffffff" stroke-width="0.5" stroke-opacity="0.6"/>
<line x1="226.9" y1="250" x2="226.9" y2="300" stroke="#ffffff" stroke-width="0.5" stroke-opacity="0.6"/>
<line x1="234.5" y1="250" x2="234.5" y2="300" stroke="#ffffff" stroke-width="0.5" stroke-opacity="0.6"/>
<text x="199.95" y="312.36" font-size="6.6" text-anchor="middle" fill="#333" stroke="#333" stroke-width="0.14">0</text>
<text x="207.65" y="312.36" font-size="6.6" text-anchor="middle" fill="#333" stroke="#333" stroke-width="0.14">0.5</text>
<text x="215.05" y="312.36" font-size="6.6" text-anchor="middle" fill="#333" stroke="#333" stroke-width="0.14">1</text>
<text x="222.95" y="312.36" font-size="6.6" text-anchor="middle" fill="#333" stroke="#333" stroke-width="0.14">2</text>
<text x="230.7" y="312.36" font-size="6.6" text-anchor="middle" fill="#333" stroke="#333" stroke-width="0.14">3</text>
<text x="238.5" y="312.36" font-size="6.6" text-anchor="middle" fill="#333" stroke="#333" stroke-width="0.14">4</text>
<text x="219.2" y="324.94" font-size="9.6" text-anchor="middle" textLength="40" lengthAdjust="spacingAndGlyphs" fill="#333" stroke="#333" stroke-width="0.14">Time (hours)</text>
<text x="171.91" y="254" font-size="8.4" text-anchor="middle" textLength="64.5" lengthAdjust="spacingAndGlyphs" fill="#333" stroke="#333" stroke-width="0.14" transform="rotate(-90 171.91 254)">Ratio of cMyc/GAPDH</text>
<path d="M199.9 245.8 V242.9 H223 V264.6" fill="none" stroke="#383838" stroke-width="0.95"/>
<path d="M199.9 236.8 V233.7 H231 V278.2" fill="none" stroke="#383838" stroke-width="0.95"/>
<path d="M199.9 226.9 V223.5 H238.75 V285.8" fill="none" stroke="#383838" stroke-width="0.95"/>
<circle cx="212.3" cy="237.6" r="0.95" fill="#333"/>
<circle cx="214.7" cy="229.4" r="0.95" fill="#333"/>
<circle cx="217.9" cy="229.4" r="0.95" fill="#333"/>
<circle cx="217.9" cy="219.6" r="0.95" fill="#333"/>
<circle cx="221" cy="219.6" r="0.95" fill="#333"/>
<text x="272" y="196.9" font-size="12.4" font-weight="bold" fill="#111">D</text>
<rect x="313.75" y="250.7" width="6.6" height="28.5" fill="#c8102e"/>
<line x1="317.05" y1="250.7" x2="317.05" y2="243.2" stroke="#8c8c8c" stroke-width="0.9"/>
<line x1="315.35" y1="243.2" x2="318.75" y2="243.2" stroke="#8c8c8c" stroke-width="0.9"/>
<line x1="317.05" y1="279.2" x2="317.05" y2="281.5" stroke="#2a2a2a" stroke-width="0.9"/>
<text x="319.38" y="285.5" font-size="6.5" text-anchor="end" fill="#333" stroke="#333" stroke-width="0.14" transform="rotate(-90 319.38 285.5)">SLC2A1</text>
<circle cx="317.05" cy="219.8" r="0.9" fill="#444"/>
<rect x="321.31" y="267.3" width="6.6" height="11.9" fill="#1d4f8c"/>
<line x1="324.61" y1="267.3" x2="324.61" y2="250.4" stroke="#8c8c8c" stroke-width="0.9"/>
<line x1="322.91" y1="250.4" x2="326.31" y2="250.4" stroke="#8c8c8c" stroke-width="0.9"/>
<line x1="324.61" y1="279.2" x2="324.61" y2="281.5" stroke="#2a2a2a" stroke-width="0.9"/>
<text x="326.94" y="285.5" font-size="6.5" text-anchor="end" fill="#333" stroke="#333" stroke-width="0.14" transform="rotate(-90 326.94 285.5)">SLC2A3</text>
<rect x="328.87" y="266.2" width="6.6" height="13" fill="#1d4f8c"/>
<line x1="332.17" y1="266.2" x2="332.17" y2="259.2" stroke="#8c8c8c" stroke-width="0.9"/>
<line x1="330.47" y1="259.2" x2="333.87" y2="259.2" stroke="#8c8c8c" stroke-width="0.9"/>
<line x1="332.17" y1="279.2" x2="332.17" y2="281.5" stroke="#2a2a2a" stroke-width="0.9"/>
<text x="334.5" y="285.5" font-size="6.5" text-anchor="end" fill="#333" stroke="#333" stroke-width="0.14" transform="rotate(-90 334.5 285.5)">HK1</text>
<rect x="336.43" y="247" width="6.6" height="32.2" fill="#c8102e"/>
<line x1="339.73" y1="247" x2="339.73" y2="235.3" stroke="#8c8c8c" stroke-width="0.9"/>
<line x1="338.03" y1="235.3" x2="341.43" y2="235.3" stroke="#8c8c8c" stroke-width="0.9"/>
<line x1="339.73" y1="279.2" x2="339.73" y2="281.5" stroke="#2a2a2a" stroke-width="0.9"/>
<text x="342.06" y="285.5" font-size="6.5" text-anchor="end" fill="#333" stroke="#333" stroke-width="0.14" transform="rotate(-90 342.06 285.5)">HK2</text>
<circle cx="339.73" cy="219.8" r="0.9" fill="#444"/>
<rect x="343.99" y="261.6" width="6.6" height="17.6" fill="#1d4f8c"/>
<line x1="347.29" y1="261.6" x2="347.29" y2="260.6" stroke="#8c8c8c" stroke-width="0.9"/>
<line x1="345.59" y1="260.6" x2="348.99" y2="260.6" stroke="#8c8c8c" stroke-width="0.9"/>
<line x1="347.29" y1="279.2" x2="347.29" y2="281.5" stroke="#2a2a2a" stroke-width="0.9"/>
<text x="349.62" y="285.5" font-size="6.5" text-anchor="end" fill="#333" stroke="#333" stroke-width="0.14" transform="rotate(-90 349.62 285.5)">GPI</text>
<rect x="351.55" y="267.3" width="6.6" height="11.9" fill="#1d4f8c"/>
<line x1="354.85" y1="267.3" x2="354.85" y2="264.7" stroke="#8c8c8c" stroke-width="0.9"/>
<line x1="353.15" y1="264.7" x2="356.55" y2="264.7" stroke="#8c8c8c" stroke-width="0.9"/>
<line x1="354.85" y1="279.2" x2="354.85" y2="281.5" stroke="#2a2a2a" stroke-width="0.9"/>
<text x="357.18" y="285.5" font-size="6.5" text-anchor="end" fill="#333" stroke="#333" stroke-width="0.14" transform="rotate(-90 357.18 285.5)">PFKL</text>
<rect x="359.11" y="253.2" width="6.6" height="26" fill="#c8102e"/>
<line x1="362.41" y1="253.2" x2="362.41" y2="246.2" stroke="#8c8c8c" stroke-width="0.9"/>
<line x1="360.71" y1="246.2" x2="364.11" y2="246.2" stroke="#8c8c8c" stroke-width="0.9"/>
<line x1="362.41" y1="279.2" x2="362.41" y2="281.5" stroke="#2a2a2a" stroke-width="0.9"/>
<text x="364.74" y="285.5" font-size="6.5" text-anchor="end" fill="#333" stroke="#333" stroke-width="0.14" transform="rotate(-90 364.74 285.5)">PFKP</text>
<circle cx="362.41" cy="219.8" r="0.9" fill="#444"/>
<rect x="366.67" y="272.2" width="6.6" height="7" fill="#1d4f8c"/>
<line x1="369.97" y1="272.2" x2="369.97" y2="262.2" stroke="#8c8c8c" stroke-width="0.9"/>
<line x1="368.27" y1="262.2" x2="371.67" y2="262.2" stroke="#8c8c8c" stroke-width="0.9"/>
<line x1="369.97" y1="279.2" x2="369.97" y2="281.5" stroke="#2a2a2a" stroke-width="0.9"/>
<text x="372.3" y="285.5" font-size="6.5" text-anchor="end" fill="#333" stroke="#333" stroke-width="0.14" transform="rotate(-90 372.3 285.5)">PFKFB3</text>
<rect x="374.23" y="240" width="6.6" height="39.2" fill="#c8102e"/>
<line x1="377.53" y1="240" x2="377.53" y2="237.8" stroke="#8c8c8c" stroke-width="0.9"/>
<line x1="375.83" y1="237.8" x2="379.23" y2="237.8" stroke="#8c8c8c" stroke-width="0.9"/>
<line x1="377.53" y1="279.2" x2="377.53" y2="281.5" stroke="#2a2a2a" stroke-width="0.9"/>
<text x="379.86" y="285.5" font-size="6.5" text-anchor="end" fill="#333" stroke="#333" stroke-width="0.14" transform="rotate(-90 379.86 285.5)">PFKFB4</text>
<circle cx="377.53" cy="219.8" r="0.9" fill="#444"/>
<rect x="381.79" y="258.8" width="6.6" height="20.4" fill="#1d4f8c"/>
<line x1="385.09" y1="258.8" x2="385.09" y2="254.2" stroke="#8c8c8c" stroke-width="0.9"/>
<line x1="383.39" y1="254.2" x2="386.79" y2="254.2" stroke="#8c8c8c" stroke-width="0.9"/>
<line x1="385.09" y1="279.2" x2="385.09" y2="281.5" stroke="#2a2a2a" stroke-width="0.9"/>
<text x="387.42" y="285.5" font-size="6.5" text-anchor="end" fill="#333" stroke="#333" stroke-width="0.14" transform="rotate(-90 387.42 285.5)">ALDOA</text>
<rect x="389.35" y="265" width="6.6" height="14.2" fill="#c8102e"/>
<line x1="392.65" y1="265" x2="392.65" y2="256.2" stroke="#8c8c8c" stroke-width="0.9"/>
<line x1="390.95" y1="256.2" x2="394.35" y2="256.2" stroke="#8c8c8c" stroke-width="0.9"/>
<line x1="392.65" y1="279.2" x2="392.65" y2="281.5" stroke="#2a2a2a" stroke-width="0.9"/>
<text x="394.98" y="285.5" font-size="6.5" text-anchor="end" fill="#333" stroke="#333" stroke-width="0.14" transform="rotate(-90 394.98 285.5)">ALDOC</text>
<circle cx="392.65" cy="219.8" r="0.9" fill="#444"/>
<rect x="396.91" y="252.4" width="6.6" height="26.8" fill="#c8102e"/>
<line x1="400.21" y1="252.4" x2="400.21" y2="249.3" stroke="#8c8c8c" stroke-width="0.9"/>
<line x1="398.51" y1="249.3" x2="401.91" y2="249.3" stroke="#8c8c8c" stroke-width="0.9"/>
<line x1="400.21" y1="279.2" x2="400.21" y2="281.5" stroke="#2a2a2a" stroke-width="0.9"/>
<text x="402.54" y="285.5" font-size="6.5" text-anchor="end" fill="#333" stroke="#333" stroke-width="0.14" transform="rotate(-90 402.54 285.5)">TPI1</text>
<circle cx="400.21" cy="219.8" r="0.9" fill="#444"/>
<rect x="404.47" y="258" width="6.6" height="21.2" fill="#1d4f8c"/>
<line x1="407.77" y1="258" x2="407.77" y2="257.6" stroke="#8c8c8c" stroke-width="0.9"/>
<line x1="406.07" y1="257.6" x2="409.47" y2="257.6" stroke="#8c8c8c" stroke-width="0.9"/>
<line x1="407.77" y1="279.2" x2="407.77" y2="281.5" stroke="#2a2a2a" stroke-width="0.9"/>
<text x="410.1" y="285.5" font-size="6.5" text-anchor="end" fill="#333" stroke="#333" stroke-width="0.14" transform="rotate(-90 410.1 285.5)">GAPDH</text>
<rect x="412.03" y="260" width="6.6" height="19.2" fill="#1d4f8c"/>
<line x1="415.33" y1="260" x2="415.33" y2="256.2" stroke="#8c8c8c" stroke-width="0.9"/>
<line x1="413.63" y1="256.2" x2="417.03" y2="256.2" stroke="#8c8c8c" stroke-width="0.9"/>
<line x1="415.33" y1="279.2" x2="415.33" y2="281.5" stroke="#2a2a2a" stroke-width="0.9"/>
<text x="417.66" y="285.5" font-size="6.5" text-anchor="end" fill="#333" stroke="#333" stroke-width="0.14" transform="rotate(-90 417.66 285.5)">PGK1</text>
<rect x="419.59" y="262.7" width="6.6" height="16.5" fill="#1d4f8c"/>
<line x1="422.89" y1="262.7" x2="422.89" y2="257.3" stroke="#8c8c8c" stroke-width="0.9"/>
<line x1="421.19" y1="257.3" x2="424.59" y2="257.3" stroke="#8c8c8c" stroke-width="0.9"/>
<line x1="422.89" y1="279.2" x2="422.89" y2="281.5" stroke="#2a2a2a" stroke-width="0.9"/>
<text x="425.22" y="285.5" font-size="6.5" text-anchor="end" fill="#333" stroke="#333" stroke-width="0.14" transform="rotate(-90 425.22 285.5)">PGAM1</text>
<rect x="427.15" y="253.2" width="6.6" height="26" fill="#1d4f8c"/>
<line x1="430.45" y1="253.2" x2="430.45" y2="241.2" stroke="#8c8c8c" stroke-width="0.9"/>
<line x1="428.75" y1="241.2" x2="432.15" y2="241.2" stroke="#8c8c8c" stroke-width="0.9"/>
<line x1="430.45" y1="279.2" x2="430.45" y2="281.5" stroke="#2a2a2a" stroke-width="0.9"/>
<text x="432.78" y="285.5" font-size="6.5" text-anchor="end" fill="#333" stroke="#333" stroke-width="0.14" transform="rotate(-90 432.78 285.5)">ENO1</text>
<rect x="434.71" y="242.25" width="6.6" height="36.95" fill="#c8102e"/>
<line x1="438.01" y1="242.25" x2="438.01" y2="229.4" stroke="#8c8c8c" stroke-width="0.9"/>
<line x1="436.31" y1="229.4" x2="439.71" y2="229.4" stroke="#8c8c8c" stroke-width="0.9"/>
<line x1="438.01" y1="279.2" x2="438.01" y2="281.5" stroke="#2a2a2a" stroke-width="0.9"/>
<text x="440.34" y="285.5" font-size="6.5" text-anchor="end" fill="#333" stroke="#333" stroke-width="0.14" transform="rotate(-90 440.34 285.5)">ENO2</text>
<circle cx="438.01" cy="219.8" r="0.9" fill="#444"/>
<rect x="442.27" y="263.75" width="6.6" height="15.45" fill="#1d4f8c"/>
<line x1="445.57" y1="263.75" x2="445.57" y2="262.8" stroke="#8c8c8c" stroke-width="0.9"/>
<line x1="443.87" y1="262.8" x2="447.27" y2="262.8" stroke="#8c8c8c" stroke-width="0.9"/>
<line x1="445.57" y1="279.2" x2="445.57" y2="281.5" stroke="#2a2a2a" stroke-width="0.9"/>
<text x="447.9" y="285.5" font-size="6.5" text-anchor="end" fill="#333" stroke="#333" stroke-width="0.14" transform="rotate(-90 447.9 285.5)">PKM</text>
<rect x="449.83" y="241.6" width="6.6" height="37.6" fill="#c8102e"/>
<line x1="453.13" y1="241.6" x2="453.13" y2="231.25" stroke="#8c8c8c" stroke-width="0.9"/>
<line x1="451.43" y1="231.25" x2="454.83" y2="231.25" stroke="#8c8c8c" stroke-width="0.9"/>
<line x1="453.13" y1="279.2" x2="453.13" y2="281.5" stroke="#2a2a2a" stroke-width="0.9"/>
<text x="455.46" y="285.5" font-size="6.5" text-anchor="end" fill="#333" stroke="#333" stroke-width="0.14" transform="rotate(-90 455.46 285.5)">LDHA</text>
<circle cx="453.13" cy="219.8" r="0.9" fill="#444"/>
<rect x="457.39" y="259" width="6.6" height="20.2" fill="#c8102e"/>
<line x1="460.69" y1="259" x2="460.69" y2="258.2" stroke="#8c8c8c" stroke-width="0.9"/>
<line x1="458.99" y1="258.2" x2="462.39" y2="258.2" stroke="#8c8c8c" stroke-width="0.9"/>
<line x1="460.69" y1="279.2" x2="460.69" y2="281.5" stroke="#2a2a2a" stroke-width="0.9"/>
<text x="463.02" y="285.5" font-size="6.5" text-anchor="end" fill="#333" stroke="#333" stroke-width="0.14" transform="rotate(-90 463.02 285.5)">PDHA1</text>
<circle cx="460.69" cy="219.8" r="0.9" fill="#444"/>
<line x1="310.3" y1="210" x2="310.3" y2="279.8" stroke="#2a2a2a" stroke-width="1.3"/>
<line x1="309.7" y1="279.2" x2="467" y2="279.2" stroke="#2a2a2a" stroke-width="1.3"/>
<line x1="307.2" y1="279" x2="310.3" y2="279" stroke="#2a2a2a" stroke-width="1"/>
<text x="304" y="281.18" font-size="6.1" text-anchor="end" fill="#444" stroke="#444" stroke-width="0.14">0</text>
<line x1="307.2" y1="262.55" x2="310.3" y2="262.55" stroke="#2a2a2a" stroke-width="1"/>
<text x="304" y="264.73" font-size="6.1" text-anchor="end" fill="#444" stroke="#444" stroke-width="0.14">−1</text>
<line x1="307.2" y1="246.1" x2="310.3" y2="246.1" stroke="#2a2a2a" stroke-width="1"/>
<text x="304" y="248.28" font-size="6.1" text-anchor="end" fill="#444" stroke="#444" stroke-width="0.14">−2</text>
<line x1="307.2" y1="229.65" x2="310.3" y2="229.65" stroke="#2a2a2a" stroke-width="1"/>
<text x="304" y="231.83" font-size="6.1" text-anchor="end" fill="#444" stroke="#444" stroke-width="0.14">−3</text>
<line x1="307.2" y1="213.2" x2="310.3" y2="213.2" stroke="#2a2a2a" stroke-width="1"/>
<text x="304" y="215.38" font-size="6.1" text-anchor="end" fill="#444" stroke="#444" stroke-width="0.14">−4</text>
<text x="292.61" y="246" font-size="8.4" text-anchor="middle" textLength="56" lengthAdjust="spacingAndGlyphs" fill="#333" stroke="#333" stroke-width="0.14" transform="rotate(-90 292.61 246)">Log2 fold change</text>
<rect x="359.2" y="204.2" width="8" height="7.4" fill="#c8102e"/>
<text x="370.8" y="210.06" font-size="6.6" textLength="24.2" lengthAdjust="spacingAndGlyphs" fill="#333" stroke="#333" stroke-width="0.14">P ≤ 0.05</text>
<rect x="400" y="204.2" width="8.2" height="7.4" fill="#1d4f8c"/>
<text x="410.8" y="210.26" font-size="6.6" textLength="6.9" lengthAdjust="spacingAndGlyphs" fill="#333" stroke="#333" stroke-width="0.14">ns</text>
<line x1="311.5" y1="328.4" x2="461" y2="328.4" stroke="#48b24c" stroke-width="2"/>
<path d="M459.4 324.9 L466.6 328.4 L459.4 331.9 Z" fill="#48b24c" stroke="none" stroke-width="1"/>
<line x1="317.05" y1="311.5" x2="317.05" y2="319.2" stroke="#666" stroke-width="0.8"/>
<line x1="324.61" y1="311.5" x2="324.61" y2="319.2" stroke="#666" stroke-width="0.8"/>
<line x1="317.05" y1="319.2" x2="324.61" y2="319.2" stroke="#666" stroke-width="0.8"/>
<line x1="320.83" y1="319.2" x2="320.83" y2="328.4" stroke="#666" stroke-width="0.8"/>
<circle cx="320.83" cy="328.4" r="1.15" fill="#111"/>
<line x1="332.17" y1="311.5" x2="332.17" y2="319.2" stroke="#666" stroke-width="0.8"/>
<line x1="339.73" y1="311.5" x2="339.73" y2="319.2" stroke="#666" stroke-width="0.8"/>
<line x1="332.17" y1="319.2" x2="339.73" y2="319.2" stroke="#666" stroke-width="0.8"/>
<line x1="335.95" y1="319.2" x2="335.95" y2="328.4" stroke="#666" stroke-width="0.8"/>
<circle cx="335.95" cy="328.4" r="1.15" fill="#111"/>
<line x1="347.29" y1="311.5" x2="347.29" y2="328.4" stroke="#666" stroke-width="0.8"/>
<circle cx="347.29" cy="328.4" r="1.15" fill="#111"/>
<line x1="354.85" y1="311.5" x2="354.85" y2="319.2" stroke="#666" stroke-width="0.8"/>
<line x1="362.41" y1="311.5" x2="362.41" y2="319.2" stroke="#666" stroke-width="0.8"/>
<line x1="354.85" y1="319.2" x2="362.41" y2="319.2" stroke="#666" stroke-width="0.8"/>
<line x1="358.63" y1="319.2" x2="358.63" y2="328.4" stroke="#666" stroke-width="0.8"/>
<circle cx="358.63" cy="328.4" r="1.15" fill="#111"/>
<line x1="369.97" y1="311.5" x2="369.97" y2="319.2" stroke="#666" stroke-width="0.8"/>
<line x1="377.53" y1="311.5" x2="377.53" y2="319.2" stroke="#666" stroke-width="0.8"/>
<line x1="369.97" y1="319.2" x2="377.53" y2="319.2" stroke="#666" stroke-width="0.8"/>
<line x1="373.75" y1="319.2" x2="373.75" y2="328.4" stroke="#666" stroke-width="0.8"/>
<circle cx="373.75" cy="328.4" r="1.15" fill="#111"/>
<line x1="385.09" y1="311.5" x2="385.09" y2="319.2" stroke="#666" stroke-width="0.8"/>
<line x1="392.65" y1="311.5" x2="392.65" y2="319.2" stroke="#666" stroke-width="0.8"/>
<line x1="385.09" y1="319.2" x2="392.65" y2="319.2" stroke="#666" stroke-width="0.8"/>
<line x1="388.87" y1="319.2" x2="388.87" y2="328.4" stroke="#666" stroke-width="0.8"/>
<circle cx="388.87" cy="328.4" r="1.15" fill="#111"/>
<line x1="400.21" y1="311.5" x2="400.21" y2="328.4" stroke="#666" stroke-width="0.8"/>
<circle cx="400.21" cy="328.4" r="1.15" fill="#111"/>
<line x1="407.77" y1="311.5" x2="407.77" y2="328.4" stroke="#666" stroke-width="0.8"/>
<circle cx="407.77" cy="328.4" r="1.15" fill="#111"/>
<line x1="415.33" y1="311.5" x2="415.33" y2="328.4" stroke="#666" stroke-width="0.8"/>
<circle cx="415.33" cy="328.4" r="1.15" fill="#111"/>
<line x1="422.89" y1="311.5" x2="422.89" y2="328.4" stroke="#666" stroke-width="0.8"/>
<circle cx="422.89" cy="328.4" r="1.15" fill="#111"/>
<line x1="430.45" y1="311.5" x2="430.45" y2="319.2" stroke="#666" stroke-width="0.8"/>
<line x1="438.01" y1="311.5" x2="438.01" y2="319.2" stroke="#666" stroke-width="0.8"/>
<line x1="430.45" y1="319.2" x2="438.01" y2="319.2" stroke="#666" stroke-width="0.8"/>
<line x1="434.23" y1="319.2" x2="434.23" y2="328.4" stroke="#666" stroke-width="0.8"/>
<circle cx="434.23" cy="328.4" r="1.15" fill="#111"/>
<line x1="445.57" y1="311.5" x2="445.57" y2="328.4" stroke="#666" stroke-width="0.8"/>
<circle cx="445.57" cy="328.4" r="1.15" fill="#111"/>
<line x1="453.13" y1="311.5" x2="453.13" y2="319.2" stroke="#666" stroke-width="0.8"/>
<line x1="460.69" y1="311.5" x2="460.69" y2="319.2" stroke="#666" stroke-width="0.8"/>
<line x1="453.13" y1="319.2" x2="460.69" y2="319.2" stroke="#666" stroke-width="0.8"/>
<line x1="456.91" y1="319.2" x2="456.91" y2="328.4" stroke="#666" stroke-width="0.8"/>
<circle cx="456.91" cy="328.4" r="1.15" fill="#111"/>
<text x="388.8" y="338.08" font-size="7.2" text-anchor="middle" font-weight="bold" textLength="60" lengthAdjust="spacingAndGlyphs" fill="#48b24c">Glycolysis pathway</text>
<text x="7.5" y="356.9" font-size="12.4" font-weight="bold" fill="#111">E</text>
<rect x="40.6" y="370.3" width="132.9" height="8.4" fill="#575757"/>
<text x="106.8" y="376.86" font-size="6.6" text-anchor="middle" font-weight="bold" fill="#fff">AMO1</text>
<rect x="217.4" y="370.5" width="131.1" height="8" fill="#575757"/>
<text x="283" y="376.86" font-size="6.6" text-anchor="middle" font-weight="bold" fill="#fff">H929</text>
<line x1="133.2" y1="388" x2="133.2" y2="490" stroke="#888" stroke-width="0.7" stroke-dasharray="0.9 0.9"/>
<line x1="37.7" y1="490" x2="40.3" y2="490" stroke="#2a2a2a" stroke-width="1"/>
<text x="34" y="492.36" font-size="6.6" text-anchor="end" fill="#333" stroke="#333" stroke-width="0.14">0</text>
<line x1="37.7" y1="465.45" x2="40.3" y2="465.45" stroke="#2a2a2a" stroke-width="1"/>
<text x="34" y="467.81" font-size="6.6" text-anchor="end" fill="#333" stroke="#333" stroke-width="0.14">1</text>
<line x1="37.7" y1="440.9" x2="40.3" y2="440.9" stroke="#2a2a2a" stroke-width="1"/>
<text x="34" y="443.26" font-size="6.6" text-anchor="end" fill="#333" stroke="#333" stroke-width="0.14">2</text>
<line x1="37.7" y1="416.35" x2="40.3" y2="416.35" stroke="#2a2a2a" stroke-width="1"/>
<text x="34" y="418.71" font-size="6.6" text-anchor="end" fill="#333" stroke="#333" stroke-width="0.14">3</text>
<line x1="37.7" y1="391.8" x2="40.3" y2="391.8" stroke="#2a2a2a" stroke-width="1"/>
<text x="34" y="394.16" font-size="6.6" text-anchor="end" fill="#333" stroke="#333" stroke-width="0.14">4</text>
<line x1="57.8" y1="490.3" x2="57.8" y2="492.8" stroke="#2a2a2a" stroke-width="1"/>
<text x="57.8" y="502.16" font-size="6.6" text-anchor="middle" fill="#333" stroke="#333" stroke-width="0.14">−1.0</text>
<line x1="95.6" y1="490.3" x2="95.6" y2="492.8" stroke="#2a2a2a" stroke-width="1"/>
<text x="95.6" y="502.16" font-size="6.6" text-anchor="middle" fill="#333" stroke="#333" stroke-width="0.14">−0.5</text>
<line x1="133.4" y1="490.3" x2="133.4" y2="492.8" stroke="#2a2a2a" stroke-width="1"/>
<text x="133.4" y="502.16" font-size="6.6" text-anchor="middle" fill="#333" stroke="#333" stroke-width="0.14">0.0</text>
<line x1="171.2" y1="490.3" x2="171.2" y2="492.8" stroke="#2a2a2a" stroke-width="1"/>
<text x="171.2" y="502.16" font-size="6.6" text-anchor="middle" fill="#333" stroke="#333" stroke-width="0.14">0.5</text>
<text x="107.3" y="514.92" font-size="9" text-anchor="middle" textLength="27" lengthAdjust="spacingAndGlyphs" fill="#333" stroke="#333" stroke-width="0.14">Log2(FC)</text>
<text x="25.24" y="439.3" font-size="8.2" text-anchor="middle" textLength="41.5" lengthAdjust="spacingAndGlyphs" fill="#333" stroke="#333" stroke-width="0.14" transform="rotate(-90 25.24 439.3)">negLog(pval)</text>
<line x1="97.5" y1="456.2" x2="114.6" y2="460.8" stroke="#3a3a3a" stroke-width="0.6"/>
<line x1="97.5" y1="462.8" x2="119.8" y2="463.7" stroke="#3a3a3a" stroke-width="0.6"/>
<line x1="97.5" y1="468.9" x2="120.4" y2="474.8" stroke="#3a3a3a" stroke-width="0.6"/>
<line x1="97.5" y1="475.7" x2="125.6" y2="478.5" stroke="#3a3a3a" stroke-width="0.6"/>
<line x1="97.5" y1="481.8" x2="119.8" y2="481" stroke="#3a3a3a" stroke-width="0.6"/>
<circle cx="114.6" cy="460.8" r="2.6" fill="#9cbbe6"/>
<text x="96.2" y="458.56" font-size="6.6" text-anchor="end" fill="#222" stroke="#222" stroke-width="0.14">LDHA</text>
<circle cx="119.8" cy="463.7" r="2.6" fill="#9cbbe6"/>
<text x="96.2" y="465.16" font-size="6.6" text-anchor="end" fill="#222" stroke="#222" stroke-width="0.14">PFKP</text>
<circle cx="120.4" cy="474.8" r="2" fill="#9cbbe6"/>
<text x="96.2" y="471.26" font-size="6.6" text-anchor="end" fill="#222" stroke="#222" stroke-width="0.14">PGAM1</text>
<circle cx="125.6" cy="478.5" r="1.8" fill="#9cbbe6"/>
<text x="96.2" y="478.06" font-size="6.6" text-anchor="end" fill="#222" stroke="#222" stroke-width="0.14">ALDOA</text>
<circle cx="119.8" cy="481" r="1.5" fill="#9cbbe6"/>
<text x="96.2" y="484.16" font-size="6.6" text-anchor="end" fill="#222" stroke="#222" stroke-width="0.14">ENO1</text>
<circle cx="47.4" cy="398.2" r="5.4" fill="#6d9fdc"/>
<text x="54.2" y="400.56" font-size="6.6" fill="#222" stroke="#222" stroke-width="0.14">HK2</text>
<circle cx="87.7" cy="421.5" r="4.3" fill="#6d9fdc"/>
<text x="93.5" y="423.86" font-size="6.6" fill="#222" stroke="#222" stroke-width="0.14">SLC2A1</text>
<circle cx="142.5" cy="428.9" r="4.1" fill="#bcb8e6" fill-opacity="0.9"/>
<circle cx="151.5" cy="428" r="4" fill="#dca8c5" fill-opacity="0.9"/>
<circle cx="154.5" cy="438.5" r="3.7" fill="#dca8c5" fill-opacity="0.9"/>
<circle cx="154.9" cy="444.2" r="3.6" fill="#dca8c5" fill-opacity="0.9"/>
<circle cx="155.2" cy="454.7" r="3.1" fill="#dca8c5" fill-opacity="0.9"/>
<circle cx="146.8" cy="461.9" r="3" fill="#bcb8e6" fill-opacity="0.9"/>
<circle cx="139.2" cy="475.4" r="1.9" fill="#bcb8e6" fill-opacity="0.9"/>
<circle cx="157" cy="474.2" r="2.1" fill="#dca8c5" fill-opacity="0.9"/>
<circle cx="145.2" cy="477.5" r="1.9" fill="#bcb8e6" fill-opacity="0.9"/>
<circle cx="139.6" cy="484.6" r="0.6" fill="#bcb8e6" fill-opacity="0.9"/>
<circle cx="136.2" cy="488.8" r="0.5" fill="#bcb8e6" fill-opacity="0.9"/>
<line x1="163.6" y1="424.5" x2="156.5" y2="427.4" stroke="#3a3a3a" stroke-width="0.6"/>
<line x1="163.6" y1="430.4" x2="147.8" y2="429.4" stroke="#3a3a3a" stroke-width="0.6"/>
<line x1="163.6" y1="437" x2="158.2" y2="439.9" stroke="#3a3a3a" stroke-width="0.6"/>
<line x1="163.6" y1="443" x2="158.2" y2="446.1" stroke="#3a3a3a" stroke-width="0.6"/>
<line x1="163.6" y1="449.4" x2="158.4" y2="454.5" stroke="#3a3a3a" stroke-width="0.6"/>
<line x1="163.6" y1="455.3" x2="150" y2="461.5" stroke="#3a3a3a" stroke-width="0.6"/>
<line x1="163.6" y1="461.6" x2="139.6" y2="475.2" stroke="#3a3a3a" stroke-width="0.6"/>
<line x1="163.6" y1="467.8" x2="158.6" y2="473.8" stroke="#3a3a3a" stroke-width="0.6"/>
<line x1="163.6" y1="474.2" x2="145.6" y2="477.3" stroke="#3a3a3a" stroke-width="0.6"/>
<line x1="163.6" y1="480.4" x2="139.6" y2="484.6" stroke="#3a3a3a" stroke-width="0.6"/>
<line x1="163.6" y1="486.6" x2="136.2" y2="488.8" stroke="#3a3a3a" stroke-width="0.6"/>
<text x="164.9" y="426.86" font-size="6.6" fill="#222" stroke="#222" stroke-width="0.14">PFKFB3</text>
<text x="164.9" y="432.76" font-size="6.6" fill="#222" stroke="#222" stroke-width="0.14">GAPDH</text>
<text x="164.9" y="439.36" font-size="6.6" fill="#222" stroke="#222" stroke-width="0.14">HK1</text>
<text x="164.9" y="445.36" font-size="6.6" fill="#222" stroke="#222" stroke-width="0.14">PFKL</text>
<text x="164.9" y="451.76" font-size="6.6" fill="#222" stroke="#222" stroke-width="0.14">PKM</text>
<text x="164.9" y="457.66" font-size="6.6" fill="#222" stroke="#222" stroke-width="0.14">TPI1</text>
<text x="164.9" y="463.96" font-size="6.6" fill="#222" stroke="#222" stroke-width="0.14">PDHA1</text>
<text x="164.9" y="470.16" font-size="6.6" fill="#222" stroke="#222" stroke-width="0.14">PGK1</text>
<text x="164.9" y="476.56" font-size="6.6" fill="#222" stroke="#222" stroke-width="0.14">ENO2</text>
<text x="164.9" y="482.76" font-size="6.6" fill="#222" stroke="#222" stroke-width="0.14">GPI</text>
<text x="164.9" y="488.96" font-size="6.6" fill="#222" stroke="#222" stroke-width="0.14">ALDOC</text>
<line x1="40.3" y1="388.6" x2="40.3" y2="490.9" stroke="#2a2a2a" stroke-width="1.3"/>
<line x1="39.7" y1="490.3" x2="173.2" y2="490.3" stroke="#2a2a2a" stroke-width="1.3"/>
<line x1="307.6" y1="440" x2="307.6" y2="490.3" stroke="#888" stroke-width="0.7" stroke-dasharray="0.9 0.9"/>
<line x1="214.3" y1="490.7" x2="216.9" y2="490.7" stroke="#2a2a2a" stroke-width="1"/>
<text x="211" y="493.06" font-size="6.6" text-anchor="end" fill="#333" stroke="#333" stroke-width="0.14">0</text>
<line x1="214.3" y1="458.1" x2="216.9" y2="458.1" stroke="#2a2a2a" stroke-width="1"/>
<text x="211" y="460.46" font-size="6.6" text-anchor="end" fill="#333" stroke="#333" stroke-width="0.14">1</text>
<line x1="214.3" y1="425.5" x2="216.9" y2="425.5" stroke="#2a2a2a" stroke-width="1"/>
<text x="211" y="427.86" font-size="6.6" text-anchor="end" fill="#333" stroke="#333" stroke-width="0.14">2</text>
<line x1="214.3" y1="392.9" x2="216.9" y2="392.9" stroke="#2a2a2a" stroke-width="1"/>
<text x="211" y="395.26" font-size="6.6" text-anchor="end" fill="#333" stroke="#333" stroke-width="0.14">3</text>
<line x1="231.6" y1="490.6" x2="231.6" y2="493.1" stroke="#2a2a2a" stroke-width="1"/>
<text x="231.6" y="501.96" font-size="6.6" text-anchor="middle" fill="#333" stroke="#333" stroke-width="0.14">−1.0</text>
<line x1="269.6" y1="490.6" x2="269.6" y2="493.1" stroke="#2a2a2a" stroke-width="1"/>
<text x="269.6" y="501.96" font-size="6.6" text-anchor="middle" fill="#333" stroke="#333" stroke-width="0.14">−0.5</text>
<line x1="307.6" y1="490.6" x2="307.6" y2="493.1" stroke="#2a2a2a" stroke-width="1"/>
<text x="307.6" y="501.96" font-size="6.6" text-anchor="middle" fill="#333" stroke="#333" stroke-width="0.14">0.0</text>
<line x1="345.6" y1="490.6" x2="345.6" y2="493.1" stroke="#2a2a2a" stroke-width="1"/>
<text x="345.6" y="501.96" font-size="6.6" text-anchor="middle" fill="#333" stroke="#333" stroke-width="0.14">0.5</text>
<text x="282" y="515.62" font-size="9" text-anchor="middle" textLength="27" lengthAdjust="spacingAndGlyphs" fill="#333" stroke="#333" stroke-width="0.14">Log2(FC)</text>
<text x="202.54" y="440.4" font-size="8.2" text-anchor="middle" textLength="41" lengthAdjust="spacingAndGlyphs" fill="#333" stroke="#333" stroke-width="0.14" transform="rotate(-90 202.54 440.4)">negLog(pval)</text>
<circle cx="222.3" cy="423.8" r="3.6" fill="#6d9fdc"/>
<text x="227.7" y="426.56" font-size="6.6" fill="#222" stroke="#222" stroke-width="0.14">HK2</text>
<circle cx="262.3" cy="452" r="2.8" fill="#6d9fdc"/>
<text x="266.6" y="454.56" font-size="6.6" fill="#222" stroke="#222" stroke-width="0.14">SLC2A1</text>
<line x1="270.5" y1="462.4" x2="294.6" y2="466.4" stroke="#3a3a3a" stroke-width="0.6"/>
<line x1="270.5" y1="469.3" x2="300.3" y2="469.7" stroke="#3a3a3a" stroke-width="0.6"/>
<line x1="270.5" y1="475" x2="294.6" y2="472.8" stroke="#3a3a3a" stroke-width="0.6"/>
<line x1="270.5" y1="480.9" x2="289.8" y2="476.7" stroke="#3a3a3a" stroke-width="0.6"/>
<line x1="270.5" y1="487.1" x2="295.5" y2="487.3" stroke="#3a3a3a" stroke-width="0.6"/>
<circle cx="294.6" cy="466.4" r="2" fill="#9cbbe6"/>
<text x="269.2" y="464.66" font-size="6.3" text-anchor="end" textLength="17.6" lengthAdjust="spacingAndGlyphs" fill="#222" stroke="#222" stroke-width="0.14">ENO1</text>
<circle cx="300.3" cy="469.7" r="2" fill="#9cbbe6"/>
<text x="269.2" y="471.56" font-size="6.3" text-anchor="end" textLength="23.4" lengthAdjust="spacingAndGlyphs" fill="#222" stroke="#222" stroke-width="0.14">ALDOA</text>
<circle cx="294.6" cy="472.8" r="2" fill="#9cbbe6"/>
<text x="269.2" y="477.26" font-size="6.3" text-anchor="end" textLength="15.6" lengthAdjust="spacingAndGlyphs" fill="#222" stroke="#222" stroke-width="0.14">PFKP</text>
<circle cx="289.8" cy="476.7" r="1.8" fill="#9cbbe6"/>
<text x="269.2" y="483.16" font-size="6.3" text-anchor="end" textLength="17.6" lengthAdjust="spacingAndGlyphs" fill="#222" stroke="#222" stroke-width="0.14">LDHA</text>
<text x="269.2" y="489.36" font-size="6.3" text-anchor="end" textLength="23.4" lengthAdjust="spacingAndGlyphs" fill="#222" stroke="#222" stroke-width="0.14">PGAM1</text>
<line x1="311.2" y1="440" x2="311.2" y2="477.9" stroke="#8a9cb8" stroke-width="0.7"/>
<circle cx="311.2" cy="477.9" r="1.8" fill="#9cbbe6"/>
<line x1="315.6" y1="430.4" x2="315.6" y2="486" stroke="#555" stroke-width="0.6"/>
<line x1="317.8" y1="440" x2="317.8" y2="482.6" stroke="#555" stroke-width="0.6"/>
<text x="315.6" y="429.66" font-size="6.6" text-anchor="middle" fill="#222" stroke="#222" stroke-width="0.14">PGK1</text>
<text x="301.8" y="439.16" font-size="6.6" text-anchor="middle" fill="#222" stroke="#222" stroke-width="0.14">ALDOC</text>
<text x="327.6" y="439.16" font-size="6.6" text-anchor="middle" fill="#222" stroke="#222" stroke-width="0.14">GAPDH</text>
<circle cx="326.4" cy="444.7" r="3.1" fill="#dca8c5" fill-opacity="0.9"/>
<circle cx="329.4" cy="461.8" r="2.8" fill="#dca8c5" fill-opacity="0.9"/>
<circle cx="321.1" cy="477.2" r="1.5" fill="#bcb8e6" fill-opacity="0.9"/>
<circle cx="318.9" cy="482.6" r="1.4" fill="#bcb8e6" fill-opacity="0.9"/>
<circle cx="329.4" cy="479.2" r="1.5" fill="#dca8c5" fill-opacity="0.9"/>
<circle cx="331.6" cy="485.5" r="0.8" fill="#bcb8e6" fill-opacity="0.9"/>
<circle cx="315.4" cy="486.2" r="0.7" fill="#bcb8e6" fill-opacity="0.9"/>
<line x1="338" y1="444.2" x2="326.4" y2="444.5" stroke="#3a3a3a" stroke-width="0.6"/>
<line x1="338" y1="449.8" x2="330.3" y2="460.5" stroke="#3a3a3a" stroke-width="0.6"/>
<line x1="338" y1="456.3" x2="321.5" y2="477.2" stroke="#3a3a3a" stroke-width="0.6"/>
<line x1="338" y1="462.3" x2="318.9" y2="482.9" stroke="#3a3a3a" stroke-width="0.6"/>
<line x1="338" y1="468.8" x2="329.4" y2="478.9" stroke="#3a3a3a" stroke-width="0.6"/>
<line x1="338" y1="474.8" x2="329.4" y2="479.8" stroke="#3a3a3a" stroke-width="0.6"/>
<line x1="338" y1="481.4" x2="331.6" y2="485.5" stroke="#3a3a3a" stroke-width="0.6"/>
<line x1="338" y1="487.4" x2="315" y2="488.2" stroke="#3a3a3a" stroke-width="0.6"/>
<text x="339.2" y="445.76" font-size="6.6" fill="#222" stroke="#222" stroke-width="0.14">PFKFB3</text>
<text x="339.2" y="451.36" font-size="6.6" fill="#222" stroke="#222" stroke-width="0.14">PKM</text>
<text x="339.2" y="457.86" font-size="6.6" fill="#222" stroke="#222" stroke-width="0.14">TPI1</text>
<text x="339.2" y="463.86" font-size="6.6" fill="#222" stroke="#222" stroke-width="0.14">ENO2</text>
<text x="339.2" y="470.36" font-size="6.6" fill="#222" stroke="#222" stroke-width="0.14">HK1</text>
<text x="339.2" y="476.36" font-size="6.6" fill="#222" stroke="#222" stroke-width="0.14">PFKL</text>
<text x="339.2" y="482.96" font-size="6.6" fill="#222" stroke="#222" stroke-width="0.14">GPI</text>
<text x="339.2" y="488.96" font-size="6.6" fill="#222" stroke="#222" stroke-width="0.14">PDHA1</text>
<line x1="216.9" y1="390" x2="216.9" y2="491.2" stroke="#2a2a2a" stroke-width="1.3"/>
<line x1="216.3" y1="490.6" x2="354" y2="490.6" stroke="#2a2a2a" stroke-width="1.3"/>
<text x="300.3" y="389.03" font-size="6.8" text-anchor="middle" textLength="26.8" lengthAdjust="spacingAndGlyphs" fill="#222" stroke="#222" stroke-width="0.14">Log2(FC)</text>
<rect x="288.3" y="392.1" width="5.2" height="26.8" fill="url(#lg)"/>
<line x1="293.5" y1="393.2" x2="294.8" y2="393.2" stroke="#555" stroke-width="0.5"/>
<text x="295.2" y="395.56" font-size="6.6" fill="#222" stroke="#222" stroke-width="0.14">0.5</text>
<line x1="293.5" y1="399.2" x2="294.8" y2="399.2" stroke="#555" stroke-width="0.5"/>
<text x="295.2" y="401.56" font-size="6.6" fill="#222" stroke="#222" stroke-width="0.14">0</text>
<line x1="293.5" y1="405.6" x2="294.8" y2="405.6" stroke="#555" stroke-width="0.5"/>
<text x="295.2" y="407.96" font-size="6.6" fill="#222" stroke="#222" stroke-width="0.14">−0.5</text>
<line x1="293.5" y1="411.5" x2="294.8" y2="411.5" stroke="#555" stroke-width="0.5"/>
<text x="295.2" y="413.86" font-size="6.6" fill="#222" stroke="#222" stroke-width="0.14">−1.0</text>
<line x1="293.5" y1="417.3" x2="294.8" y2="417.3" stroke="#555" stroke-width="0.5"/>
<text x="295.2" y="419.66" font-size="6.6" fill="#222" stroke="#222" stroke-width="0.14">−1.5</text>
<text x="339.7" y="390.23" font-size="6.8" text-anchor="middle" textLength="38" lengthAdjust="spacingAndGlyphs" fill="#222" stroke="#222" stroke-width="0.14">negLog(pval)</text>
<circle cx="330.2" cy="395.6" r="0.6" fill="#111"/>
<circle cx="330.2" cy="402.1" r="1.5" fill="#111"/>
<circle cx="330.2" cy="410.8" r="3" fill="#111"/>
<text x="338" y="398.16" font-size="6.6" fill="#222" stroke="#222" stroke-width="0.14">≤ 0.06</text>
<text x="338" y="404.66" font-size="6.6" fill="#222" stroke="#222" stroke-width="0.14">0.35</text>
<text x="338" y="413.36" font-size="6.6" fill="#222" stroke="#222" stroke-width="0.14">2.05</text>
<text x="371" y="356.9" font-size="12.4" font-weight="bold" fill="#111">F</text>
<text x="444.9" y="367.96" font-size="6.6" text-anchor="middle" textLength="46.8" lengthAdjust="spacingAndGlyphs" fill="#222" stroke="#222" stroke-width="0.14">YKL-5-124 (nM)</text>
<text x="416.3" y="378.26" font-size="6.6" text-anchor="middle" fill="#222" stroke="#222" stroke-width="0.14">0</text>
<text x="435.6" y="378.26" font-size="6.6" text-anchor="middle" fill="#222" stroke="#222" stroke-width="0.14">50</text>
<text x="455" y="378.26" font-size="6.6" text-anchor="middle" fill="#222" stroke="#222" stroke-width="0.14">250</text>
<text x="474.2" y="378.26" font-size="6.6" text-anchor="middle" fill="#222" stroke="#222" stroke-width="0.14">500</text>
<rect x="402.9" y="382.3" width="84.7" height="11.2" fill="#ececec" stroke="#5a5a5a" stroke-width="1"/>
<rect x="402.9" y="393.5" width="84.7" height="11.8" fill="#ececec" stroke="#5a5a5a" stroke-width="1"/>
<rect x="408.25" y="386.3" width="14.5" height="3" rx="2.7" ry="1.5" fill="#000" fill-opacity="0.85" filter="url(#bl)"/>
<rect x="408" y="397.7" width="15" height="3.8" rx="3.42" ry="1.9" fill="#000" fill-opacity="1" filter="url(#bl)"/>
<rect x="427.55" y="386.3" width="14.5" height="3" rx="2.7" ry="1.5" fill="#000" fill-opacity="0.32" filter="url(#bl)"/>
<rect x="427.3" y="397.7" width="15" height="3.8" rx="3.42" ry="1.9" fill="#000" fill-opacity="1" filter="url(#bl)"/>
<rect x="446.95" y="386.3" width="14.5" height="3" rx="2.7" ry="1.5" fill="#000" fill-opacity="0.28" filter="url(#bl)"/>
<rect x="446.7" y="397.7" width="15" height="3.8" rx="3.42" ry="1.9" fill="#000" fill-opacity="1" filter="url(#bl)"/>
<rect x="466.15" y="386.3" width="14.5" height="3" rx="2.7" ry="1.5" fill="#000" fill-opacity="0.32" filter="url(#bl)"/>
<rect x="465.9" y="397.7" width="15" height="3.8" rx="3.42" ry="1.9" fill="#000" fill-opacity="1" filter="url(#bl)"/>
<text x="400" y="391.06" font-size="6.6" text-anchor="end" fill="#222" stroke="#222" stroke-width="0.14">HK2</text>
<text x="400" y="402.56" font-size="6.6" text-anchor="end" fill="#222" stroke="#222" stroke-width="0.14">β-actin</text>
<text x="490.3" y="397.26" font-size="6.6" fill="#222" stroke="#222" stroke-width="0.14">H929</text>
<rect x="402.9" y="410.5" width="84.7" height="11.2" fill="#ececec" stroke="#5a5a5a" stroke-width="1"/>
<rect x="402.9" y="421.7" width="84.7" height="11.8" fill="#ececec" stroke="#5a5a5a" stroke-width="1"/>
<rect x="408.25" y="414.5" width="14.5" height="3" rx="2.7" ry="1.5" fill="#000" fill-opacity="1" filter="url(#bl)"/>
<rect x="408" y="425.9" width="15" height="3.8" rx="3.42" ry="1.9" fill="#000" fill-opacity="1" filter="url(#bl)"/>
<rect x="427.55" y="414.5" width="14.5" height="3" rx="2.7" ry="1.5" fill="#000" fill-opacity="0.6" filter="url(#bl)"/>
<rect x="427.3" y="425.9" width="15" height="3.8" rx="3.42" ry="1.9" fill="#000" fill-opacity="1" filter="url(#bl)"/>
<rect x="446.95" y="414.5" width="14.5" height="3" rx="2.7" ry="1.5" fill="#000" fill-opacity="0.38" filter="url(#bl)"/>
<rect x="446.7" y="425.9" width="15" height="3.8" rx="3.42" ry="1.9" fill="#000" fill-opacity="1" filter="url(#bl)"/>
<rect x="466.15" y="414.5" width="14.5" height="3" rx="2.7" ry="1.5" fill="#000" fill-opacity="0.28" filter="url(#bl)"/>
<rect x="465.9" y="425.9" width="15" height="3.8" rx="3.42" ry="1.9" fill="#000" fill-opacity="1" filter="url(#bl)"/>
<text x="400" y="419.26" font-size="6.6" text-anchor="end" fill="#222" stroke="#222" stroke-width="0.14">HK2</text>
<text x="400" y="430.76" font-size="6.6" text-anchor="end" fill="#222" stroke="#222" stroke-width="0.14">β-actin</text>
<text x="490.3" y="425.46" font-size="6.6" fill="#222" stroke="#222" stroke-width="0.14">AMO1</text>
<rect x="402.9" y="438.3" width="84.7" height="11.2" fill="#ececec" stroke="#5a5a5a" stroke-width="1"/>
<rect x="402.9" y="449.5" width="84.7" height="11.8" fill="#ececec" stroke="#5a5a5a" stroke-width="1"/>
<rect x="408.25" y="442.3" width="14.5" height="3" rx="2.7" ry="1.5" fill="#000" fill-opacity="1" filter="url(#bl)"/>
<rect x="408" y="453.7" width="15" height="3.8" rx="3.42" ry="1.9" fill="#000" fill-opacity="0.85" filter="url(#bl)"/>
<rect x="427.55" y="442.3" width="14.5" height="3" rx="2.7" ry="1.5" fill="#000" fill-opacity="0.5" filter="url(#bl)"/>
<rect x="427.3" y="453.7" width="15" height="3.8" rx="3.42" ry="1.9" fill="#000" fill-opacity="1" filter="url(#bl)"/>
<rect x="446.95" y="442.3" width="14.5" height="3" rx="2.7" ry="1.5" fill="#000" fill-opacity="0.6" filter="url(#bl)"/>
<rect x="446.7" y="453.7" width="15" height="3.8" rx="3.42" ry="1.9" fill="#000" fill-opacity="1" filter="url(#bl)"/>
<rect x="466.15" y="442.3" width="14.5" height="3" rx="2.7" ry="1.5" fill="#000" fill-opacity="0.55" filter="url(#bl)"/>
<rect x="465.9" y="453.7" width="15" height="3.8" rx="3.42" ry="1.9" fill="#000" fill-opacity="1" filter="url(#bl)"/>
<text x="400" y="447.06" font-size="6.6" text-anchor="end" fill="#222" stroke="#222" stroke-width="0.14">HK2</text>
<text x="400" y="458.56" font-size="6.6" text-anchor="end" fill="#222" stroke="#222" stroke-width="0.14">β-actin</text>
<text x="490.3" y="453.26" font-size="6.6" fill="#222" stroke="#222" stroke-width="0.14">MOLP8</text>
<rect x="402.9" y="466.5" width="84.7" height="11.2" fill="#ececec" stroke="#5a5a5a" stroke-width="1"/>
<rect x="402.9" y="477.7" width="84.7" height="11.8" fill="#ececec" stroke="#5a5a5a" stroke-width="1"/>
<rect x="408.25" y="470.5" width="14.5" height="3" rx="2.7" ry="1.5" fill="#000" fill-opacity="1" filter="url(#bl)"/>
<rect x="408" y="481.9" width="15" height="3.8" rx="3.42" ry="1.9" fill="#000" fill-opacity="0.95" filter="url(#bl)"/>
<rect x="427.55" y="470.5" width="14.5" height="3" rx="2.7" ry="1.5" fill="#000" fill-opacity="0.55" filter="url(#bl)"/>
<rect x="427.3" y="481.9" width="15" height="3.8" rx="3.42" ry="1.9" fill="#000" fill-opacity="1" filter="url(#bl)"/>
<rect x="446.95" y="470.5" width="14.5" height="3" rx="2.7" ry="1.5" fill="#000" fill-opacity="0.5" filter="url(#bl)"/>
<rect x="446.7" y="481.9" width="15" height="3.8" rx="3.42" ry="1.9" fill="#000" fill-opacity="1" filter="url(#bl)"/>
<rect x="466.15" y="470.5" width="14.5" height="3" rx="2.7" ry="1.5" fill="#000" fill-opacity="0.3" filter="url(#bl)"/>
<rect x="465.9" y="481.9" width="15" height="3.8" rx="3.42" ry="1.9" fill="#000" fill-opacity="1" filter="url(#bl)"/>
<text x="400" y="475.26" font-size="6.6" text-anchor="end" fill="#222" stroke="#222" stroke-width="0.14">HK2</text>
<text x="400" y="486.76" font-size="6.6" text-anchor="end" fill="#222" stroke="#222" stroke-width="0.14">β-actin</text>
<text x="490.3" y="481.46" font-size="6.6" fill="#222" stroke="#222" stroke-width="0.14">MM1S</text>
<rect x="402.9" y="494.5" width="84.7" height="11.2" fill="#ececec" stroke="#5a5a5a" stroke-width="1"/>
<rect x="402.9" y="505.7" width="84.7" height="11.8" fill="#ececec" stroke="#5a5a5a" stroke-width="1"/>
<rect x="408.25" y="498.5" width="14.5" height="3" rx="2.7" ry="1.5" fill="#000" fill-opacity="0.95" filter="url(#bl)"/>
<rect x="408" y="509.9" width="15" height="3.8" rx="3.42" ry="1.9" fill="#000" fill-opacity="1" filter="url(#bl)"/>
<rect x="427.55" y="498.5" width="14.5" height="3" rx="2.7" ry="1.5" fill="#000" fill-opacity="0.7" filter="url(#bl)"/>
<rect x="427.3" y="509.9" width="15" height="3.8" rx="3.42" ry="1.9" fill="#000" fill-opacity="1" filter="url(#bl)"/>
<rect x="446.95" y="498.5" width="14.5" height="3" rx="2.7" ry="1.5" fill="#000" fill-opacity="0.65" filter="url(#bl)"/>
<rect x="446.7" y="509.9" width="15" height="3.8" rx="3.42" ry="1.9" fill="#000" fill-opacity="1" filter="url(#bl)"/>
<rect x="466.15" y="498.5" width="14.5" height="3" rx="2.7" ry="1.5" fill="#000" fill-opacity="0.55" filter="url(#bl)"/>
<rect x="465.9" y="509.9" width="15" height="3.8" rx="3.42" ry="1.9" fill="#000" fill-opacity="1" filter="url(#bl)"/>
<text x="400" y="503.26" font-size="6.6" text-anchor="end" fill="#222" stroke="#222" stroke-width="0.14">HK2</text>
<text x="400" y="514.76" font-size="6.6" text-anchor="end" fill="#222" stroke="#222" stroke-width="0.14">β-actin</text>
<text x="490.3" y="509.46" font-size="6.6" fill="#222" stroke="#222" stroke-width="0.14">OPM2</text>
<text x="7.2" y="538.1" font-size="12.4" font-weight="bold" fill="#111">G</text>
<path d="M50 592.3 L50 591.95 L50.5 591.98 L51 590.6 L51.5 592.19 L52 591.67 L52.5 591.32 L53 590.88 L53.5 590.26 L54 590.18 L54.5 590.33 L55 590.59 L55.5 590.76 L56 590.3 L56.5 590.38 L57 590.21 L57.5 589.66 L58 590.09 L58.5 590 L59 589.57 L59.5 590.18 L60 590.28 L60.5 588.86 L61 590.32 L61.5 589.78 L62 590.93 L62.5 591.2 L63 591.53 L63.5 591.4 L64 589.78 L64.5 591.17 L65 591.13 L65.5 591.04 L66 591.46 L66.5 591.34 L67 589.83 L67.5 591.7 L68 591.47 L68.5 591.66 L69 591.65 L69.5 591.3 L70 591.75 L70.5 591.35 L71 591.21 L71.5 591.21 L72 591.55 L72.5 591.06 L73 591.25 L73.5 590.95 L74 591.38 L74.5 591.71 L75 589.8 L75.5 583.56 L76 581.64 L76.5 576.12 L77 571.39 L77.5 566.73 L78 566.77 L78.5 568.25 L79 577 L79.5 580.01 L80 583.71 L80.5 583.9 L81 585.79 L81.5 586.82 L82 587.45 L82.5 588.6 L83 588.91 L83.5 590.5 L84 591.23 L84.5 590.86 L85 590.63 L85.5 590.36 L86 590.4 L86.5 590.65 L87 591 L87.5 590.84 L88 590.29 L88.5 589.92 L89 590.49 L89.5 590.44 L90 590.23 L90.5 590.11 L91 589.98 L91.5 590.23 L92 590.2 L92.5 589.84 L93 590.78 L93.5 590.11 L94 590.65 L94.5 590.27 L95 590.11 L95.5 591.06 L96 591.4 L96.5 591.02 L97 589.82 L97.5 591.17 L98 591.69 L98.5 590.84 L99 591.19 L99.5 591.41 L100 590.95 L100.5 590.7 L101 591.38 L101.5 591.22 L102 591.33 L102.5 590.75 L103 591.35 L103.5 590.4 L104 590.59 L104.5 590.23 L105 590.18 L105.5 590.95 L106 590.51 L106.5 590.9 L107 591.21 L107.5 591.1 L108 591.46 L108.5 591.17 L109 591.05 L109.5 591.29 L110 590.99 L110.5 591.63 L111 591.4 L111.5 590.95 L112 591.63 L112.5 591.8 L113 591.87 L113.5 591.84 L114 591.51 L114.5 591.11 L115 591.39 L115.5 591.22 L116 591.49 L116.5 591.13 L117 591.48 L117.5 591.27 L118 591.62 L118.5 591.18 L119 591.3 L119.5 591.33 L120 591.16 L120.5 591.38 L121 590.91 L121.5 591.36 L122 591.22 L122.5 591.27 L123 590.43 L123.5 591.28 L124 591.18 L124.5 591.26 L125 591.05 L125.5 590.67 L126 590.59 L126.5 589.94 L127 590 L127.5 590.59 L128 590.15 L128.5 590.18 L129 590.43 L129.5 590.34 L130 589.12 L130.5 588.32 L131 590.11 L131.5 589.89 L132 590.06 L132.5 589.72 L133 590.21 L133.5 590.13 L134 590.05 L134.5 590.39 L135 590.33 L135.5 590.2 L136 590.12 L136.5 590.08 L137 590.32 L137.5 590.23 L138 590.36 L138.5 589.8 L139 590.28 L139.5 590.56 L140 590.05 L140.5 589.92 L141 590.07 L141.5 590.22 L142 590.07 L142.5 590.72 L143 590.64 L143.5 590.59 L144 590.59 L144.5 591 L145 590.41 L145.5 590.51 L146 590.3 L146.5 590.13 L147 589.77 L147.5 590.44 L148 590.12 L148.5 590.01 L149 590.18 L149.5 589.65 L150 590.04 L150.5 589.91 L151 590.04 L151.5 589.79 L152 590.21 L152.5 590.35 L153 589.95 L153.5 590.26 L154 590.41 L154.5 590.13 L155 590.34 L155.5 590.38 L156 590.57 L156.5 591.27 L157 591.26 L157.5 590.77 L158 590.37 L158.5 590.59 L159 590.93 L159.5 590.57 L160 590.7 L160.5 589.97 L161 590.94 L161.5 590.45 L162 591.16 L162.5 591.4 L163 591.46 L163.5 591.02 L164 591.13 L164.5 590.98 L165 591.53 L165.5 591.55 L166 591.23 L166.5 591.46 L167 590.38 L167.5 590.74 L168 591.06 L168.5 591.1 L169 591.18 L169.5 591.1 L170 591.03 L170.5 590.34 L171 590.49 L171.5 591.18 L172 590.67 L172.5 591.34 L173 591.44 L173.5 591.26 L174 591.28 L174.5 589.11 L175 590.81 L175.5 590.28 L176 590.59 L176.5 590.55 L177 590.02 L177.5 590.15 L178 589.84 L178.5 590.1 L179 589.34 L179.5 590.16 L180 590.07 L180.5 590.14 L181 589.89 L181.5 590.05 L182 590.2 L182.5 590.26 L183 590.28 L183.5 590.1 L184 589.47 L184.5 590.37 L185 590.5 L185.5 589.97 L186 588.36 L186.5 590.07 L187 590.3 L187.5 590.24 L188 589.04 L188.5 590.55 L189 590.32 L189.5 590.22 L190 590.01 L190.5 590.02 L191 590.29 L191.5 590.52 L192 589.96 L192.5 589.42 L193 590.1 L193.5 589.43 L194 590.08 L194.5 588.34 L195 589.58 L195.5 590.16 L196 590.07 L196.5 590.57 L197 590.05 L197.5 590.27 L198 590.53 L198.5 590.27 L199 589.96 L199.5 590.12 L200 589.6 L200.5 590.18 L201 590.54 L201.5 590.99 L202 590.26 L202.5 589.67 L203 589.57 L203.5 589.82 L204 590.44 L204.5 590.54 L205 590.47 L205.5 590.74 L206 591.19 L206.5 590.64 L207 591.13 L207.5 590.59 L208 591.65 L208.5 591.09 L209 590.34 L209.5 591.24 L210 590.86 L210.5 591.08 L211 591.57 L211.5 591.9 L212 591.41 L212.5 591.71 L213 591.3 L213.5 591.39 L214 590.91 L214.5 591.3 L215 590.73 L215.5 590.88 L216 590.98 L216.5 590.98 L217 589.36 L217.5 591.18 L218 591.14 L218.5 590.66 L219 590.59 L219.5 590.57 L220 591.08 L220.5 591.22 L221 591.31 L221.5 591.1 L222 591.57 L222.5 590.64 L223 591.23 L223.5 590.82 L224 591.9 L224.5 589.74 L225 591.45 L225.5 591.74 L226 591.77 L226.5 591.66 L227 591.79 L227.5 591.27 L228 591.43 L228.5 591.53 L229 590.46 L229.5 591.47 L230 591.41 L230.5 591.52 L231 591.68 L231.5 591.67 L232 591.2 L232.5 590.93 L233 590.81 L233.5 590.5 L234 590.18 L234.5 590.91 L234.6 592.3 Z" fill="#0a0a0a" stroke="none" stroke-width="1"/>
<line x1="50" y1="592.2" x2="234.6" y2="592.2" stroke="#2a2a2a" stroke-width="0.8"/>
<path d="M42.6 559.8 H45.6 V592.2 H42.6" fill="none" stroke="#2a2a2a" stroke-width="0.9"/>
<text x="39.2" y="563.06" font-size="6.6" text-anchor="end" fill="#333" stroke="#333" stroke-width="0.14">14</text>
<text x="39.6" y="594.46" font-size="6.6" text-anchor="end" fill="#333" stroke="#333" stroke-width="0.14">0</text>
<text x="28.22" y="573.8" font-size="9" text-anchor="middle" textLength="26" lengthAdjust="spacingAndGlyphs" fill="#333" stroke="#333" stroke-width="0.14" transform="rotate(-90 28.22 573.8)">rpm/bp</text>
<text x="44.6" y="602.43" font-size="6.8" text-anchor="end" fill="#333" stroke="#333" stroke-width="0.14">chr2</text>
<line x1="55.7" y1="596.8" x2="55.7" y2="602.6" stroke="#444" stroke-width="0.7"/>
<text x="57" y="602.43" font-size="6.8" textLength="28.6" lengthAdjust="spacingAndGlyphs" fill="#333" stroke="#333" stroke-width="0.14">75055000</text>
<line x1="103.5" y1="596.8" x2="103.5" y2="602.6" stroke="#444" stroke-width="0.7"/>
<text x="104.8" y="602.43" font-size="6.8" textLength="28.6" lengthAdjust="spacingAndGlyphs" fill="#333" stroke="#333" stroke-width="0.14">75071000</text>
<line x1="151.3" y1="596.8" x2="151.3" y2="602.6" stroke="#444" stroke-width="0.7"/>
<text x="152.6" y="602.43" font-size="6.8" textLength="28.6" lengthAdjust="spacingAndGlyphs" fill="#333" stroke="#333" stroke-width="0.14">75087000</text>
<line x1="197" y1="596.8" x2="197" y2="602.6" stroke="#444" stroke-width="0.7"/>
<text x="198.3" y="602.43" font-size="6.8" textLength="28.6" lengthAdjust="spacingAndGlyphs" fill="#333" stroke="#333" stroke-width="0.14">75103000</text>
<text x="73.2" y="611.66" font-size="6.6" text-anchor="end" fill="#333" stroke="#333" stroke-width="0.14">HK2</text>
<rect x="75.2" y="608.3" width="157.8" height="2.2" fill="#3270b0"/>
<path d="M76.7 608.3 L76 609.4 L76.7 610.5 M78.05 608.3 L77.35 609.4 L78.05 610.5 M79.4 608.3 L78.7 609.4 L79.4 610.5 M80.75 608.3 L80.05 609.4 L80.75 610.5 M82.1 608.3 L81.4 609.4 L82.1 610.5 M83.45 608.3 L82.75 609.4 L83.45 610.5 M84.8 608.3 L84.1 609.4 L84.8 610.5 M86.15 608.3 L85.45 609.4 L86.15 610.5 M87.5 608.3 L86.8 609.4 L87.5 610.5 M88.85 608.3 L88.15 609.4 L88.85 610.5 M90.2 608.3 L89.5 609.4 L90.2 610.5 M91.55 608.3 L90.85 609.4 L91.55 610.5 M92.9 608.3 L92.2 609.4 L92.9 610.5 M94.25 608.3 L93.55 609.4 L94.25 610.5 M95.6 608.3 L94.9 609.4 L95.6 610.5 M96.95 608.3 L96.25 609.4 L96.95 610.5 M98.3 608.3 L97.6 609.4 L98.3 610.5 M99.65 608.3 L98.95 609.4 L99.65 610.5 M101 608.3 L100.3 609.4 L101 610.5 M102.35 608.3 L101.65 609.4 L102.35 610.5 M103.7 608.3 L103 609.4 L103.7 610.5 M105.05 608.3 L104.35 609.4 L105.05 610.5 M106.4 608.3 L105.7 609.4 L106.4 610.5 M107.75 608.3 L107.05 609.4 L107.75 610.5 M109.1 608.3 L108.4 609.4 L109.1 610.5 M110.45 608.3 L109.75 609.4 L110.45 610.5 M111.8 608.3 L111.1 609.4 L111.8 610.5 M113.15 608.3 L112.45 609.4 L113.15 610.5 M114.5 608.3 L113.8 609.4 L114.5 610.5 M115.85 608.3 L115.15 609.4 L115.85 610.5 M117.2 608.3 L116.5 609.4 L117.2 610.5 M118.55 608.3 L117.85 609.4 L118.55 610.5 M119.9 608.3 L119.2 609.4 L119.9 610.5 M121.25 608.3 L120.55 609.4 L121.25 610.5 M122.6 608.3 L121.9 609.4 L122.6 610.5 M123.95 608.3 L123.25 609.4 L123.95 610.5 M125.3 608.3 L124.6 609.4 L125.3 610.5 M126.65 608.3 L125.95 609.4 L126.65 610.5 M128 608.3 L127.3 609.4 L128 610.5 M129.35 608.3 L128.65 609.4 L129.35 610.5 M130.7 608.3 L130 609.4 L130.7 610.5 M132.05 608.3 L131.35 609.4 L132.05 610.5 M133.4 608.3 L132.7 609.4 L133.4 610.5 M134.75 608.3 L134.05 609.4 L134.75 610.5 M136.1 608.3 L135.4 609.4 L136.1 610.5 M137.45 608.3 L136.75 609.4 L137.45 610.5 M138.8 608.3 L138.1 609.4 L138.8 610.5 M140.15 608.3 L139.45 609.4 L140.15 610.5 M141.5 608.3 L140.8 609.4 L141.5 610.5 M142.85 608.3 L142.15 609.4 L142.85 610.5 M144.2 608.3 L143.5 609.4 L144.2 610.5 M145.55 608.3 L144.85 609.4 L145.55 610.5 M146.9 608.3 L146.2 609.4 L146.9 610.5 M148.25 608.3 L147.55 609.4 L148.25 610.5 M149.6 608.3 L148.9 609.4 L149.6 610.5 M150.95 608.3 L150.25 609.4 L150.95 610.5 M152.3 608.3 L151.6 609.4 L152.3 610.5 M153.65 608.3 L152.95 609.4 L153.65 610.5 M155 608.3 L154.3 609.4 L155 610.5 M156.35 608.3 L155.65 609.4 L156.35 610.5 M157.7 608.3 L157 609.4 L157.7 610.5 M159.05 608.3 L158.35 609.4 L159.05 610.5 M160.4 608.3 L159.7 609.4 L160.4 610.5 M161.75 608.3 L161.05 609.4 L161.75 610.5 M163.1 608.3 L162.4 609.4 L163.1 610.5 M164.45 608.3 L163.75 609.4 L164.45 610.5 M165.8 608.3 L165.1 609.4 L165.8 610.5 M167.15 608.3 L166.45 609.4 L167.15 610.5 M168.5 608.3 L167.8 609.4 L168.5 610.5 M169.85 608.3 L169.15 609.4 L169.85 610.5 M171.2 608.3 L170.5 609.4 L171.2 610.5 M172.55 608.3 L171.85 609.4 L172.55 610.5 M173.9 608.3 L173.2 609.4 L173.9 610.5 M175.25 608.3 L174.55 609.4 L175.25 610.5 M176.6 608.3 L175.9 609.4 L176.6 610.5 M177.95 608.3 L177.25 609.4 L177.95 610.5 M179.3 608.3 L178.6 609.4 L179.3 610.5 M180.65 608.3 L179.95 609.4 L180.65 610.5 M182 608.3 L181.3 609.4 L182 610.5 M183.35 608.3 L182.65 609.4 L183.35 610.5 M184.7 608.3 L184 609.4 L184.7 610.5 M186.05 608.3 L185.35 609.4 L186.05 610.5 M187.4 608.3 L186.7 609.4 L187.4 610.5 M188.75 608.3 L188.05 609.4 L188.75 610.5 M190.1 608.3 L189.4 609.4 L190.1 610.5 M191.45 608.3 L190.75 609.4 L191.45 610.5 M192.8 608.3 L192.1 609.4 L192.8 610.5 M194.15 608.3 L193.45 609.4 L194.15 610.5 M195.5 608.3 L194.8 609.4 L195.5 610.5 M196.85 608.3 L196.15 609.4 L196.85 610.5 M198.2 608.3 L197.5 609.4 L198.2 610.5 M199.55 608.3 L198.85 609.4 L199.55 610.5 M200.9 608.3 L200.2 609.4 L200.9 610.5 M202.25 608.3 L201.55 609.4 L202.25 610.5 M203.6 608.3 L202.9 609.4 L203.6 610.5 M204.95 608.3 L204.25 609.4 L204.95 610.5 M206.3 608.3 L205.6 609.4 L206.3 610.5 M207.65 608.3 L206.95 609.4 L207.65 610.5 M209 608.3 L208.3 609.4 L209 610.5 M210.35 608.3 L209.65 609.4 L210.35 610.5 M211.7 608.3 L211 609.4 L211.7 610.5 M213.05 608.3 L212.35 609.4 L213.05 610.5 M214.4 608.3 L213.7 609.4 L214.4 610.5 M215.75 608.3 L215.05 609.4 L215.75 610.5 M217.1 608.3 L216.4 609.4 L217.1 610.5 M218.45 608.3 L217.75 609.4 L218.45 610.5 M219.8 608.3 L219.1 609.4 L219.8 610.5 M221.15 608.3 L220.45 609.4 L221.15 610.5 M222.5 608.3 L221.8 609.4 L222.5 610.5 M223.85 608.3 L223.15 609.4 L223.85 610.5 M225.2 608.3 L224.5 609.4 L225.2 610.5 M226.55 608.3 L225.85 609.4 L226.55 610.5 M227.9 608.3 L227.2 609.4 L227.9 610.5 M229.25 608.3 L228.55 609.4 L229.25 610.5 M230.6 608.3 L229.9 609.4 L230.6 610.5 M231.95 608.3 L231.25 609.4 L231.95 610.5" fill="none" stroke="#0a1e3a" stroke-width="0.6"/>
<rect x="75.05" y="607.6" width="1.1" height="3.6" fill="#0a1626"/>
<rect x="123.95" y="607.6" width="1.1" height="3.6" fill="#0a1626"/>
<rect x="184.45" y="607.6" width="1.1" height="3.6" fill="#0a1626"/>
<rect x="190.95" y="607.6" width="1.1" height="3.6" fill="#0a1626"/>
<rect x="196.45" y="607.6" width="1.1" height="3.6" fill="#0a1626"/>
<rect x="204.45" y="607.6" width="1.1" height="3.6" fill="#0a1626"/>
<rect x="213.95" y="607.6" width="1.1" height="3.6" fill="#0a1626"/>
<rect x="220.45" y="607.6" width="1.1" height="3.6" fill="#0a1626"/>
<rect x="223.45" y="607.6" width="1.1" height="3.6" fill="#0a1626"/>
<rect x="231.05" y="607.6" width="1.1" height="3.6" fill="#0a1626"/>
<path d="M48.5 654.7 L48.5 653.83 L49 653.79 L49.5 651.83 L50 649.27 L50.5 648.82 L51 651.66 L51.5 652.55 L52 651.89 L52.5 652.12 L53 651.81 L53.5 651.51 L54 651.82 L54.5 652.33 L55 653.06 L55.5 653.24 L56 652.03 L56.5 652.99 L57 652.96 L57.5 653.36 L58 653.62 L58.5 653.07 L59 653.08 L59.5 653.41 L60 653.01 L60.5 653.41 L61 653.12 L61.5 653.01 L62 652.67 L62.5 652.68 L63 651.26 L63.5 650.46 L64 649.55 L64.5 650.06 L65 650.25 L65.5 651.22 L66 651.2 L66.5 650.69 L67 650.51 L67.5 651.44 L68 649.82 L68.5 646.48 L69 645.89 L69.5 642.46 L70 642.98 L70.5 642.24 L71 642.13 L71.5 642.91 L72 642.44 L72.5 643.65 L73 644.93 L73.5 644.43 L74 645.06 L74.5 643.34 L75 642.72 L75.5 642.19 L76 639.02 L76.5 640.7 L77 640.72 L77.5 642.5 L78 642.89 L78.5 638.89 L79 640.11 L79.5 635.23 L80 634.95 L80.5 632.42 L81 628.67 L81.5 631.54 L82 631.82 L82.5 633.88 L83 634.87 L83.5 634.02 L84 635.2 L84.5 633.47 L85 634.8 L85.5 635.61 L86 635.64 L86.5 639.37 L87 642.35 L87.5 641.24 L88 640.55 L88.5 641.31 L89 638.74 L89.5 638.55 L90 640.15 L90.5 640.07 L91 641.21 L91.5 643.16 L92 644.63 L92.5 650.25 L93 652.8 L93.5 652.64 L94 652.29 L94.5 652.86 L95 652.68 L95.5 652.44 L96 650.78 L96.5 648.61 L97 649.9 L97.5 650.17 L98 651.31 L98.5 652.65 L99 651.95 L99.5 649.7 L100 650.51 L100.5 651.32 L101 651.16 L101.5 651.26 L102 651.37 L102.5 650.11 L103 651.87 L103.5 650.36 L104 651.2 L104.5 651.23 L105 651.78 L105.5 651.1 L106 651.32 L106.5 651.12 L107 651.4 L107.5 651.49 L108 650.67 L108.5 650.98 L109 651.03 L109.5 649.98 L110 651.71 L110.5 651.6 L111 652.03 L111.5 650.16 L112 652.8 L112.5 653.35 L113 653.53 L113.5 653.26 L114 653.37 L114.5 653.01 L115 653.54 L115.5 653.69 L116 653.3 L116.5 653.67 L117 652.85 L117.5 653.23 L118 652.22 L118.5 652.47 L119 651.96 L119.5 652.53 L120 652.55 L120.5 652.99 L121 653.29 L121.5 652.62 L122 651.44 L122.5 651.93 L123 652.28 L123.5 651.33 L124 652.43 L124.5 652.51 L125 651.9 L125.5 652.06 L126 651.59 L126.5 651.75 L127 652.45 L127.5 651.96 L128 652.06 L128.5 652.05 L129 652.83 L129.5 652.8 L130 652.46 L130.5 652.43 L131 652.63 L131.5 651.54 L132 651.64 L132.5 651.18 L133 651.48 L133.5 651.07 L134 651.03 L134.5 649.65 L135 651.88 L135.5 651.71 L136 651.26 L136.5 651.59 L137 651.33 L137.5 651.18 L138 651.27 L138.5 650.96 L139 651.51 L139.5 650.87 L140 651.02 L140.5 650.95 L141 651.32 L141.5 651.59 L142 651.33 L142.5 652.31 L143 652.11 L143.5 651.71 L144 652.12 L144.5 652.74 L145 651.71 L145.5 651.84 L146 651.38 L146.5 651.82 L147 651.76 L147.5 650.97 L148 651.28 L148.5 651.95 L149 652.26 L149.5 651.21 L150 651.34 L150.5 652.67 L151 652.22 L151.5 651.99 L152 652.71 L152.5 652.67 L153 652.44 L153.5 652.93 L154 653.11 L154.5 652.51 L155 652.61 L155.5 652.16 L156 652.45 L156.5 651.93 L157 652.79 L157.5 652.81 L158 652.74 L158.5 653.02 L159 652.65 L159.5 652.98 L160 652.68 L160.5 652.79 L161 651.9 L161.5 652.54 L162 652.81 L162.5 653.06 L163 653.41 L163.5 652.42 L164 653.35 L164.5 653.4 L165 653.29 L165.5 653.76 L166 653.14 L166.5 652.4 L167 653.43 L167.5 653.25 L168 652.62 L168.5 651.57 L169 652.28 L169.5 651.83 L170 652.94 L170.5 653.6 L171 653.58 L171.5 653.09 L172 653.06 L172.5 653.6 L173 653.44 L173.5 653.62 L174 653.57 L174.5 653.05 L175 653.72 L175.5 653.79 L176 653.69 L176.5 653.61 L177 652.84 L177.5 652.82 L178 652.6 L178.5 653.16 L179 653.1 L179.5 653.15 L180 652.63 L180.5 651.32 L181 651.06 L181.5 651.58 L182 650.52 L182.5 650.6 L183 651.28 L183.5 651.35 L184 651.67 L184.5 651.58 L185 651.47 L185.5 651.36 L186 651.3 L186.5 650.8 L187 651.66 L187.5 650.84 L188 651.35 L188.5 650.6 L189 652.04 L189.5 652.3 L190 652.11 L190.5 653.34 L191 653.08 L191.5 653.2 L192 652.32 L192.5 652.5 L193 653.23 L193.5 651.6 L194 653.64 L194.5 653.11 L195 653.05 L195.5 653.01 L196 653.63 L196.5 653.47 L197 653.44 L197.5 652.21 L198 651.95 L198.5 653.28 L199 652.73 L199.5 653.06 L200 652.73 L200.5 652.55 L201 652.45 L201.5 653.46 L202 652.88 L202.5 653.6 L203 653.42 L203.5 653.76 L204 653.75 L204.5 652.8 L205 652.99 L205.5 653.09 L206 652.25 L206.5 651.19 L207 649.75 L207.5 651.13 L208 651.67 L208.5 651.56 L209 651.33 L209.5 651.49 L210 651.36 L210.5 651.63 L211 651.64 L211.5 651.56 L212 651.47 L212.5 650.77 L213 651.24 L213.5 651.76 L214 651.6 L214.5 652.16 L215 652.16 L215.5 651.62 L216 652.05 L216.5 651.67 L217 651.89 L217.5 651.83 L218 651.14 L218.5 651.73 L219 651.67 L219.5 651.99 L220 651.65 L220.5 651.4 L221 651.57 L221.5 649.76 L222 651.11 L222.5 651.53 L223 651.67 L223.5 651.55 L224 651.83 L224.5 652.3 L225 652.61 L225.5 652.04 L226 652.38 L226.5 652.79 L227 651.81 L227.5 653.13 L228 652.3 L228.5 652.17 L229 653.19 L229.5 653.22 L230 651.44 L230.5 653.18 L231 653.19 L231.5 652.69 L232 652.44 L232.5 653.15 L233 653.09 L233.5 652.92 L234 653.02 L234.5 652.79 L235 652.74 L235.2 654.7 Z" fill="#0a0a0a" stroke="none" stroke-width="1"/>
<line x1="48.5" y1="654.5" x2="235.2" y2="654.5" stroke="#2a2a2a" stroke-width="0.8"/>
<path d="M42.2 620 H45.2 V654.4 H42.2" fill="none" stroke="#2a2a2a" stroke-width="0.9"/>
<text x="39.4" y="622.86" font-size="6.6" text-anchor="end" fill="#333" stroke="#333" stroke-width="0.14">10</text>
<text x="39.6" y="656.66" font-size="6.6" text-anchor="end" fill="#333" stroke="#333" stroke-width="0.14">0</text>
<text x="28.22" y="637.8" font-size="9" text-anchor="middle" textLength="25" lengthAdjust="spacingAndGlyphs" fill="#333" stroke="#333" stroke-width="0.14" transform="rotate(-90 28.22 637.8)">rpm/bp</text>
<text x="44.6" y="664.83" font-size="6.8" text-anchor="end" textLength="16" lengthAdjust="spacingAndGlyphs" fill="#333" stroke="#333" stroke-width="0.14">chr11</text>
<line x1="61.5" y1="659.2" x2="61.5" y2="665.2" stroke="#444" stroke-width="0.7"/>
<text x="62.8" y="664.83" font-size="6.8" textLength="28.6" lengthAdjust="spacingAndGlyphs" fill="#333" stroke="#333" stroke-width="0.14">18414000</text>
<line x1="114.9" y1="659.2" x2="114.9" y2="665.2" stroke="#444" stroke-width="0.7"/>
<text x="116.2" y="664.83" font-size="6.8" textLength="28.6" lengthAdjust="spacingAndGlyphs" fill="#333" stroke="#333" stroke-width="0.14">18420000</text>
<line x1="169.7" y1="659.2" x2="169.7" y2="665.2" stroke="#444" stroke-width="0.7"/>
<text x="171" y="664.83" font-size="6.8" textLength="28.6" lengthAdjust="spacingAndGlyphs" fill="#333" stroke="#333" stroke-width="0.14">18426000</text>
<text x="78.4" y="674.86" font-size="6.6" text-anchor="end" fill="#333" stroke="#333" stroke-width="0.14">LDHA</text>
<rect x="79.6" y="671.4" width="124.9" height="2.2" fill="#3270b0"/>
<path d="M81.1 671.4 L80.4 672.5 L81.1 673.6 M82.45 671.4 L81.75 672.5 L82.45 673.6 M83.8 671.4 L83.1 672.5 L83.8 673.6 M85.15 671.4 L84.45 672.5 L85.15 673.6 M86.5 671.4 L85.8 672.5 L86.5 673.6 M87.85 671.4 L87.15 672.5 L87.85 673.6 M89.2 671.4 L88.5 672.5 L89.2 673.6 M90.55 671.4 L89.85 672.5 L90.55 673.6 M91.9 671.4 L91.2 672.5 L91.9 673.6 M93.25 671.4 L92.55 672.5 L93.25 673.6 M94.6 671.4 L93.9 672.5 L94.6 673.6 M95.95 671.4 L95.25 672.5 L95.95 673.6 M97.3 671.4 L96.6 672.5 L97.3 673.6 M98.65 671.4 L97.95 672.5 L98.65 673.6 M100 671.4 L99.3 672.5 L100 673.6 M101.35 671.4 L100.65 672.5 L101.35 673.6 M102.7 671.4 L102 672.5 L102.7 673.6 M104.05 671.4 L103.35 672.5 L104.05 673.6 M105.4 671.4 L104.7 672.5 L105.4 673.6 M106.75 671.4 L106.05 672.5 L106.75 673.6 M108.1 671.4 L107.4 672.5 L108.1 673.6 M109.45 671.4 L108.75 672.5 L109.45 673.6 M110.8 671.4 L110.1 672.5 L110.8 673.6 M112.15 671.4 L111.45 672.5 L112.15 673.6 M113.5 671.4 L112.8 672.5 L113.5 673.6 M114.85 671.4 L114.15 672.5 L114.85 673.6 M116.2 671.4 L115.5 672.5 L116.2 673.6 M117.55 671.4 L116.85 672.5 L117.55 673.6 M118.9 671.4 L118.2 672.5 L118.9 673.6 M120.25 671.4 L119.55 672.5 L120.25 673.6 M121.6 671.4 L120.9 672.5 L121.6 673.6 M122.95 671.4 L122.25 672.5 L122.95 673.6 M124.3 671.4 L123.6 672.5 L124.3 673.6 M125.65 671.4 L124.95 672.5 L125.65 673.6 M127 671.4 L126.3 672.5 L127 673.6 M128.35 671.4 L127.65 672.5 L128.35 673.6 M129.7 671.4 L129 672.5 L129.7 673.6 M131.05 671.4 L130.35 672.5 L131.05 673.6 M132.4 671.4 L131.7 672.5 L132.4 673.6 M133.75 671.4 L133.05 672.5 L133.75 673.6 M135.1 671.4 L134.4 672.5 L135.1 673.6 M136.45 671.4 L135.75 672.5 L136.45 673.6 M137.8 671.4 L137.1 672.5 L137.8 673.6 M139.15 671.4 L138.45 672.5 L139.15 673.6 M140.5 671.4 L139.8 672.5 L140.5 673.6 M141.85 671.4 L141.15 672.5 L141.85 673.6 M143.2 671.4 L142.5 672.5 L143.2 673.6 M144.55 671.4 L143.85 672.5 L144.55 673.6 M145.9 671.4 L145.2 672.5 L145.9 673.6 M147.25 671.4 L146.55 672.5 L147.25 673.6 M148.6 671.4 L147.9 672.5 L148.6 673.6 M149.95 671.4 L149.25 672.5 L149.95 673.6 M151.3 671.4 L150.6 672.5 L151.3 673.6 M152.65 671.4 L151.95 672.5 L152.65 673.6 M154 671.4 L153.3 672.5 L154 673.6 M155.35 671.4 L154.65 672.5 L155.35 673.6 M156.7 671.4 L156 672.5 L156.7 673.6 M158.05 671.4 L157.35 672.5 L158.05 673.6 M159.4 671.4 L158.7 672.5 L159.4 673.6 M160.75 671.4 L160.05 672.5 L160.75 673.6 M162.1 671.4 L161.4 672.5 L162.1 673.6 M163.45 671.4 L162.75 672.5 L163.45 673.6 M164.8 671.4 L164.1 672.5 L164.8 673.6 M166.15 671.4 L165.45 672.5 L166.15 673.6 M167.5 671.4 L166.8 672.5 L167.5 673.6 M168.85 671.4 L168.15 672.5 L168.85 673.6 M170.2 671.4 L169.5 672.5 L170.2 673.6 M171.55 671.4 L170.85 672.5 L171.55 673.6 M172.9 671.4 L172.2 672.5 L172.9 673.6 M174.25 671.4 L173.55 672.5 L174.25 673.6 M175.6 671.4 L174.9 672.5 L175.6 673.6 M176.95 671.4 L176.25 672.5 L176.95 673.6 M178.3 671.4 L177.6 672.5 L178.3 673.6 M179.65 671.4 L178.95 672.5 L179.65 673.6 M181 671.4 L180.3 672.5 L181 673.6 M182.35 671.4 L181.65 672.5 L182.35 673.6 M183.7 671.4 L183 672.5 L183.7 673.6 M185.05 671.4 L184.35 672.5 L185.05 673.6 M186.4 671.4 L185.7 672.5 L186.4 673.6 M187.75 671.4 L187.05 672.5 L187.75 673.6 M189.1 671.4 L188.4 672.5 L189.1 673.6 M190.45 671.4 L189.75 672.5 L190.45 673.6 M191.8 671.4 L191.1 672.5 L191.8 673.6 M193.15 671.4 L192.45 672.5 L193.15 673.6 M194.5 671.4 L193.8 672.5 L194.5 673.6 M195.85 671.4 L195.15 672.5 L195.85 673.6 M197.2 671.4 L196.5 672.5 L197.2 673.6 M198.55 671.4 L197.85 672.5 L198.55 673.6 M199.9 671.4 L199.2 672.5 L199.9 673.6 M201.25 671.4 L200.55 672.5 L201.25 673.6 M202.6 671.4 L201.9 672.5 L202.6 673.6 M203.95 671.4 L203.25 672.5 L203.95 673.6" fill="none" stroke="#0a1e3a" stroke-width="0.6"/>
<rect x="79.65" y="670.7" width="1.1" height="3.6" fill="#0a1626"/>
<rect x="101.75" y="670.7" width="1.1" height="3.6" fill="#0a1626"/>
<rect x="138.05" y="670.7" width="1.1" height="3.6" fill="#0a1626"/>
<rect x="155.45" y="670.7" width="1.1" height="3.6" fill="#0a1626"/>
<rect x="163.25" y="670.7" width="1.1" height="3.6" fill="#0a1626"/>
<rect x="178.65" y="670.7" width="1.1" height="3.6" fill="#0a1626"/>
<rect x="194.6" y="670.6" width="9.9" height="3.8" fill="#0a0a0a"/>
<text x="248" y="538.1" font-size="12.4" font-weight="bold" fill="#111">H</text>
<line x1="285.3" y1="576.3" x2="285.3" y2="646.1" stroke="#2a2a2a" stroke-width="1.3"/>
<line x1="284.7" y1="645.5" x2="378.6" y2="645.5" stroke="#2a2a2a" stroke-width="1.3"/>
<line x1="282.5" y1="645.5" x2="285.3" y2="645.5" stroke="#2a2a2a" stroke-width="1"/>
<text x="280" y="647.86" font-size="6.6" text-anchor="end" fill="#333" stroke="#333" stroke-width="0.14">0.0</text>
<line x1="283.8" y1="642.84" x2="285.3" y2="642.84" stroke="#2a2a2a" stroke-width="0.7"/>
<line x1="283.8" y1="640.18" x2="285.3" y2="640.18" stroke="#2a2a2a" stroke-width="0.7"/>
<line x1="283.8" y1="637.52" x2="285.3" y2="637.52" stroke="#2a2a2a" stroke-width="0.7"/>
<line x1="283.8" y1="634.86" x2="285.3" y2="634.86" stroke="#2a2a2a" stroke-width="0.7"/>
<line x1="282.5" y1="632.2" x2="285.3" y2="632.2" stroke="#2a2a2a" stroke-width="1"/>
<text x="280" y="634.56" font-size="6.6" text-anchor="end" fill="#333" stroke="#333" stroke-width="0.14">0.5</text>
<line x1="283.8" y1="629.54" x2="285.3" y2="629.54" stroke="#2a2a2a" stroke-width="0.7"/>
<line x1="283.8" y1="626.88" x2="285.3" y2="626.88" stroke="#2a2a2a" stroke-width="0.7"/>
<line x1="283.8" y1="624.22" x2="285.3" y2="624.22" stroke="#2a2a2a" stroke-width="0.7"/>
<line x1="283.8" y1="621.56" x2="285.3" y2="621.56" stroke="#2a2a2a" stroke-width="0.7"/>
<line x1="282.5" y1="618.9" x2="285.3" y2="618.9" stroke="#2a2a2a" stroke-width="1"/>
<text x="280" y="621.26" font-size="6.6" text-anchor="end" fill="#333" stroke="#333" stroke-width="0.14">1.0</text>
<line x1="283.8" y1="616.24" x2="285.3" y2="616.24" stroke="#2a2a2a" stroke-width="0.7"/>
<line x1="283.8" y1="613.58" x2="285.3" y2="613.58" stroke="#2a2a2a" stroke-width="0.7"/>
<line x1="283.8" y1="610.92" x2="285.3" y2="610.92" stroke="#2a2a2a" stroke-width="0.7"/>
<line x1="283.8" y1="608.26" x2="285.3" y2="608.26" stroke="#2a2a2a" stroke-width="0.7"/>
<line x1="282.5" y1="605.6" x2="285.3" y2="605.6" stroke="#2a2a2a" stroke-width="1"/>
<text x="280" y="607.96" font-size="6.6" text-anchor="end" fill="#333" stroke="#333" stroke-width="0.14">1.5</text>
<line x1="283.8" y1="602.94" x2="285.3" y2="602.94" stroke="#2a2a2a" stroke-width="0.7"/>
<line x1="283.8" y1="600.28" x2="285.3" y2="600.28" stroke="#2a2a2a" stroke-width="0.7"/>
<line x1="283.8" y1="597.62" x2="285.3" y2="597.62" stroke="#2a2a2a" stroke-width="0.7"/>
<line x1="283.8" y1="594.96" x2="285.3" y2="594.96" stroke="#2a2a2a" stroke-width="0.7"/>
<line x1="282.5" y1="592.3" x2="285.3" y2="592.3" stroke="#2a2a2a" stroke-width="1"/>
<text x="280" y="594.66" font-size="6.6" text-anchor="end" fill="#333" stroke="#333" stroke-width="0.14">2.0</text>
<line x1="283.8" y1="589.64" x2="285.3" y2="589.64" stroke="#2a2a2a" stroke-width="0.7"/>
<line x1="283.8" y1="586.98" x2="285.3" y2="586.98" stroke="#2a2a2a" stroke-width="0.7"/>
<line x1="283.8" y1="584.32" x2="285.3" y2="584.32" stroke="#2a2a2a" stroke-width="0.7"/>
<line x1="283.8" y1="581.66" x2="285.3" y2="581.66" stroke="#2a2a2a" stroke-width="0.7"/>
<line x1="282.5" y1="579" x2="285.3" y2="579" stroke="#2a2a2a" stroke-width="1"/>
<text x="280" y="581.36" font-size="6.6" text-anchor="end" fill="#333" stroke="#333" stroke-width="0.14">2.5</text>
<rect x="291.2" y="643.6" width="12.3" height="1.9" fill="#c30f2c"/>
<rect x="303.5" y="643.2" width="12.7" height="2.3" fill="#2fa3dc"/>
<rect x="322" y="601.7" width="12.8" height="43.8" fill="#c30f2c"/>
<line x1="328.4" y1="601.7" x2="328.4" y2="599.2" stroke="#7a2030" stroke-width="0.8"/>
<line x1="325.9" y1="599.2" x2="330.9" y2="599.2" stroke="#7a2030" stroke-width="0.8"/>
<rect x="334.8" y="629.6" width="13.1" height="15.9" fill="#2fa3dc"/>
<rect x="352.1" y="616.9" width="12.9" height="28.6" fill="#c30f2c"/>
<line x1="358.55" y1="616.9" x2="358.55" y2="614" stroke="#7a2030" stroke-width="0.8"/>
<line x1="356.05" y1="614" x2="361.05" y2="614" stroke="#7a2030" stroke-width="0.8"/>
<rect x="365" y="637.7" width="13" height="7.8" fill="#2fa3dc"/>
<line x1="304" y1="645.5" x2="304" y2="647.8" stroke="#2a2a2a" stroke-width="0.9"/>
<line x1="334.8" y1="645.5" x2="334.8" y2="647.8" stroke="#2a2a2a" stroke-width="0.9"/>
<line x1="365" y1="645.5" x2="365" y2="647.8" stroke="#2a2a2a" stroke-width="0.9"/>
<text x="304.4" y="657.56" font-size="6.6" text-anchor="middle" fill="#333" stroke="#333" stroke-width="0.14">NEG</text>
<text x="333.9" y="657.56" font-size="6.6" text-anchor="middle" fill="#333" stroke="#333" stroke-width="0.14">HK2</text>
<text x="364.8" y="657.56" font-size="6.6" text-anchor="middle" fill="#333" stroke="#333" stroke-width="0.14">LDHA</text>
<path d="M297 597.0 V594.9 H312.3 V597.0" fill="none" stroke="#383838" stroke-width="0.95"/>
<text x="304.65" y="593.91" font-size="7" text-anchor="middle" fill="#333" stroke="#333" stroke-width="0.14">ns</text>
<path d="M328.3 597.0 V594.9 H341.7 V597.0" fill="none" stroke="#383838" stroke-width="0.95"/>
<circle cx="330.35" cy="591.2" r="0.85" fill="#2a2a2a"/>
<circle cx="333.45" cy="591.2" r="0.85" fill="#2a2a2a"/>
<circle cx="336.55" cy="591.2" r="0.85" fill="#2a2a2a"/>
<circle cx="339.65" cy="591.2" r="0.85" fill="#2a2a2a"/>
<path d="M357.5 597.0 V594.9 H372.5 V597.0" fill="none" stroke="#383838" stroke-width="0.95"/>
<circle cx="360.35" cy="591.2" r="0.85" fill="#2a2a2a"/>
<circle cx="363.45" cy="591.2" r="0.85" fill="#2a2a2a"/>
<circle cx="366.55" cy="591.2" r="0.85" fill="#2a2a2a"/>
<circle cx="369.65" cy="591.2" r="0.85" fill="#2a2a2a"/>
<rect x="290" y="570.9" width="6.2" height="2.2" fill="#c30f2c"/>
<text x="298.5" y="574.46" font-size="6.6" textLength="20" lengthAdjust="spacingAndGlyphs" fill="#333" stroke="#333" stroke-width="0.14">DMSO</text>
<rect x="290" y="579.6" width="6.2" height="2.2" fill="#2fa3dc"/>
<text x="298.5" y="583.16" font-size="6.6" textLength="29.2" lengthAdjust="spacingAndGlyphs" fill="#333" stroke="#333" stroke-width="0.14">YKL-5-124</text>
<text x="264.64" y="610.4" font-size="8.2" text-anchor="middle" textLength="23.3" lengthAdjust="spacingAndGlyphs" fill="#333" stroke="#333" stroke-width="0.14" transform="rotate(-90 264.64 610.4)">% input</text>
<rect x="432" y="587.1" width="10.6" height="58.8" fill="#c8102e"/>
<line x1="437.3" y1="645.9" x2="437.3" y2="648.3" stroke="#2a2a2a" stroke-width="0.9"/>
<rect x="445" y="616" width="10" height="29.9" fill="#29a3dd"/>
<line x1="450" y1="616" x2="450" y2="603" stroke="#8a8a8a" stroke-width="0.9"/>
<line x1="447.7" y1="603" x2="452.3" y2="603" stroke="#8a8a8a" stroke-width="0.9"/>
<line x1="450" y1="645.9" x2="450" y2="648.3" stroke="#2a2a2a" stroke-width="0.9"/>
<rect x="457.1" y="620" width="10.4" height="25.9" fill="#3aa53c"/>
<line x1="462.3" y1="620" x2="462.3" y2="611.3" stroke="#8a8a8a" stroke-width="0.9"/>
<line x1="460" y1="611.3" x2="464.6" y2="611.3" stroke="#8a8a8a" stroke-width="0.9"/>
<line x1="462.3" y1="645.9" x2="462.3" y2="648.3" stroke="#2a2a2a" stroke-width="0.9"/>
<rect x="470" y="628" width="10" height="17.9" fill="#17664c"/>
<line x1="475" y1="628" x2="475" y2="621" stroke="#8a8a8a" stroke-width="0.9"/>
<line x1="472.7" y1="621" x2="477.3" y2="621" stroke="#8a8a8a" stroke-width="0.9"/>
<line x1="475" y1="645.9" x2="475" y2="648.3" stroke="#2a2a2a" stroke-width="0.9"/>
<line x1="426.5" y1="555" x2="426.5" y2="646.5" stroke="#2a2a2a" stroke-width="1.3"/>
<line x1="425.9" y1="645.9" x2="485.6" y2="645.9" stroke="#2a2a2a" stroke-width="1.3"/>
<line x1="423.8" y1="645.9" x2="426.5" y2="645.9" stroke="#2a2a2a" stroke-width="1"/>
<text x="422.6" y="648.26" font-size="6.6" text-anchor="end" fill="#333" stroke="#333" stroke-width="0.14">0.0</text>
<line x1="423.8" y1="616.5" x2="426.5" y2="616.5" stroke="#2a2a2a" stroke-width="1"/>
<text x="422.6" y="618.86" font-size="6.6" text-anchor="end" fill="#333" stroke="#333" stroke-width="0.14">0.5</text>
<line x1="423.8" y1="587.1" x2="426.5" y2="587.1" stroke="#2a2a2a" stroke-width="1"/>
<text x="422.6" y="589.46" font-size="6.6" text-anchor="end" fill="#333" stroke="#333" stroke-width="0.14">1.0</text>
<line x1="423.8" y1="557.7" x2="426.5" y2="557.7" stroke="#2a2a2a" stroke-width="1"/>
<text x="422.6" y="560.06" font-size="6.6" text-anchor="end" fill="#333" stroke="#333" stroke-width="0.14">1.5</text>
<text x="437.3" y="656.96" font-size="6.6" text-anchor="middle" fill="#333" stroke="#333" stroke-width="0.14">0</text>
<text x="450" y="656.96" font-size="6.6" text-anchor="middle" fill="#333" stroke="#333" stroke-width="0.14">50</text>
<text x="462.4" y="656.96" font-size="6.6" text-anchor="middle" fill="#333" stroke="#333" stroke-width="0.14">250</text>
<text x="475.1" y="656.96" font-size="6.6" text-anchor="middle" fill="#333" stroke="#333" stroke-width="0.14">500</text>
<text x="456" y="668.84" font-size="9.6" text-anchor="middle" textLength="48" lengthAdjust="spacingAndGlyphs" fill="#333" stroke="#333" stroke-width="0.14">YKL-5-124 (nM)</text>
<text x="411.21" y="601.8" font-size="8.4" text-anchor="middle" textLength="62.7" lengthAdjust="spacingAndGlyphs" fill="#333" stroke="#333" stroke-width="0.14" transform="rotate(-90 411.21 601.8)">Ratio of HK2/GAPDH</text>
<path d="M437.2 583.3 V580.4 H449.9 V598.3" fill="none" stroke="#383838" stroke-width="0.95"/>
<path d="M437.2 567.2 V564.0 H462.6 V610" fill="none" stroke="#383838" stroke-width="0.95"/>
<path d="M437.2 550.5 V547.3 H475.0 V619.8" fill="none" stroke="#383838" stroke-width="0.95"/>
<circle cx="440.5" cy="575.9" r="0.85" fill="#2a2a2a"/>
<circle cx="443.6" cy="575.9" r="0.85" fill="#2a2a2a"/>
<circle cx="446.7" cy="575.9" r="0.85" fill="#2a2a2a"/>
<circle cx="446.45" cy="561" r="0.85" fill="#2a2a2a"/>
<circle cx="449.55" cy="561" r="0.85" fill="#2a2a2a"/>
<circle cx="452.65" cy="561" r="0.85" fill="#2a2a2a"/>
<circle cx="455.75" cy="561" r="0.85" fill="#2a2a2a"/>
<circle cx="451.85" cy="544" r="0.85" fill="#2a2a2a"/>
<circle cx="454.95" cy="544" r="0.85" fill="#2a2a2a"/>
<circle cx="458.05" cy="544" r="0.85" fill="#2a2a2a"/>
<circle cx="461.15" cy="544" r="0.85" fill="#2a2a2a"/>
<rect x="0.5" y="0.5" width="519" height="682" fill="none" stroke="#585858" stroke-width="1"/>
</svg>
</body></html>
